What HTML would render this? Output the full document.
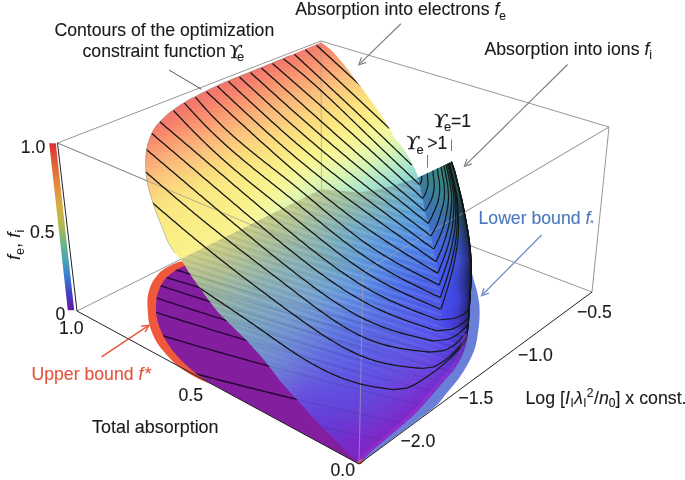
<!DOCTYPE html>
<html><head><meta charset="utf-8"><style>
html,body{margin:0;padding:0;background:#fff;width:685px;height:480px;overflow:hidden}
svg{display:block;font-family:"Liberation Sans",sans-serif;will-change:transform}
</style></head><body>
<svg width="685" height="480" viewBox="0 0 685 480">
<defs><linearGradient id="gu0" gradientUnits="userSpaceOnUse" x1="140" y1="0" x2="428" y2="0"><stop offset="0.000" stop-color="#f2746c"/><stop offset="0.056" stop-color="#f1746c"/><stop offset="0.111" stop-color="#f1746c"/><stop offset="0.167" stop-color="#f1746c"/><stop offset="0.222" stop-color="#f1746c"/><stop offset="0.278" stop-color="#f1746c"/><stop offset="0.333" stop-color="#f1746c"/><stop offset="0.389" stop-color="#f1746c"/><stop offset="0.444" stop-color="#f1736c"/><stop offset="0.500" stop-color="#f1736c"/><stop offset="0.556" stop-color="#f2756b"/><stop offset="0.611" stop-color="#f3796c"/><stop offset="0.667" stop-color="#f5816d"/><stop offset="0.722" stop-color="#f88d6e"/><stop offset="0.778" stop-color="#f99871"/><stop offset="0.833" stop-color="#faa474"/><stop offset="0.889" stop-color="#fab079"/><stop offset="0.944" stop-color="#fabc7c"/><stop offset="1.000" stop-color="#fac67e"/></linearGradient><linearGradient id="gu1" gradientUnits="userSpaceOnUse" x1="140" y1="0" x2="428" y2="0"><stop offset="0.000" stop-color="#f2746b"/><stop offset="0.056" stop-color="#f1746c"/><stop offset="0.111" stop-color="#f1746c"/><stop offset="0.167" stop-color="#f1746c"/><stop offset="0.222" stop-color="#f1746c"/><stop offset="0.278" stop-color="#f1746c"/><stop offset="0.333" stop-color="#f1746c"/><stop offset="0.389" stop-color="#f1736c"/><stop offset="0.444" stop-color="#f1736c"/><stop offset="0.500" stop-color="#f1736b"/><stop offset="0.556" stop-color="#f2766b"/><stop offset="0.611" stop-color="#f47d6c"/><stop offset="0.667" stop-color="#f6876d"/><stop offset="0.722" stop-color="#f9926f"/><stop offset="0.778" stop-color="#fa9e73"/><stop offset="0.833" stop-color="#faaa76"/><stop offset="0.889" stop-color="#fab67a"/><stop offset="0.944" stop-color="#fac17d"/><stop offset="1.000" stop-color="#facb7e"/></linearGradient><linearGradient id="gu2" gradientUnits="userSpaceOnUse" x1="140" y1="0" x2="428" y2="0"><stop offset="0.000" stop-color="#f2736b"/><stop offset="0.056" stop-color="#f1746c"/><stop offset="0.111" stop-color="#f1746c"/><stop offset="0.167" stop-color="#f1736c"/><stop offset="0.222" stop-color="#f1736c"/><stop offset="0.278" stop-color="#f1736c"/><stop offset="0.333" stop-color="#f1736b"/><stop offset="0.389" stop-color="#f1736b"/><stop offset="0.444" stop-color="#f2736b"/><stop offset="0.500" stop-color="#f2746b"/><stop offset="0.556" stop-color="#f3796c"/><stop offset="0.611" stop-color="#f5826d"/><stop offset="0.667" stop-color="#f88d6e"/><stop offset="0.722" stop-color="#f99871"/><stop offset="0.778" stop-color="#faa475"/><stop offset="0.833" stop-color="#fab179"/><stop offset="0.889" stop-color="#fabc7c"/><stop offset="0.944" stop-color="#fbc67d"/><stop offset="1.000" stop-color="#facf7e"/></linearGradient><linearGradient id="gu3" gradientUnits="userSpaceOnUse" x1="140" y1="0" x2="428" y2="0"><stop offset="0.000" stop-color="#f2736b"/><stop offset="0.056" stop-color="#f1736c"/><stop offset="0.111" stop-color="#f1736c"/><stop offset="0.167" stop-color="#f1736b"/><stop offset="0.222" stop-color="#f1736b"/><stop offset="0.278" stop-color="#f1736b"/><stop offset="0.333" stop-color="#f1736b"/><stop offset="0.389" stop-color="#f1736b"/><stop offset="0.444" stop-color="#f2746b"/><stop offset="0.500" stop-color="#f2766b"/><stop offset="0.556" stop-color="#f47d6c"/><stop offset="0.611" stop-color="#f6876d"/><stop offset="0.667" stop-color="#f8936f"/><stop offset="0.722" stop-color="#fa9e73"/><stop offset="0.778" stop-color="#faaa77"/><stop offset="0.833" stop-color="#fab77b"/><stop offset="0.889" stop-color="#fac17d"/><stop offset="0.944" stop-color="#fbcb7e"/><stop offset="1.000" stop-color="#fad37e"/></linearGradient><linearGradient id="gu4" gradientUnits="userSpaceOnUse" x1="140" y1="0" x2="428" y2="0"><stop offset="0.000" stop-color="#f2736b"/><stop offset="0.056" stop-color="#f1736c"/><stop offset="0.111" stop-color="#f1736b"/><stop offset="0.167" stop-color="#f1736b"/><stop offset="0.222" stop-color="#f1736b"/><stop offset="0.278" stop-color="#f1736b"/><stop offset="0.333" stop-color="#f1736b"/><stop offset="0.389" stop-color="#f1736b"/><stop offset="0.444" stop-color="#f2756b"/><stop offset="0.500" stop-color="#f3786b"/><stop offset="0.556" stop-color="#f5826d"/><stop offset="0.611" stop-color="#f88c6e"/><stop offset="0.667" stop-color="#f99871"/><stop offset="0.722" stop-color="#faa474"/><stop offset="0.778" stop-color="#fab079"/><stop offset="0.833" stop-color="#fabd7d"/><stop offset="0.889" stop-color="#fbc67d"/><stop offset="0.944" stop-color="#fbcf7e"/><stop offset="1.000" stop-color="#fad87e"/></linearGradient><linearGradient id="gu5" gradientUnits="userSpaceOnUse" x1="140" y1="0" x2="428" y2="0"><stop offset="0.000" stop-color="#f2736b"/><stop offset="0.056" stop-color="#f1736c"/><stop offset="0.111" stop-color="#f1736b"/><stop offset="0.167" stop-color="#f1736b"/><stop offset="0.222" stop-color="#f1736b"/><stop offset="0.278" stop-color="#f1736b"/><stop offset="0.333" stop-color="#f1736b"/><stop offset="0.389" stop-color="#f2746b"/><stop offset="0.444" stop-color="#f2766c"/><stop offset="0.500" stop-color="#f47c6c"/><stop offset="0.556" stop-color="#f6876d"/><stop offset="0.611" stop-color="#f9926f"/><stop offset="0.667" stop-color="#fa9e72"/><stop offset="0.722" stop-color="#faaa77"/><stop offset="0.778" stop-color="#fab67a"/><stop offset="0.833" stop-color="#fbc27e"/><stop offset="0.889" stop-color="#fbcb7e"/><stop offset="0.944" stop-color="#fbd47d"/><stop offset="1.000" stop-color="#fadc7e"/></linearGradient><linearGradient id="gu6" gradientUnits="userSpaceOnUse" x1="140" y1="0" x2="428" y2="0"><stop offset="0.000" stop-color="#f2736b"/><stop offset="0.056" stop-color="#f1736c"/><stop offset="0.111" stop-color="#f1736b"/><stop offset="0.167" stop-color="#f1736b"/><stop offset="0.222" stop-color="#f1736b"/><stop offset="0.278" stop-color="#f1736b"/><stop offset="0.333" stop-color="#f1736b"/><stop offset="0.389" stop-color="#f2756b"/><stop offset="0.444" stop-color="#f3796c"/><stop offset="0.500" stop-color="#f5816d"/><stop offset="0.556" stop-color="#f88c6e"/><stop offset="0.611" stop-color="#f99871"/><stop offset="0.667" stop-color="#faa474"/><stop offset="0.722" stop-color="#fab079"/><stop offset="0.778" stop-color="#fabc7c"/><stop offset="0.833" stop-color="#fbc67e"/><stop offset="0.889" stop-color="#fbcf7e"/><stop offset="0.944" stop-color="#fbd87d"/><stop offset="1.000" stop-color="#fadf7f"/></linearGradient><linearGradient id="gu7" gradientUnits="userSpaceOnUse" x1="140" y1="0" x2="428" y2="0"><stop offset="0.000" stop-color="#f2736b"/><stop offset="0.056" stop-color="#f1736b"/><stop offset="0.111" stop-color="#f1736b"/><stop offset="0.167" stop-color="#f1736b"/><stop offset="0.222" stop-color="#f1736b"/><stop offset="0.278" stop-color="#f1736b"/><stop offset="0.333" stop-color="#f1736b"/><stop offset="0.389" stop-color="#f2766b"/><stop offset="0.444" stop-color="#f47d6c"/><stop offset="0.500" stop-color="#f6876d"/><stop offset="0.556" stop-color="#f9926f"/><stop offset="0.611" stop-color="#fa9e72"/><stop offset="0.667" stop-color="#faaa76"/><stop offset="0.722" stop-color="#fab67a"/><stop offset="0.778" stop-color="#fac17d"/><stop offset="0.833" stop-color="#fbcb7e"/><stop offset="0.889" stop-color="#fbd37d"/><stop offset="0.944" stop-color="#fbdc7e"/><stop offset="1.000" stop-color="#fae380"/></linearGradient><linearGradient id="gu8" gradientUnits="userSpaceOnUse" x1="140" y1="0" x2="428" y2="0"><stop offset="0.000" stop-color="#f2736b"/><stop offset="0.056" stop-color="#f1736b"/><stop offset="0.111" stop-color="#f1736b"/><stop offset="0.167" stop-color="#f1736b"/><stop offset="0.222" stop-color="#f1736b"/><stop offset="0.278" stop-color="#f2736b"/><stop offset="0.333" stop-color="#f2746b"/><stop offset="0.389" stop-color="#f3796c"/><stop offset="0.444" stop-color="#f5816d"/><stop offset="0.500" stop-color="#f88d6e"/><stop offset="0.556" stop-color="#f99871"/><stop offset="0.611" stop-color="#faa474"/><stop offset="0.667" stop-color="#fab078"/><stop offset="0.722" stop-color="#fabc7c"/><stop offset="0.778" stop-color="#fbc67e"/><stop offset="0.833" stop-color="#fbcf7d"/><stop offset="0.889" stop-color="#fbd87e"/><stop offset="0.944" stop-color="#fae07e"/><stop offset="1.000" stop-color="#fae681"/></linearGradient><linearGradient id="gu9" gradientUnits="userSpaceOnUse" x1="140" y1="0" x2="428" y2="0"><stop offset="0.000" stop-color="#f2736b"/><stop offset="0.056" stop-color="#f1736b"/><stop offset="0.111" stop-color="#f1736b"/><stop offset="0.167" stop-color="#f1736b"/><stop offset="0.222" stop-color="#f1736b"/><stop offset="0.278" stop-color="#f2746b"/><stop offset="0.333" stop-color="#f2766b"/><stop offset="0.389" stop-color="#f47d6c"/><stop offset="0.444" stop-color="#f6866d"/><stop offset="0.500" stop-color="#f8926f"/><stop offset="0.556" stop-color="#fa9e72"/><stop offset="0.611" stop-color="#faaa76"/><stop offset="0.667" stop-color="#fab67b"/><stop offset="0.722" stop-color="#fac17d"/><stop offset="0.778" stop-color="#fbcb7e"/><stop offset="0.833" stop-color="#fbd37d"/><stop offset="0.889" stop-color="#fadc7e"/><stop offset="0.944" stop-color="#fae380"/><stop offset="1.000" stop-color="#fae883"/></linearGradient><linearGradient id="gu10" gradientUnits="userSpaceOnUse" x1="140" y1="0" x2="428" y2="0"><stop offset="0.000" stop-color="#f2736b"/><stop offset="0.056" stop-color="#f1736b"/><stop offset="0.111" stop-color="#f1736b"/><stop offset="0.167" stop-color="#f1736b"/><stop offset="0.222" stop-color="#f1736b"/><stop offset="0.278" stop-color="#f2756b"/><stop offset="0.333" stop-color="#f3786b"/><stop offset="0.389" stop-color="#f5816d"/><stop offset="0.444" stop-color="#f88c6e"/><stop offset="0.500" stop-color="#f99871"/><stop offset="0.556" stop-color="#faa474"/><stop offset="0.611" stop-color="#fab078"/><stop offset="0.667" stop-color="#fabc7c"/><stop offset="0.722" stop-color="#fbc67d"/><stop offset="0.778" stop-color="#fbcf7e"/><stop offset="0.833" stop-color="#fbd87d"/><stop offset="0.889" stop-color="#fae07e"/><stop offset="0.944" stop-color="#fae681"/><stop offset="1.000" stop-color="#faeb85"/></linearGradient><linearGradient id="gu11" gradientUnits="userSpaceOnUse" x1="140" y1="0" x2="428" y2="0"><stop offset="0.000" stop-color="#f2736b"/><stop offset="0.056" stop-color="#f1736b"/><stop offset="0.111" stop-color="#f1736b"/><stop offset="0.167" stop-color="#f1736b"/><stop offset="0.222" stop-color="#f2746b"/><stop offset="0.278" stop-color="#f2766c"/><stop offset="0.333" stop-color="#f47c6c"/><stop offset="0.389" stop-color="#f6876d"/><stop offset="0.444" stop-color="#f8926f"/><stop offset="0.500" stop-color="#fa9e72"/><stop offset="0.556" stop-color="#faaa76"/><stop offset="0.611" stop-color="#fab67a"/><stop offset="0.667" stop-color="#fbc17d"/><stop offset="0.722" stop-color="#fbca7e"/><stop offset="0.778" stop-color="#fbd37d"/><stop offset="0.833" stop-color="#fadc7e"/><stop offset="0.889" stop-color="#fae37f"/><stop offset="0.944" stop-color="#fae883"/><stop offset="1.000" stop-color="#f9ed87"/></linearGradient><linearGradient id="gu12" gradientUnits="userSpaceOnUse" x1="140" y1="0" x2="428" y2="0"><stop offset="0.000" stop-color="#f2736b"/><stop offset="0.056" stop-color="#f1736b"/><stop offset="0.111" stop-color="#f1736b"/><stop offset="0.167" stop-color="#f1736b"/><stop offset="0.222" stop-color="#f2746b"/><stop offset="0.278" stop-color="#f3796c"/><stop offset="0.333" stop-color="#f5816c"/><stop offset="0.389" stop-color="#f78c6e"/><stop offset="0.444" stop-color="#f99871"/><stop offset="0.500" stop-color="#faa474"/><stop offset="0.556" stop-color="#fab078"/><stop offset="0.611" stop-color="#fabc7c"/><stop offset="0.667" stop-color="#fbc67e"/><stop offset="0.722" stop-color="#fbcf7e"/><stop offset="0.778" stop-color="#fbd87d"/><stop offset="0.833" stop-color="#fadf7f"/><stop offset="0.889" stop-color="#fae681"/><stop offset="0.944" stop-color="#faeb85"/><stop offset="1.000" stop-color="#f9ef8a"/></linearGradient><linearGradient id="gu13" gradientUnits="userSpaceOnUse" x1="140" y1="0" x2="428" y2="0"><stop offset="0.000" stop-color="#f2736b"/><stop offset="0.056" stop-color="#f1736b"/><stop offset="0.111" stop-color="#f1736b"/><stop offset="0.167" stop-color="#f1736b"/><stop offset="0.222" stop-color="#f2766b"/><stop offset="0.278" stop-color="#f47c6c"/><stop offset="0.333" stop-color="#f6876d"/><stop offset="0.389" stop-color="#f9926f"/><stop offset="0.444" stop-color="#fa9e72"/><stop offset="0.500" stop-color="#faaa76"/><stop offset="0.556" stop-color="#fab67a"/><stop offset="0.611" stop-color="#fac17d"/><stop offset="0.667" stop-color="#fbca7e"/><stop offset="0.722" stop-color="#fbd37e"/><stop offset="0.778" stop-color="#fbdc7e"/><stop offset="0.833" stop-color="#fae380"/><stop offset="0.889" stop-color="#fae883"/><stop offset="0.944" stop-color="#faee87"/><stop offset="1.000" stop-color="#f8f18e"/></linearGradient><linearGradient id="gu14" gradientUnits="userSpaceOnUse" x1="140" y1="0" x2="428" y2="0"><stop offset="0.000" stop-color="#f1736b"/><stop offset="0.056" stop-color="#f1736b"/><stop offset="0.111" stop-color="#f2736b"/><stop offset="0.167" stop-color="#f2746b"/><stop offset="0.222" stop-color="#f3796c"/><stop offset="0.278" stop-color="#f5816c"/><stop offset="0.333" stop-color="#f78c6e"/><stop offset="0.389" stop-color="#f99871"/><stop offset="0.444" stop-color="#faa474"/><stop offset="0.500" stop-color="#fab078"/><stop offset="0.556" stop-color="#fabb7c"/><stop offset="0.611" stop-color="#fbc67d"/><stop offset="0.667" stop-color="#fbcf7d"/><stop offset="0.722" stop-color="#fbd77e"/><stop offset="0.778" stop-color="#fae07e"/><stop offset="0.833" stop-color="#fae681"/><stop offset="0.889" stop-color="#faeb85"/><stop offset="0.944" stop-color="#f9f08a"/><stop offset="1.000" stop-color="#f8f391"/></linearGradient><linearGradient id="gu15" gradientUnits="userSpaceOnUse" x1="140" y1="0" x2="428" y2="0"><stop offset="0.000" stop-color="#f1736b"/><stop offset="0.056" stop-color="#f1736b"/><stop offset="0.111" stop-color="#f2746b"/><stop offset="0.167" stop-color="#f2766b"/><stop offset="0.222" stop-color="#f47d6c"/><stop offset="0.278" stop-color="#f6866d"/><stop offset="0.333" stop-color="#f8926f"/><stop offset="0.389" stop-color="#fa9e72"/><stop offset="0.444" stop-color="#faaa76"/><stop offset="0.500" stop-color="#fab67a"/><stop offset="0.556" stop-color="#fac17d"/><stop offset="0.611" stop-color="#fbca7e"/><stop offset="0.667" stop-color="#fbd37d"/><stop offset="0.722" stop-color="#fadc7e"/><stop offset="0.778" stop-color="#fae380"/><stop offset="0.833" stop-color="#fae883"/><stop offset="0.889" stop-color="#faed87"/><stop offset="0.944" stop-color="#f9f28d"/><stop offset="1.000" stop-color="#f7f596"/></linearGradient><linearGradient id="gu16" gradientUnits="userSpaceOnUse" x1="140" y1="0" x2="428" y2="0"><stop offset="0.000" stop-color="#f1736b"/><stop offset="0.056" stop-color="#f1736b"/><stop offset="0.111" stop-color="#f2746b"/><stop offset="0.167" stop-color="#f3786b"/><stop offset="0.222" stop-color="#f5816d"/><stop offset="0.278" stop-color="#f88c6e"/><stop offset="0.333" stop-color="#f99770"/><stop offset="0.389" stop-color="#faa474"/><stop offset="0.444" stop-color="#fab078"/><stop offset="0.500" stop-color="#fabc7c"/><stop offset="0.556" stop-color="#fbc57d"/><stop offset="0.611" stop-color="#fbcf7e"/><stop offset="0.667" stop-color="#fbd77d"/><stop offset="0.722" stop-color="#fadf7e"/><stop offset="0.778" stop-color="#fae681"/><stop offset="0.833" stop-color="#faeb84"/><stop offset="0.889" stop-color="#f9f08a"/><stop offset="0.944" stop-color="#f8f391"/><stop offset="1.000" stop-color="#f6f79a"/></linearGradient><linearGradient id="gu17" gradientUnits="userSpaceOnUse" x1="140" y1="0" x2="428" y2="0"><stop offset="0.000" stop-color="#f1736b"/><stop offset="0.056" stop-color="#f2746b"/><stop offset="0.111" stop-color="#f2766c"/><stop offset="0.167" stop-color="#f47b6c"/><stop offset="0.222" stop-color="#f6866d"/><stop offset="0.278" stop-color="#f8926f"/><stop offset="0.333" stop-color="#fa9d72"/><stop offset="0.389" stop-color="#faaa76"/><stop offset="0.444" stop-color="#fab67a"/><stop offset="0.500" stop-color="#fac17d"/><stop offset="0.556" stop-color="#fbca7e"/><stop offset="0.611" stop-color="#fbd37d"/><stop offset="0.667" stop-color="#fadb7e"/><stop offset="0.722" stop-color="#fae37f"/><stop offset="0.778" stop-color="#fae883"/><stop offset="0.833" stop-color="#faed87"/><stop offset="0.889" stop-color="#f9f28d"/><stop offset="0.944" stop-color="#f7f596"/><stop offset="1.000" stop-color="#f4f79e"/></linearGradient><linearGradient id="gu18" gradientUnits="userSpaceOnUse" x1="140" y1="0" x2="428" y2="0"><stop offset="0.000" stop-color="#f1736b"/><stop offset="0.056" stop-color="#f2746b"/><stop offset="0.111" stop-color="#f3796c"/><stop offset="0.167" stop-color="#f5816c"/><stop offset="0.222" stop-color="#f78c6e"/><stop offset="0.278" stop-color="#f99771"/><stop offset="0.333" stop-color="#faa374"/><stop offset="0.389" stop-color="#fab078"/><stop offset="0.444" stop-color="#fabb7c"/><stop offset="0.500" stop-color="#fbc67e"/><stop offset="0.556" stop-color="#fbcf7e"/><stop offset="0.611" stop-color="#fbd77d"/><stop offset="0.667" stop-color="#fadf7f"/><stop offset="0.722" stop-color="#fae681"/><stop offset="0.778" stop-color="#faeb84"/><stop offset="0.833" stop-color="#f9f08a"/><stop offset="0.889" stop-color="#f8f491"/><stop offset="0.944" stop-color="#f6f69a"/><stop offset="1.000" stop-color="#f0f7a2"/></linearGradient><linearGradient id="gu19" gradientUnits="userSpaceOnUse" x1="140" y1="0" x2="428" y2="0"><stop offset="0.000" stop-color="#f1736b"/><stop offset="0.056" stop-color="#f2766b"/><stop offset="0.111" stop-color="#f47c6c"/><stop offset="0.167" stop-color="#f6866d"/><stop offset="0.222" stop-color="#f8916f"/><stop offset="0.278" stop-color="#fa9d72"/><stop offset="0.333" stop-color="#faa976"/><stop offset="0.389" stop-color="#fab67a"/><stop offset="0.444" stop-color="#fac07d"/><stop offset="0.500" stop-color="#fbca7e"/><stop offset="0.556" stop-color="#fbd37e"/><stop offset="0.611" stop-color="#fbdc7e"/><stop offset="0.667" stop-color="#fae280"/><stop offset="0.722" stop-color="#fae883"/><stop offset="0.778" stop-color="#faee86"/><stop offset="0.833" stop-color="#f9f28d"/><stop offset="0.889" stop-color="#f7f596"/><stop offset="0.944" stop-color="#f4f79e"/><stop offset="1.000" stop-color="#ebf7a6"/></linearGradient><linearGradient id="gu20" gradientUnits="userSpaceOnUse" x1="140" y1="0" x2="428" y2="0"><stop offset="0.000" stop-color="#f2746b"/><stop offset="0.056" stop-color="#f3796c"/><stop offset="0.111" stop-color="#f5816c"/><stop offset="0.167" stop-color="#f78c6e"/><stop offset="0.222" stop-color="#f99770"/><stop offset="0.278" stop-color="#faa374"/><stop offset="0.333" stop-color="#faaf78"/><stop offset="0.389" stop-color="#fabb7c"/><stop offset="0.444" stop-color="#fbc57d"/><stop offset="0.500" stop-color="#fbce7d"/><stop offset="0.556" stop-color="#fbd77e"/><stop offset="0.611" stop-color="#fadf7e"/><stop offset="0.667" stop-color="#fae581"/><stop offset="0.722" stop-color="#faeb85"/><stop offset="0.778" stop-color="#f9f089"/><stop offset="0.833" stop-color="#f8f391"/><stop offset="0.889" stop-color="#f6f69a"/><stop offset="0.944" stop-color="#f1f8a2"/><stop offset="1.000" stop-color="#e7f7aa"/></linearGradient><linearGradient id="gu21" gradientUnits="userSpaceOnUse" x1="140" y1="0" x2="428" y2="0"><stop offset="0.000" stop-color="#f2766b"/><stop offset="0.056" stop-color="#f47c6c"/><stop offset="0.111" stop-color="#f6866d"/><stop offset="0.167" stop-color="#f8916f"/><stop offset="0.222" stop-color="#fa9d72"/><stop offset="0.278" stop-color="#faa976"/><stop offset="0.333" stop-color="#fab57a"/><stop offset="0.389" stop-color="#fac07d"/><stop offset="0.444" stop-color="#fbca7e"/><stop offset="0.500" stop-color="#fbd37d"/><stop offset="0.556" stop-color="#fbdb7e"/><stop offset="0.611" stop-color="#fae27f"/><stop offset="0.667" stop-color="#fae882"/><stop offset="0.722" stop-color="#faed87"/><stop offset="0.778" stop-color="#f9f28d"/><stop offset="0.833" stop-color="#f8f595"/><stop offset="0.889" stop-color="#f4f79e"/><stop offset="0.944" stop-color="#ecf8a6"/><stop offset="1.000" stop-color="#e1f6ae"/></linearGradient><linearGradient id="gu22" gradientUnits="userSpaceOnUse" x1="140" y1="0" x2="428" y2="0"><stop offset="0.000" stop-color="#f3786b"/><stop offset="0.056" stop-color="#f5816d"/><stop offset="0.111" stop-color="#f78b6e"/><stop offset="0.167" stop-color="#f99770"/><stop offset="0.222" stop-color="#faa374"/><stop offset="0.278" stop-color="#faaf78"/><stop offset="0.333" stop-color="#fabb7c"/><stop offset="0.389" stop-color="#fac57d"/><stop offset="0.444" stop-color="#fbce7e"/><stop offset="0.500" stop-color="#fbd77d"/><stop offset="0.556" stop-color="#fadf7e"/><stop offset="0.611" stop-color="#fae581"/><stop offset="0.667" stop-color="#faeb84"/><stop offset="0.722" stop-color="#f9f089"/><stop offset="0.778" stop-color="#f8f391"/><stop offset="0.833" stop-color="#f7f79a"/><stop offset="0.889" stop-color="#f1f8a2"/><stop offset="0.944" stop-color="#e7f7aa"/><stop offset="1.000" stop-color="#dbf5b2"/></linearGradient><linearGradient id="gu23" gradientUnits="userSpaceOnUse" x1="140" y1="0" x2="428" y2="0"><stop offset="0.000" stop-color="#f47c6c"/><stop offset="0.056" stop-color="#f6866d"/><stop offset="0.111" stop-color="#f8916f"/><stop offset="0.167" stop-color="#fa9d72"/><stop offset="0.222" stop-color="#faa976"/><stop offset="0.278" stop-color="#fab57a"/><stop offset="0.333" stop-color="#fac17d"/><stop offset="0.389" stop-color="#fbca7e"/><stop offset="0.444" stop-color="#fbd37d"/><stop offset="0.500" stop-color="#fadb7e"/><stop offset="0.556" stop-color="#fae37f"/><stop offset="0.611" stop-color="#fae883"/><stop offset="0.667" stop-color="#faed87"/><stop offset="0.722" stop-color="#f9f28d"/><stop offset="0.778" stop-color="#f7f595"/><stop offset="0.833" stop-color="#f4f79e"/><stop offset="0.889" stop-color="#edf8a6"/><stop offset="0.944" stop-color="#e1f6ae"/><stop offset="1.000" stop-color="#d4f4b6"/></linearGradient><linearGradient id="gu24" gradientUnits="userSpaceOnUse" x1="140" y1="0" x2="428" y2="0"><stop offset="0.000" stop-color="#f5816d"/><stop offset="0.056" stop-color="#f78b6e"/><stop offset="0.111" stop-color="#f99771"/><stop offset="0.167" stop-color="#faa374"/><stop offset="0.222" stop-color="#faaf78"/><stop offset="0.278" stop-color="#fabb7c"/><stop offset="0.333" stop-color="#fbc57d"/><stop offset="0.389" stop-color="#fbce7e"/><stop offset="0.444" stop-color="#fbd77d"/><stop offset="0.500" stop-color="#fadf7f"/><stop offset="0.556" stop-color="#fae581"/><stop offset="0.611" stop-color="#faeb84"/><stop offset="0.667" stop-color="#f9ef8a"/><stop offset="0.722" stop-color="#f8f391"/><stop offset="0.778" stop-color="#f6f69a"/><stop offset="0.833" stop-color="#f0f8a2"/><stop offset="0.889" stop-color="#e7f7aa"/><stop offset="0.944" stop-color="#dbf5b3"/><stop offset="1.000" stop-color="#cdf1bb"/></linearGradient><linearGradient id="gu25" gradientUnits="userSpaceOnUse" x1="140" y1="0" x2="428" y2="0"><stop offset="0.000" stop-color="#f6866d"/><stop offset="0.056" stop-color="#f8916f"/><stop offset="0.111" stop-color="#fa9d72"/><stop offset="0.167" stop-color="#faa976"/><stop offset="0.222" stop-color="#fab57a"/><stop offset="0.278" stop-color="#fac07d"/><stop offset="0.333" stop-color="#fbca7e"/><stop offset="0.389" stop-color="#fbd37e"/><stop offset="0.444" stop-color="#fbdb7d"/><stop offset="0.500" stop-color="#fae280"/><stop offset="0.556" stop-color="#fae882"/><stop offset="0.611" stop-color="#faed86"/><stop offset="0.667" stop-color="#f9f18d"/><stop offset="0.722" stop-color="#f7f595"/><stop offset="0.778" stop-color="#f4f79e"/><stop offset="0.833" stop-color="#ecf7a6"/><stop offset="0.889" stop-color="#e1f6ae"/><stop offset="0.944" stop-color="#d4f3b7"/><stop offset="1.000" stop-color="#c5eebf"/></linearGradient><linearGradient id="gu26" gradientUnits="userSpaceOnUse" x1="140" y1="0" x2="428" y2="0"><stop offset="0.000" stop-color="#f78c6e"/><stop offset="0.056" stop-color="#f99770"/><stop offset="0.111" stop-color="#faa374"/><stop offset="0.167" stop-color="#faaf78"/><stop offset="0.222" stop-color="#fabb7c"/><stop offset="0.278" stop-color="#fbc57d"/><stop offset="0.333" stop-color="#fbce7d"/><stop offset="0.389" stop-color="#fbd77e"/><stop offset="0.444" stop-color="#fadf7e"/><stop offset="0.500" stop-color="#fae581"/><stop offset="0.556" stop-color="#faeb84"/><stop offset="0.611" stop-color="#f9f089"/><stop offset="0.667" stop-color="#f8f391"/><stop offset="0.722" stop-color="#f6f69a"/><stop offset="0.778" stop-color="#f1f8a2"/><stop offset="0.833" stop-color="#e7f7aa"/><stop offset="0.889" stop-color="#dbf5b2"/><stop offset="0.944" stop-color="#cdf1bb"/><stop offset="1.000" stop-color="#bdebc3"/></linearGradient><linearGradient id="gu27" gradientUnits="userSpaceOnUse" x1="140" y1="0" x2="428" y2="0"><stop offset="0.000" stop-color="#f8916f"/><stop offset="0.056" stop-color="#fa9d72"/><stop offset="0.111" stop-color="#faa976"/><stop offset="0.167" stop-color="#fab57a"/><stop offset="0.222" stop-color="#fac07d"/><stop offset="0.278" stop-color="#fbca7e"/><stop offset="0.333" stop-color="#fbd37d"/><stop offset="0.389" stop-color="#fadb7e"/><stop offset="0.444" stop-color="#fae27f"/><stop offset="0.500" stop-color="#fae882"/><stop offset="0.556" stop-color="#faed86"/><stop offset="0.611" stop-color="#f9f28d"/><stop offset="0.667" stop-color="#f8f595"/><stop offset="0.722" stop-color="#f4f79e"/><stop offset="0.778" stop-color="#ecf8a6"/><stop offset="0.833" stop-color="#e1f7ae"/><stop offset="0.889" stop-color="#d4f3b7"/><stop offset="0.944" stop-color="#c5eebf"/><stop offset="1.000" stop-color="#b6e8c6"/></linearGradient><linearGradient id="gu28" gradientUnits="userSpaceOnUse" x1="140" y1="0" x2="428" y2="0"><stop offset="0.000" stop-color="#f99770"/><stop offset="0.056" stop-color="#faa374"/><stop offset="0.111" stop-color="#faaf78"/><stop offset="0.167" stop-color="#fabb7c"/><stop offset="0.222" stop-color="#fac57d"/><stop offset="0.278" stop-color="#fbce7e"/><stop offset="0.333" stop-color="#fbd77d"/><stop offset="0.389" stop-color="#fadf7e"/><stop offset="0.444" stop-color="#fae581"/><stop offset="0.500" stop-color="#faea84"/><stop offset="0.556" stop-color="#f9ef89"/><stop offset="0.611" stop-color="#f8f391"/><stop offset="0.667" stop-color="#f7f699"/><stop offset="0.722" stop-color="#f1f8a2"/><stop offset="0.778" stop-color="#e7f7aa"/><stop offset="0.833" stop-color="#dcf6b2"/><stop offset="0.889" stop-color="#cdf1bb"/><stop offset="0.944" stop-color="#bdebc3"/><stop offset="1.000" stop-color="#aee5c9"/></linearGradient><linearGradient id="gu29" gradientUnits="userSpaceOnUse" x1="140" y1="0" x2="428" y2="0"><stop offset="0.000" stop-color="#fa9d72"/><stop offset="0.056" stop-color="#faa976"/><stop offset="0.111" stop-color="#fab57a"/><stop offset="0.167" stop-color="#fac07d"/><stop offset="0.222" stop-color="#fbca7e"/><stop offset="0.278" stop-color="#fbd37d"/><stop offset="0.333" stop-color="#fadb7e"/><stop offset="0.389" stop-color="#fae27f"/><stop offset="0.444" stop-color="#fae882"/><stop offset="0.500" stop-color="#faec86"/><stop offset="0.556" stop-color="#f9f18c"/><stop offset="0.611" stop-color="#f7f595"/><stop offset="0.667" stop-color="#f4f79e"/><stop offset="0.722" stop-color="#edf8a6"/><stop offset="0.778" stop-color="#e1f6ae"/><stop offset="0.833" stop-color="#d5f4b6"/><stop offset="0.889" stop-color="#c5eebf"/><stop offset="0.944" stop-color="#b6e8c6"/><stop offset="1.000" stop-color="#a7e2cb"/></linearGradient><linearGradient id="gu30" gradientUnits="userSpaceOnUse" x1="140" y1="0" x2="428" y2="0"><stop offset="0.000" stop-color="#faa374"/><stop offset="0.056" stop-color="#faaf78"/><stop offset="0.111" stop-color="#faba7b"/><stop offset="0.167" stop-color="#fbc57d"/><stop offset="0.222" stop-color="#fbce7e"/><stop offset="0.278" stop-color="#fbd77d"/><stop offset="0.333" stop-color="#fadf7f"/><stop offset="0.389" stop-color="#fae581"/><stop offset="0.444" stop-color="#faea83"/><stop offset="0.500" stop-color="#f9ee88"/><stop offset="0.556" stop-color="#f8f390"/><stop offset="0.611" stop-color="#f6f699"/><stop offset="0.667" stop-color="#f1f8a2"/><stop offset="0.722" stop-color="#e8f7aa"/><stop offset="0.778" stop-color="#dbf5b2"/><stop offset="0.833" stop-color="#cdf1bb"/><stop offset="0.889" stop-color="#beecc2"/><stop offset="0.944" stop-color="#aee5c9"/><stop offset="1.000" stop-color="#a0dfcd"/></linearGradient><linearGradient id="gu31" gradientUnits="userSpaceOnUse" x1="140" y1="0" x2="428" y2="0"><stop offset="0.000" stop-color="#faa976"/><stop offset="0.056" stop-color="#fab57a"/><stop offset="0.111" stop-color="#fac07d"/><stop offset="0.167" stop-color="#fbc97d"/><stop offset="0.222" stop-color="#fbd27e"/><stop offset="0.278" stop-color="#fbdb7d"/><stop offset="0.333" stop-color="#fae280"/><stop offset="0.389" stop-color="#fae882"/><stop offset="0.444" stop-color="#faec85"/><stop offset="0.500" stop-color="#f9f08a"/><stop offset="0.556" stop-color="#f8f594"/><stop offset="0.611" stop-color="#f5f79e"/><stop offset="0.667" stop-color="#ecf7a6"/><stop offset="0.722" stop-color="#e2f7ae"/><stop offset="0.778" stop-color="#d4f3b6"/><stop offset="0.833" stop-color="#c5eebf"/><stop offset="0.889" stop-color="#b6e9c6"/><stop offset="0.944" stop-color="#a6e2cb"/><stop offset="1.000" stop-color="#99dcce"/></linearGradient><linearGradient id="gu32" gradientUnits="userSpaceOnUse" x1="140" y1="0" x2="428" y2="0"><stop offset="0.000" stop-color="#faaf78"/><stop offset="0.056" stop-color="#faba7b"/><stop offset="0.111" stop-color="#fbc57d"/><stop offset="0.167" stop-color="#fbce7d"/><stop offset="0.222" stop-color="#fbd77e"/><stop offset="0.278" stop-color="#fadf7e"/><stop offset="0.333" stop-color="#fae581"/><stop offset="0.389" stop-color="#fae983"/><stop offset="0.444" stop-color="#faed86"/><stop offset="0.500" stop-color="#f9f28d"/><stop offset="0.556" stop-color="#f6f699"/><stop offset="0.611" stop-color="#f1f8a2"/><stop offset="0.667" stop-color="#e7f7aa"/><stop offset="0.722" stop-color="#dbf5b2"/><stop offset="0.778" stop-color="#cdf1bb"/><stop offset="0.833" stop-color="#beecc3"/><stop offset="0.889" stop-color="#aee5c9"/><stop offset="0.944" stop-color="#9fdfcd"/><stop offset="1.000" stop-color="#92d8d0"/></linearGradient><linearGradient id="gu33" gradientUnits="userSpaceOnUse" x1="140" y1="0" x2="428" y2="0"><stop offset="0.000" stop-color="#fab57a"/><stop offset="0.056" stop-color="#fac07c"/><stop offset="0.111" stop-color="#fbc97e"/><stop offset="0.167" stop-color="#fbd27d"/><stop offset="0.222" stop-color="#fadb7e"/><stop offset="0.278" stop-color="#fae27f"/><stop offset="0.333" stop-color="#fae782"/><stop offset="0.389" stop-color="#faeb84"/><stop offset="0.444" stop-color="#f9ef88"/><stop offset="0.500" stop-color="#f8f391"/><stop offset="0.556" stop-color="#f5f79d"/><stop offset="0.611" stop-color="#edf8a6"/><stop offset="0.667" stop-color="#e2f7ae"/><stop offset="0.722" stop-color="#d4f3b6"/><stop offset="0.778" stop-color="#c6efbf"/><stop offset="0.833" stop-color="#b6e9c6"/><stop offset="0.889" stop-color="#a7e2cb"/><stop offset="0.944" stop-color="#98dccf"/><stop offset="1.000" stop-color="#8cd5d1"/></linearGradient><linearGradient id="gu34" gradientUnits="userSpaceOnUse" x1="140" y1="0" x2="428" y2="0"><stop offset="0.000" stop-color="#fabb7c"/><stop offset="0.056" stop-color="#fac57d"/><stop offset="0.111" stop-color="#fbce7e"/><stop offset="0.167" stop-color="#fbd77d"/><stop offset="0.222" stop-color="#fadf7e"/><stop offset="0.278" stop-color="#fae581"/><stop offset="0.333" stop-color="#fae983"/><stop offset="0.389" stop-color="#faec85"/><stop offset="0.444" stop-color="#f9f08a"/><stop offset="0.500" stop-color="#f8f595"/><stop offset="0.556" stop-color="#f2f8a1"/><stop offset="0.611" stop-color="#e7f7aa"/><stop offset="0.667" stop-color="#dcf6b2"/><stop offset="0.722" stop-color="#cdf1bb"/><stop offset="0.778" stop-color="#beecc2"/><stop offset="0.833" stop-color="#aee6c9"/><stop offset="0.889" stop-color="#9fdfcd"/><stop offset="0.944" stop-color="#92d8d0"/><stop offset="1.000" stop-color="#86d2d2"/></linearGradient><linearGradient id="gu35" gradientUnits="userSpaceOnUse" x1="140" y1="0" x2="428" y2="0"><stop offset="0.000" stop-color="#fac07d"/><stop offset="0.056" stop-color="#fbc97e"/><stop offset="0.111" stop-color="#fbd27d"/><stop offset="0.167" stop-color="#fadb7e"/><stop offset="0.222" stop-color="#fae27f"/><stop offset="0.278" stop-color="#fae782"/><stop offset="0.333" stop-color="#faea84"/><stop offset="0.389" stop-color="#faee86"/><stop offset="0.444" stop-color="#f9f28d"/><stop offset="0.500" stop-color="#f7f698"/><stop offset="0.556" stop-color="#eff8a5"/><stop offset="0.611" stop-color="#e2f6ae"/><stop offset="0.667" stop-color="#d5f4b6"/><stop offset="0.722" stop-color="#c6efbf"/><stop offset="0.778" stop-color="#b6e9c6"/><stop offset="0.833" stop-color="#a7e2cb"/><stop offset="0.889" stop-color="#98dccf"/><stop offset="0.944" stop-color="#8cd5d1"/><stop offset="1.000" stop-color="#82cfd3"/></linearGradient><linearGradient id="gu36" gradientUnits="userSpaceOnUse" x1="140" y1="0" x2="428" y2="0"><stop offset="0.000" stop-color="#fac57d"/><stop offset="0.056" stop-color="#fbce7e"/><stop offset="0.111" stop-color="#fbd77d"/><stop offset="0.167" stop-color="#fade7f"/><stop offset="0.222" stop-color="#fae581"/><stop offset="0.278" stop-color="#fae883"/><stop offset="0.333" stop-color="#faeb85"/><stop offset="0.389" stop-color="#f9ef88"/><stop offset="0.444" stop-color="#f8f390"/><stop offset="0.500" stop-color="#f5f79c"/><stop offset="0.556" stop-color="#e9f8a9"/><stop offset="0.611" stop-color="#dbf5b2"/><stop offset="0.667" stop-color="#cef1ba"/><stop offset="0.722" stop-color="#beecc2"/><stop offset="0.778" stop-color="#aee6c9"/><stop offset="0.833" stop-color="#a0dfcd"/><stop offset="0.889" stop-color="#92d8d0"/><stop offset="0.944" stop-color="#86d2d2"/><stop offset="1.000" stop-color="#7fced3"/></linearGradient><linearGradient id="gu37" gradientUnits="userSpaceOnUse" x1="140" y1="0" x2="428" y2="0"><stop offset="0.000" stop-color="#fac97d"/><stop offset="0.056" stop-color="#fbd27e"/><stop offset="0.111" stop-color="#fbdb7d"/><stop offset="0.167" stop-color="#fae27f"/><stop offset="0.222" stop-color="#fae782"/><stop offset="0.278" stop-color="#fae984"/><stop offset="0.333" stop-color="#faec85"/><stop offset="0.389" stop-color="#f9f089"/><stop offset="0.444" stop-color="#f8f493"/><stop offset="0.500" stop-color="#f4f89f"/><stop offset="0.556" stop-color="#e4f7ad"/><stop offset="0.611" stop-color="#d5f4b6"/><stop offset="0.667" stop-color="#c6efbf"/><stop offset="0.722" stop-color="#b6e9c6"/><stop offset="0.778" stop-color="#a7e3cb"/><stop offset="0.833" stop-color="#99dcce"/><stop offset="0.889" stop-color="#8cd5d1"/><stop offset="0.944" stop-color="#81cfd3"/><stop offset="1.000" stop-color="#7dcdd3"/></linearGradient><linearGradient id="gu38" gradientUnits="userSpaceOnUse" x1="140" y1="0" x2="428" y2="0"><stop offset="0.000" stop-color="#fbce7d"/><stop offset="0.056" stop-color="#fbd67e"/><stop offset="0.111" stop-color="#fadf7e"/><stop offset="0.167" stop-color="#fae581"/><stop offset="0.222" stop-color="#fae983"/><stop offset="0.278" stop-color="#faea84"/><stop offset="0.333" stop-color="#faed86"/><stop offset="0.389" stop-color="#f9f18b"/><stop offset="0.444" stop-color="#f8f595"/><stop offset="0.500" stop-color="#f1f8a3"/><stop offset="0.556" stop-color="#def6b1"/><stop offset="0.611" stop-color="#cef1ba"/><stop offset="0.667" stop-color="#beecc3"/><stop offset="0.722" stop-color="#afe6c9"/><stop offset="0.778" stop-color="#a0dfcd"/><stop offset="0.833" stop-color="#92d8d0"/><stop offset="0.889" stop-color="#87d2d2"/><stop offset="0.944" stop-color="#7ecdd3"/><stop offset="1.000" stop-color="#7cccd4"/></linearGradient><linearGradient id="gu39" gradientUnits="userSpaceOnUse" x1="140" y1="0" x2="428" y2="0"><stop offset="0.000" stop-color="#fbd27d"/><stop offset="0.056" stop-color="#fadb7e"/><stop offset="0.111" stop-color="#fae27f"/><stop offset="0.167" stop-color="#fae782"/><stop offset="0.222" stop-color="#faea84"/><stop offset="0.278" stop-color="#faeb85"/><stop offset="0.333" stop-color="#faee86"/><stop offset="0.389" stop-color="#f9f28d"/><stop offset="0.444" stop-color="#f7f698"/><stop offset="0.500" stop-color="#edf8a6"/><stop offset="0.556" stop-color="#d7f4b5"/><stop offset="0.611" stop-color="#c6efbe"/><stop offset="0.667" stop-color="#b6e9c6"/><stop offset="0.722" stop-color="#a7e3cb"/><stop offset="0.778" stop-color="#99dccf"/><stop offset="0.833" stop-color="#8cd5d1"/><stop offset="0.889" stop-color="#82cfd3"/><stop offset="0.944" stop-color="#7dcdd4"/><stop offset="1.000" stop-color="#7cccd4"/></linearGradient><linearGradient id="gu40" gradientUnits="userSpaceOnUse" x1="140" y1="0" x2="428" y2="0"><stop offset="0.000" stop-color="#fbd67d"/><stop offset="0.056" stop-color="#fadf7e"/><stop offset="0.111" stop-color="#fae581"/><stop offset="0.167" stop-color="#fae883"/><stop offset="0.222" stop-color="#faea84"/><stop offset="0.278" stop-color="#faec85"/><stop offset="0.333" stop-color="#faef87"/><stop offset="0.389" stop-color="#f8f38f"/><stop offset="0.444" stop-color="#f6f79b"/><stop offset="0.500" stop-color="#e8f7a9"/><stop offset="0.556" stop-color="#d0f2b9"/><stop offset="0.611" stop-color="#beecc2"/><stop offset="0.667" stop-color="#afe6c8"/><stop offset="0.722" stop-color="#a0dfcd"/><stop offset="0.778" stop-color="#93d9d0"/><stop offset="0.833" stop-color="#86d2d2"/><stop offset="0.889" stop-color="#7ecdd3"/><stop offset="0.944" stop-color="#7cccd4"/><stop offset="1.000" stop-color="#7cccd4"/></linearGradient><linearGradient id="gu41" gradientUnits="userSpaceOnUse" x1="140" y1="0" x2="428" y2="0"><stop offset="0.000" stop-color="#fada7e"/><stop offset="0.056" stop-color="#fae27f"/><stop offset="0.111" stop-color="#fae782"/><stop offset="0.167" stop-color="#fae984"/><stop offset="0.222" stop-color="#faeb85"/><stop offset="0.278" stop-color="#faec85"/><stop offset="0.333" stop-color="#f9ef88"/><stop offset="0.389" stop-color="#f8f392"/><stop offset="0.444" stop-color="#f5f89e"/><stop offset="0.500" stop-color="#e3f6ad"/><stop offset="0.556" stop-color="#c9f0bd"/><stop offset="0.611" stop-color="#b6e9c6"/><stop offset="0.667" stop-color="#a7e3cb"/><stop offset="0.722" stop-color="#99dccf"/><stop offset="0.778" stop-color="#8cd5d1"/><stop offset="0.833" stop-color="#82cfd3"/><stop offset="0.889" stop-color="#7cccd4"/><stop offset="0.944" stop-color="#7cccd4"/><stop offset="1.000" stop-color="#7cccd4"/></linearGradient><linearGradient id="gu42" gradientUnits="userSpaceOnUse" x1="140" y1="0" x2="428" y2="0"><stop offset="0.000" stop-color="#fade7f"/><stop offset="0.056" stop-color="#fae580"/><stop offset="0.111" stop-color="#fae883"/><stop offset="0.167" stop-color="#faea84"/><stop offset="0.222" stop-color="#faec85"/><stop offset="0.278" stop-color="#faed86"/><stop offset="0.333" stop-color="#f9f089"/><stop offset="0.389" stop-color="#f8f494"/><stop offset="0.444" stop-color="#f2f8a1"/><stop offset="0.500" stop-color="#def6b0"/><stop offset="0.556" stop-color="#c2edc1"/><stop offset="0.611" stop-color="#afe6c9"/><stop offset="0.667" stop-color="#a0dfcd"/><stop offset="0.722" stop-color="#92d9d0"/><stop offset="0.778" stop-color="#86d2d2"/><stop offset="0.833" stop-color="#7fced3"/><stop offset="0.889" stop-color="#7cccd4"/><stop offset="0.944" stop-color="#7cccd4"/><stop offset="1.000" stop-color="#7cccd4"/></linearGradient><linearGradient id="gu43" gradientUnits="userSpaceOnUse" x1="140" y1="0" x2="428" y2="0"><stop offset="0.000" stop-color="#fae27f"/><stop offset="0.056" stop-color="#fae782"/><stop offset="0.111" stop-color="#fae983"/><stop offset="0.167" stop-color="#faeb85"/><stop offset="0.222" stop-color="#faec85"/><stop offset="0.278" stop-color="#faee86"/><stop offset="0.333" stop-color="#f9f18b"/><stop offset="0.389" stop-color="#f8f596"/><stop offset="0.444" stop-color="#eff8a4"/><stop offset="0.500" stop-color="#d9f5b4"/><stop offset="0.556" stop-color="#baeac4"/><stop offset="0.611" stop-color="#a7e3cb"/><stop offset="0.667" stop-color="#9adcce"/><stop offset="0.722" stop-color="#8cd5d1"/><stop offset="0.778" stop-color="#81cfd3"/><stop offset="0.833" stop-color="#7dcdd3"/><stop offset="0.889" stop-color="#7cccd4"/><stop offset="0.944" stop-color="#7cccd4"/><stop offset="1.000" stop-color="#7cccd4"/></linearGradient><linearGradient id="gu44" gradientUnits="userSpaceOnUse" x1="140" y1="0" x2="428" y2="0"><stop offset="0.000" stop-color="#fae480"/><stop offset="0.056" stop-color="#fae883"/><stop offset="0.111" stop-color="#faea84"/><stop offset="0.167" stop-color="#faec85"/><stop offset="0.222" stop-color="#faed86"/><stop offset="0.278" stop-color="#faef87"/><stop offset="0.333" stop-color="#f9f18c"/><stop offset="0.389" stop-color="#f7f698"/><stop offset="0.444" stop-color="#ecf8a6"/><stop offset="0.500" stop-color="#d3f3b7"/><stop offset="0.556" stop-color="#b2e7c7"/><stop offset="0.611" stop-color="#a0dfcd"/><stop offset="0.667" stop-color="#93d9d0"/><stop offset="0.722" stop-color="#87d2d2"/><stop offset="0.778" stop-color="#7ecdd3"/><stop offset="0.833" stop-color="#7cccd4"/><stop offset="0.889" stop-color="#7cccd4"/><stop offset="0.944" stop-color="#7cccd4"/><stop offset="1.000" stop-color="#7ccdd4"/></linearGradient><linearGradient id="gu45" gradientUnits="userSpaceOnUse" x1="140" y1="0" x2="428" y2="0"><stop offset="0.000" stop-color="#fae682"/><stop offset="0.056" stop-color="#fae984"/><stop offset="0.111" stop-color="#faeb85"/><stop offset="0.167" stop-color="#faec85"/><stop offset="0.222" stop-color="#faee86"/><stop offset="0.278" stop-color="#f9ef88"/><stop offset="0.333" stop-color="#f9f28e"/><stop offset="0.389" stop-color="#f6f69a"/><stop offset="0.444" stop-color="#e9f7a9"/><stop offset="0.500" stop-color="#cdf1bb"/><stop offset="0.556" stop-color="#abe4ca"/><stop offset="0.611" stop-color="#99dccf"/><stop offset="0.667" stop-color="#8cd5d1"/><stop offset="0.722" stop-color="#82d0d3"/><stop offset="0.778" stop-color="#7dcdd3"/><stop offset="0.833" stop-color="#7cccd4"/><stop offset="0.889" stop-color="#7cccd4"/><stop offset="0.944" stop-color="#7cccd4"/><stop offset="1.000" stop-color="#7ccdd4"/></linearGradient><linearGradient id="gu46" gradientUnits="userSpaceOnUse" x1="140" y1="0" x2="428" y2="0"><stop offset="0.000" stop-color="#fae883"/><stop offset="0.056" stop-color="#faea84"/><stop offset="0.111" stop-color="#faec85"/><stop offset="0.167" stop-color="#faed86"/><stop offset="0.222" stop-color="#faef87"/><stop offset="0.278" stop-color="#f9f088"/><stop offset="0.333" stop-color="#f8f38f"/><stop offset="0.389" stop-color="#f5f79d"/><stop offset="0.444" stop-color="#e5f7ac"/><stop offset="0.500" stop-color="#c6efbe"/><stop offset="0.556" stop-color="#a4e1cc"/><stop offset="0.611" stop-color="#93d9d0"/><stop offset="0.667" stop-color="#86d2d2"/><stop offset="0.722" stop-color="#7ecdd3"/><stop offset="0.778" stop-color="#7cccd4"/><stop offset="0.833" stop-color="#7cccd4"/><stop offset="0.889" stop-color="#7cccd4"/><stop offset="0.944" stop-color="#7cccd4"/><stop offset="1.000" stop-color="#7ccdd4"/></linearGradient><linearGradient id="gu47" gradientUnits="userSpaceOnUse" x1="140" y1="0" x2="428" y2="0"><stop offset="0.000" stop-color="#fae984"/><stop offset="0.056" stop-color="#faeb85"/><stop offset="0.111" stop-color="#faec85"/><stop offset="0.167" stop-color="#faee86"/><stop offset="0.222" stop-color="#f9ef88"/><stop offset="0.278" stop-color="#f9f089"/><stop offset="0.333" stop-color="#f8f391"/><stop offset="0.389" stop-color="#f4f79f"/><stop offset="0.444" stop-color="#e1f6af"/><stop offset="0.500" stop-color="#c0ecc1"/><stop offset="0.556" stop-color="#9ddece"/><stop offset="0.611" stop-color="#8cd5d1"/><stop offset="0.667" stop-color="#82cfd3"/><stop offset="0.722" stop-color="#7cccd4"/><stop offset="0.778" stop-color="#7cccd4"/><stop offset="0.833" stop-color="#7cccd4"/><stop offset="0.889" stop-color="#7cccd4"/><stop offset="0.944" stop-color="#7cccd4"/><stop offset="1.000" stop-color="#7ccdd4"/></linearGradient><linearGradient id="gu48" gradientUnits="userSpaceOnUse" x1="140" y1="0" x2="428" y2="0"><stop offset="0.000" stop-color="#faea84"/><stop offset="0.056" stop-color="#faec85"/><stop offset="0.111" stop-color="#faed86"/><stop offset="0.167" stop-color="#faef87"/><stop offset="0.222" stop-color="#f9f089"/><stop offset="0.278" stop-color="#f9f18b"/><stop offset="0.333" stop-color="#f8f493"/><stop offset="0.389" stop-color="#f2f8a1"/><stop offset="0.444" stop-color="#dcf5b2"/><stop offset="0.500" stop-color="#b9eac4"/><stop offset="0.556" stop-color="#96dacf"/><stop offset="0.611" stop-color="#86d2d2"/><stop offset="0.667" stop-color="#7fced3"/><stop offset="0.722" stop-color="#7cccd4"/><stop offset="0.778" stop-color="#7cccd4"/><stop offset="0.833" stop-color="#7cccd4"/><stop offset="0.889" stop-color="#7cccd4"/><stop offset="0.944" stop-color="#7cccd4"/><stop offset="1.000" stop-color="#7ccdd4"/></linearGradient><linearGradient id="gu49" gradientUnits="userSpaceOnUse" x1="140" y1="0" x2="428" y2="0"><stop offset="0.000" stop-color="#faeb85"/><stop offset="0.056" stop-color="#faec85"/><stop offset="0.111" stop-color="#faee86"/><stop offset="0.167" stop-color="#f9ef88"/><stop offset="0.222" stop-color="#f9f08a"/><stop offset="0.278" stop-color="#f9f18c"/><stop offset="0.333" stop-color="#f8f494"/><stop offset="0.389" stop-color="#f1f8a3"/><stop offset="0.444" stop-color="#d8f4b4"/><stop offset="0.500" stop-color="#b3e7c7"/><stop offset="0.556" stop-color="#90d7d0"/><stop offset="0.611" stop-color="#81cfd3"/><stop offset="0.667" stop-color="#7dcdd3"/><stop offset="0.722" stop-color="#7cccd4"/><stop offset="0.778" stop-color="#7cccd4"/><stop offset="0.833" stop-color="#7cccd4"/><stop offset="0.889" stop-color="#7cccd4"/><stop offset="0.944" stop-color="#7cccd4"/><stop offset="1.000" stop-color="#7ccdd4"/></linearGradient><linearGradient id="gu50" gradientUnits="userSpaceOnUse" x1="140" y1="0" x2="428" y2="0"><stop offset="0.000" stop-color="#faeb85"/><stop offset="0.056" stop-color="#faed86"/><stop offset="0.111" stop-color="#faef87"/><stop offset="0.167" stop-color="#f9f088"/><stop offset="0.222" stop-color="#f9f18b"/><stop offset="0.278" stop-color="#f9f28d"/><stop offset="0.333" stop-color="#f7f596"/><stop offset="0.389" stop-color="#eef8a5"/><stop offset="0.444" stop-color="#d3f3b7"/><stop offset="0.500" stop-color="#ade5c9"/><stop offset="0.556" stop-color="#8ad4d1"/><stop offset="0.611" stop-color="#7ecdd3"/><stop offset="0.667" stop-color="#7cccd4"/><stop offset="0.722" stop-color="#7cccd4"/><stop offset="0.778" stop-color="#7cccd4"/><stop offset="0.833" stop-color="#7cccd4"/><stop offset="0.889" stop-color="#7cccd4"/><stop offset="0.944" stop-color="#7cccd4"/><stop offset="1.000" stop-color="#7ccdd4"/></linearGradient><linearGradient id="gu51" gradientUnits="userSpaceOnUse" x1="140" y1="0" x2="428" y2="0"><stop offset="0.000" stop-color="#faec85"/><stop offset="0.056" stop-color="#faee86"/><stop offset="0.111" stop-color="#f9ef88"/><stop offset="0.167" stop-color="#f9f08a"/><stop offset="0.222" stop-color="#f9f18c"/><stop offset="0.278" stop-color="#f8f28e"/><stop offset="0.333" stop-color="#f7f597"/><stop offset="0.389" stop-color="#ecf8a7"/><stop offset="0.444" stop-color="#cef1ba"/><stop offset="0.500" stop-color="#a6e2cb"/><stop offset="0.556" stop-color="#85d1d2"/><stop offset="0.611" stop-color="#7dcdd4"/><stop offset="0.667" stop-color="#7cccd4"/><stop offset="0.722" stop-color="#7cccd4"/><stop offset="0.778" stop-color="#7cccd4"/><stop offset="0.833" stop-color="#7cccd4"/><stop offset="0.889" stop-color="#7cccd4"/><stop offset="0.944" stop-color="#7cccd4"/><stop offset="1.000" stop-color="#7ccdd4"/></linearGradient><linearGradient id="gu52" gradientUnits="userSpaceOnUse" x1="140" y1="0" x2="428" y2="0"><stop offset="0.000" stop-color="#faed86"/><stop offset="0.056" stop-color="#faef87"/><stop offset="0.111" stop-color="#f9f089"/><stop offset="0.167" stop-color="#f9f18b"/><stop offset="0.222" stop-color="#f9f28d"/><stop offset="0.278" stop-color="#f8f38f"/><stop offset="0.333" stop-color="#f7f699"/><stop offset="0.389" stop-color="#e9f8a9"/><stop offset="0.444" stop-color="#c9f0bd"/><stop offset="0.500" stop-color="#a0dfcd"/><stop offset="0.556" stop-color="#81cfd3"/><stop offset="0.611" stop-color="#7cccd4"/><stop offset="0.667" stop-color="#7cccd4"/><stop offset="0.722" stop-color="#7cccd4"/><stop offset="0.778" stop-color="#7cccd4"/><stop offset="0.833" stop-color="#7cccd4"/><stop offset="0.889" stop-color="#7cccd4"/><stop offset="0.944" stop-color="#7cccd4"/><stop offset="1.000" stop-color="#7ccdd4"/></linearGradient><linearGradient id="gu53" gradientUnits="userSpaceOnUse" x1="140" y1="0" x2="428" y2="0"><stop offset="0.000" stop-color="#faee86"/><stop offset="0.056" stop-color="#faef88"/><stop offset="0.111" stop-color="#f9f08a"/><stop offset="0.167" stop-color="#f9f18c"/><stop offset="0.222" stop-color="#f9f28e"/><stop offset="0.278" stop-color="#f8f390"/><stop offset="0.333" stop-color="#f6f69a"/><stop offset="0.389" stop-color="#e5f7ab"/><stop offset="0.444" stop-color="#c4eec0"/><stop offset="0.500" stop-color="#9addce"/><stop offset="0.556" stop-color="#7ecdd3"/><stop offset="0.611" stop-color="#7cccd4"/><stop offset="0.667" stop-color="#7cccd4"/><stop offset="0.722" stop-color="#7cccd4"/><stop offset="0.778" stop-color="#7cccd4"/><stop offset="0.833" stop-color="#7cccd3"/><stop offset="0.889" stop-color="#7cccd3"/><stop offset="0.944" stop-color="#7dccd3"/><stop offset="1.000" stop-color="#7cccd4"/></linearGradient><linearGradient id="gu54" gradientUnits="userSpaceOnUse" x1="140" y1="0" x2="428" y2="0"><stop offset="0.000" stop-color="#faee87"/><stop offset="0.056" stop-color="#f9f089"/><stop offset="0.111" stop-color="#f9f18b"/><stop offset="0.167" stop-color="#f9f28d"/><stop offset="0.222" stop-color="#f8f390"/><stop offset="0.278" stop-color="#f8f492"/><stop offset="0.333" stop-color="#f6f79c"/><stop offset="0.389" stop-color="#e2f6ae"/><stop offset="0.444" stop-color="#beecc2"/><stop offset="0.500" stop-color="#95dad0"/><stop offset="0.556" stop-color="#7cccd4"/><stop offset="0.611" stop-color="#7cccd4"/><stop offset="0.667" stop-color="#7cccd4"/><stop offset="0.722" stop-color="#7cccd4"/><stop offset="0.778" stop-color="#7cccd3"/><stop offset="0.833" stop-color="#7cccd3"/><stop offset="0.889" stop-color="#7dccd3"/><stop offset="0.944" stop-color="#7dccd3"/><stop offset="1.000" stop-color="#7cccd4"/></linearGradient><linearGradient id="gu55" gradientUnits="userSpaceOnUse" x1="140" y1="0" x2="428" y2="0"><stop offset="0.000" stop-color="#faef88"/><stop offset="0.056" stop-color="#f9f08a"/><stop offset="0.111" stop-color="#f9f18c"/><stop offset="0.167" stop-color="#f8f28e"/><stop offset="0.222" stop-color="#f8f391"/><stop offset="0.278" stop-color="#f8f493"/><stop offset="0.333" stop-color="#f6f89d"/><stop offset="0.389" stop-color="#dff6b0"/><stop offset="0.444" stop-color="#b9eac4"/><stop offset="0.500" stop-color="#90d7d0"/><stop offset="0.556" stop-color="#7cccd4"/><stop offset="0.611" stop-color="#7cccd4"/><stop offset="0.667" stop-color="#7cccd4"/><stop offset="0.722" stop-color="#7cccd4"/><stop offset="0.778" stop-color="#7cccd4"/><stop offset="0.833" stop-color="#7dccd3"/><stop offset="0.889" stop-color="#7cccd4"/><stop offset="0.944" stop-color="#7cccd3"/><stop offset="1.000" stop-color="#7cccd4"/></linearGradient><clipPath id="cu"><path d="M181.0,259.0 C180.0,258.0 177.2,255.8 175.0,253.0 C172.8,250.2 170.2,246.3 168.0,242.0 C165.8,237.7 164.0,232.0 162.0,227.0 C160.0,222.0 157.8,217.0 156.0,212.0 C154.2,207.0 152.5,202.2 151.0,197.0 C149.5,191.8 147.9,186.3 147.0,181.0 C146.1,175.7 145.6,170.2 145.5,165.0 C145.4,159.8 145.8,154.6 146.5,150.0 C147.2,145.4 148.6,141.2 150.0,137.5 C151.4,133.8 153.0,130.5 155.0,127.5 C157.0,124.5 159.3,122.2 162.0,119.5 C164.7,116.8 167.2,114.4 171.0,111.5 C174.8,108.6 180.2,104.9 185.0,102.0 C189.8,99.1 193.9,97.1 200.0,94.0 C206.1,90.9 215.0,86.5 221.7,83.5 C228.4,80.5 232.3,79.1 240.0,76.0 C247.7,72.9 259.3,68.2 267.6,64.8 C275.9,61.4 281.1,59.2 290.0,55.5 C298.9,51.8 315.8,44.7 321.0,42.5 L321.0,42.5 C322.5,43.6 326.8,46.1 330.0,49.0 C333.2,51.9 336.9,56.5 340.0,60.0 C343.1,63.5 345.5,66.4 348.3,70.0 C351.1,73.6 354.2,78.4 356.7,81.7 C359.2,85.0 360.8,86.7 363.3,90.0 C365.8,93.3 368.9,97.8 371.7,101.7 C374.5,105.6 377.2,109.1 380.0,113.3 C382.8,117.5 385.8,122.5 388.3,126.7 C390.8,130.9 392.6,134.8 395.0,138.3 C397.4,141.8 400.6,144.6 402.9,147.9 C405.2,151.2 407.1,154.6 409.0,158.0 C410.9,161.4 412.9,165.1 414.5,168.3 C416.1,171.6 417.7,176.0 418.3,177.5 L422,182 L418.3,179.5 C418.0,179.7 419.4,179.7 416.7,180.6 C414.0,181.5 408.2,183.0 402.4,184.7 C396.6,186.4 388.8,189.3 382.0,190.8 C375.2,192.3 368.3,193.6 361.5,193.9 C354.7,194.2 347.7,193.4 341.0,192.9 C334.3,192.4 324.8,191.3 321.5,191.0 L181,262 Z"/></clipPath><linearGradient id="gl0" gradientUnits="userSpaceOnUse" x1="175" y1="0" x2="495" y2="0"><stop offset="0.000" stop-color="#fffd64"/><stop offset="0.050" stop-color="#fff865"/><stop offset="0.100" stop-color="#fff466"/><stop offset="0.150" stop-color="#ffef68"/><stop offset="0.200" stop-color="#faeb6b"/><stop offset="0.250" stop-color="#f2e66f"/><stop offset="0.300" stop-color="#eae274"/><stop offset="0.350" stop-color="#e0dd7b"/><stop offset="0.400" stop-color="#d5d882"/><stop offset="0.450" stop-color="#c9d389"/><stop offset="0.500" stop-color="#bcce8f"/><stop offset="0.550" stop-color="#afca94"/><stop offset="0.600" stop-color="#a1c69e"/><stop offset="0.650" stop-color="#92c0ab"/><stop offset="0.700" stop-color="#83b8b8"/><stop offset="0.750" stop-color="#73afc3"/><stop offset="0.800" stop-color="#67a6c8"/><stop offset="0.850" stop-color="#5f9ec9"/><stop offset="0.900" stop-color="#5795c6"/><stop offset="0.950" stop-color="#508cc1"/><stop offset="1.000" stop-color="#4882ba"/></linearGradient><linearGradient id="gl1" gradientUnits="userSpaceOnUse" x1="175" y1="0" x2="495" y2="0"><stop offset="0.000" stop-color="#fffa65"/><stop offset="0.050" stop-color="#fff666"/><stop offset="0.100" stop-color="#fff168"/><stop offset="0.150" stop-color="#ffed6a"/><stop offset="0.200" stop-color="#f7e86d"/><stop offset="0.250" stop-color="#efe471"/><stop offset="0.300" stop-color="#e6e076"/><stop offset="0.350" stop-color="#dddb7c"/><stop offset="0.400" stop-color="#d2d684"/><stop offset="0.450" stop-color="#c5d08b"/><stop offset="0.500" stop-color="#b8cc91"/><stop offset="0.550" stop-color="#acc896"/><stop offset="0.600" stop-color="#9ec49f"/><stop offset="0.650" stop-color="#8fbead"/><stop offset="0.700" stop-color="#80b7bb"/><stop offset="0.750" stop-color="#70adc6"/><stop offset="0.800" stop-color="#65a5cb"/><stop offset="0.850" stop-color="#5d9dcb"/><stop offset="0.900" stop-color="#5594c8"/><stop offset="0.950" stop-color="#4e8ac2"/><stop offset="1.000" stop-color="#4780bb"/></linearGradient><linearGradient id="gl2" gradientUnits="userSpaceOnUse" x1="175" y1="0" x2="495" y2="0"><stop offset="0.000" stop-color="#fff867"/><stop offset="0.050" stop-color="#fff468"/><stop offset="0.100" stop-color="#ffef69"/><stop offset="0.150" stop-color="#fceb6b"/><stop offset="0.200" stop-color="#f4e66e"/><stop offset="0.250" stop-color="#ece272"/><stop offset="0.300" stop-color="#e3de78"/><stop offset="0.350" stop-color="#dad97e"/><stop offset="0.400" stop-color="#ced486"/><stop offset="0.450" stop-color="#c2ce8e"/><stop offset="0.500" stop-color="#b5ca93"/><stop offset="0.550" stop-color="#a8c698"/><stop offset="0.600" stop-color="#9bc2a2"/><stop offset="0.650" stop-color="#8cbdaf"/><stop offset="0.700" stop-color="#7cb5bd"/><stop offset="0.750" stop-color="#6dacc8"/><stop offset="0.800" stop-color="#63a3cd"/><stop offset="0.850" stop-color="#5b9bcd"/><stop offset="0.900" stop-color="#5392c9"/><stop offset="0.950" stop-color="#4c88c4"/><stop offset="1.000" stop-color="#457ebc"/></linearGradient><linearGradient id="gl3" gradientUnits="userSpaceOnUse" x1="175" y1="0" x2="495" y2="0"><stop offset="0.000" stop-color="#fff668"/><stop offset="0.050" stop-color="#fff169"/><stop offset="0.100" stop-color="#ffed6a"/><stop offset="0.150" stop-color="#f9e86d"/><stop offset="0.200" stop-color="#f1e470"/><stop offset="0.250" stop-color="#e8e074"/><stop offset="0.300" stop-color="#e0dc79"/><stop offset="0.350" stop-color="#d6d780"/><stop offset="0.400" stop-color="#cbd288"/><stop offset="0.450" stop-color="#becc90"/><stop offset="0.500" stop-color="#b1c896"/><stop offset="0.550" stop-color="#a5c49b"/><stop offset="0.600" stop-color="#97c0a4"/><stop offset="0.650" stop-color="#89bbb2"/><stop offset="0.700" stop-color="#79b4c0"/><stop offset="0.750" stop-color="#6aaacb"/><stop offset="0.800" stop-color="#60a2cf"/><stop offset="0.850" stop-color="#5999cf"/><stop offset="0.900" stop-color="#5290cb"/><stop offset="0.950" stop-color="#4b87c5"/><stop offset="1.000" stop-color="#447cbd"/></linearGradient><linearGradient id="gl4" gradientUnits="userSpaceOnUse" x1="175" y1="0" x2="495" y2="0"><stop offset="0.000" stop-color="#fff46a"/><stop offset="0.050" stop-color="#ffef6a"/><stop offset="0.100" stop-color="#fdeb6c"/><stop offset="0.150" stop-color="#f5e66e"/><stop offset="0.200" stop-color="#ede271"/><stop offset="0.250" stop-color="#e5de76"/><stop offset="0.300" stop-color="#dcd97b"/><stop offset="0.350" stop-color="#d3d582"/><stop offset="0.400" stop-color="#c7d08a"/><stop offset="0.450" stop-color="#baca93"/><stop offset="0.500" stop-color="#adc599"/><stop offset="0.550" stop-color="#a1c29d"/><stop offset="0.600" stop-color="#93bea7"/><stop offset="0.650" stop-color="#85b9b5"/><stop offset="0.700" stop-color="#76b2c3"/><stop offset="0.750" stop-color="#67a9ce"/><stop offset="0.800" stop-color="#5ea0d1"/><stop offset="0.850" stop-color="#5798d0"/><stop offset="0.900" stop-color="#508fcc"/><stop offset="0.950" stop-color="#4985c6"/><stop offset="1.000" stop-color="#437abe"/></linearGradient><linearGradient id="gl5" gradientUnits="userSpaceOnUse" x1="175" y1="0" x2="495" y2="0"><stop offset="0.000" stop-color="#fff16b"/><stop offset="0.050" stop-color="#ffed6c"/><stop offset="0.100" stop-color="#fae96d"/><stop offset="0.150" stop-color="#f2e470"/><stop offset="0.200" stop-color="#eae073"/><stop offset="0.250" stop-color="#e1db78"/><stop offset="0.300" stop-color="#d9d77d"/><stop offset="0.350" stop-color="#cfd384"/><stop offset="0.400" stop-color="#c4ce8c"/><stop offset="0.450" stop-color="#b6c895"/><stop offset="0.500" stop-color="#a9c39c"/><stop offset="0.550" stop-color="#9cc0a1"/><stop offset="0.600" stop-color="#8fbcaa"/><stop offset="0.650" stop-color="#81b7b8"/><stop offset="0.700" stop-color="#72b0c6"/><stop offset="0.750" stop-color="#65a8d0"/><stop offset="0.800" stop-color="#5c9fd3"/><stop offset="0.850" stop-color="#5596d2"/><stop offset="0.900" stop-color="#4f8dce"/><stop offset="0.950" stop-color="#4883c7"/><stop offset="1.000" stop-color="#4178be"/></linearGradient><linearGradient id="gl6" gradientUnits="userSpaceOnUse" x1="175" y1="0" x2="495" y2="0"><stop offset="0.000" stop-color="#ffef6d"/><stop offset="0.050" stop-color="#fdeb6e"/><stop offset="0.100" stop-color="#f6e66f"/><stop offset="0.150" stop-color="#efe271"/><stop offset="0.200" stop-color="#e6dd75"/><stop offset="0.250" stop-color="#ded979"/><stop offset="0.300" stop-color="#d5d57f"/><stop offset="0.350" stop-color="#ccd186"/><stop offset="0.400" stop-color="#c0cc8e"/><stop offset="0.450" stop-color="#b2c698"/><stop offset="0.500" stop-color="#a4c19f"/><stop offset="0.550" stop-color="#98bda4"/><stop offset="0.600" stop-color="#8bb9ae"/><stop offset="0.650" stop-color="#7db4bc"/><stop offset="0.700" stop-color="#6eaec9"/><stop offset="0.750" stop-color="#62a6d3"/><stop offset="0.800" stop-color="#5a9ed5"/><stop offset="0.850" stop-color="#5495d4"/><stop offset="0.900" stop-color="#4d8bcf"/><stop offset="0.950" stop-color="#4781c8"/><stop offset="1.000" stop-color="#4076bf"/></linearGradient><linearGradient id="gl7" gradientUnits="userSpaceOnUse" x1="175" y1="0" x2="495" y2="0"><stop offset="0.000" stop-color="#ffed6e"/><stop offset="0.050" stop-color="#fae96f"/><stop offset="0.100" stop-color="#f3e471"/><stop offset="0.150" stop-color="#ebe073"/><stop offset="0.200" stop-color="#e3db77"/><stop offset="0.250" stop-color="#dad77b"/><stop offset="0.300" stop-color="#d1d381"/><stop offset="0.350" stop-color="#c8cf88"/><stop offset="0.400" stop-color="#bcca91"/><stop offset="0.450" stop-color="#aec49a"/><stop offset="0.500" stop-color="#a0bfa2"/><stop offset="0.550" stop-color="#93bba9"/><stop offset="0.600" stop-color="#87b7b2"/><stop offset="0.650" stop-color="#79b2bf"/><stop offset="0.700" stop-color="#6baccc"/><stop offset="0.750" stop-color="#5fa5d5"/><stop offset="0.800" stop-color="#599cd7"/><stop offset="0.850" stop-color="#5393d6"/><stop offset="0.900" stop-color="#4c89d1"/><stop offset="0.950" stop-color="#467fc9"/><stop offset="1.000" stop-color="#3f74c0"/></linearGradient><linearGradient id="gl8" gradientUnits="userSpaceOnUse" x1="175" y1="0" x2="495" y2="0"><stop offset="0.000" stop-color="#fdeb70"/><stop offset="0.050" stop-color="#f7e671"/><stop offset="0.100" stop-color="#f0e272"/><stop offset="0.150" stop-color="#e8dd75"/><stop offset="0.200" stop-color="#dfd978"/><stop offset="0.250" stop-color="#d6d57d"/><stop offset="0.300" stop-color="#cdd183"/><stop offset="0.350" stop-color="#c4cd8a"/><stop offset="0.400" stop-color="#b7c893"/><stop offset="0.450" stop-color="#a9c29d"/><stop offset="0.500" stop-color="#9bbda6"/><stop offset="0.550" stop-color="#8eb8ad"/><stop offset="0.600" stop-color="#82b4b6"/><stop offset="0.650" stop-color="#75afc3"/><stop offset="0.700" stop-color="#67aad0"/><stop offset="0.750" stop-color="#5da3d7"/><stop offset="0.800" stop-color="#579ad9"/><stop offset="0.850" stop-color="#5191d7"/><stop offset="0.900" stop-color="#4b87d2"/><stop offset="0.950" stop-color="#457dca"/><stop offset="1.000" stop-color="#3e72c0"/></linearGradient><linearGradient id="gl9" gradientUnits="userSpaceOnUse" x1="175" y1="0" x2="495" y2="0"><stop offset="0.000" stop-color="#fae872"/><stop offset="0.050" stop-color="#f4e472"/><stop offset="0.100" stop-color="#ece074"/><stop offset="0.150" stop-color="#e4db76"/><stop offset="0.200" stop-color="#dbd77a"/><stop offset="0.250" stop-color="#d2d27f"/><stop offset="0.300" stop-color="#c9ce86"/><stop offset="0.350" stop-color="#bfca8d"/><stop offset="0.400" stop-color="#b3c596"/><stop offset="0.450" stop-color="#a5c0a0"/><stop offset="0.500" stop-color="#97bba9"/><stop offset="0.550" stop-color="#89b6b2"/><stop offset="0.600" stop-color="#7db2bb"/><stop offset="0.650" stop-color="#71adc7"/><stop offset="0.700" stop-color="#65a7d2"/><stop offset="0.750" stop-color="#5ba0da"/><stop offset="0.800" stop-color="#5698db"/><stop offset="0.850" stop-color="#508fd9"/><stop offset="0.900" stop-color="#4a85d3"/><stop offset="0.950" stop-color="#447bcb"/><stop offset="1.000" stop-color="#3d70c1"/></linearGradient><linearGradient id="gl10" gradientUnits="userSpaceOnUse" x1="175" y1="0" x2="495" y2="0"><stop offset="0.000" stop-color="#f6e673"/><stop offset="0.050" stop-color="#f0e274"/><stop offset="0.100" stop-color="#e9de75"/><stop offset="0.150" stop-color="#e1d978"/><stop offset="0.200" stop-color="#d8d57c"/><stop offset="0.250" stop-color="#ced082"/><stop offset="0.300" stop-color="#c5cc88"/><stop offset="0.350" stop-color="#bbc890"/><stop offset="0.400" stop-color="#afc399"/><stop offset="0.450" stop-color="#a0bea2"/><stop offset="0.500" stop-color="#92b8ad"/><stop offset="0.550" stop-color="#85b3b6"/><stop offset="0.600" stop-color="#79afc0"/><stop offset="0.650" stop-color="#6eaacb"/><stop offset="0.700" stop-color="#62a4d5"/><stop offset="0.750" stop-color="#599edc"/><stop offset="0.800" stop-color="#5596dc"/><stop offset="0.850" stop-color="#4f8dda"/><stop offset="0.900" stop-color="#4983d4"/><stop offset="0.950" stop-color="#4378cb"/><stop offset="1.000" stop-color="#3c6dc1"/></linearGradient><linearGradient id="gl11" gradientUnits="userSpaceOnUse" x1="175" y1="0" x2="495" y2="0"><stop offset="0.000" stop-color="#f3e475"/><stop offset="0.050" stop-color="#ede076"/><stop offset="0.100" stop-color="#e6db77"/><stop offset="0.150" stop-color="#ddd77a"/><stop offset="0.200" stop-color="#d4d27e"/><stop offset="0.250" stop-color="#cace84"/><stop offset="0.300" stop-color="#c0ca8b"/><stop offset="0.350" stop-color="#b6c692"/><stop offset="0.400" stop-color="#aac19b"/><stop offset="0.450" stop-color="#9cbca5"/><stop offset="0.500" stop-color="#8db6b0"/><stop offset="0.550" stop-color="#80b1bb"/><stop offset="0.600" stop-color="#75acc4"/><stop offset="0.650" stop-color="#6aa7ce"/><stop offset="0.700" stop-color="#60a1d8"/><stop offset="0.750" stop-color="#589bde"/><stop offset="0.800" stop-color="#5494de"/><stop offset="0.850" stop-color="#4e8bdb"/><stop offset="0.900" stop-color="#4881d5"/><stop offset="0.950" stop-color="#4276cc"/><stop offset="1.000" stop-color="#3b6bc1"/></linearGradient><linearGradient id="gl12" gradientUnits="userSpaceOnUse" x1="175" y1="0" x2="495" y2="0"><stop offset="0.000" stop-color="#f0e277"/><stop offset="0.050" stop-color="#e9dd77"/><stop offset="0.100" stop-color="#e2d979"/><stop offset="0.150" stop-color="#dad57c"/><stop offset="0.200" stop-color="#d0d080"/><stop offset="0.250" stop-color="#c6cc86"/><stop offset="0.300" stop-color="#bcc78d"/><stop offset="0.350" stop-color="#b2c495"/><stop offset="0.400" stop-color="#a6bf9e"/><stop offset="0.450" stop-color="#98baa8"/><stop offset="0.500" stop-color="#89b4b3"/><stop offset="0.550" stop-color="#7bafbf"/><stop offset="0.600" stop-color="#71aac8"/><stop offset="0.650" stop-color="#67a4d2"/><stop offset="0.700" stop-color="#5e9eda"/><stop offset="0.750" stop-color="#5798e0"/><stop offset="0.800" stop-color="#5392e0"/><stop offset="0.850" stop-color="#4d89dd"/><stop offset="0.900" stop-color="#477fd6"/><stop offset="0.950" stop-color="#4174cc"/><stop offset="1.000" stop-color="#3a68c1"/></linearGradient><linearGradient id="gl13" gradientUnits="userSpaceOnUse" x1="175" y1="0" x2="495" y2="0"><stop offset="0.000" stop-color="#ecdf78"/><stop offset="0.050" stop-color="#e6db79"/><stop offset="0.100" stop-color="#ded77b"/><stop offset="0.150" stop-color="#d6d37d"/><stop offset="0.200" stop-color="#ccce82"/><stop offset="0.250" stop-color="#c2c989"/><stop offset="0.300" stop-color="#b8c590"/><stop offset="0.350" stop-color="#adc198"/><stop offset="0.400" stop-color="#a1bda1"/><stop offset="0.450" stop-color="#94b8aa"/><stop offset="0.500" stop-color="#85b2b6"/><stop offset="0.550" stop-color="#77acc3"/><stop offset="0.600" stop-color="#6da7cc"/><stop offset="0.650" stop-color="#64a1d5"/><stop offset="0.700" stop-color="#5c9bdd"/><stop offset="0.750" stop-color="#5696e1"/><stop offset="0.800" stop-color="#528fe2"/><stop offset="0.850" stop-color="#4d87de"/><stop offset="0.900" stop-color="#477dd7"/><stop offset="0.950" stop-color="#4071cd"/><stop offset="1.000" stop-color="#3966c1"/></linearGradient><linearGradient id="gl14" gradientUnits="userSpaceOnUse" x1="175" y1="0" x2="495" y2="0"><stop offset="0.000" stop-color="#e8dd7a"/><stop offset="0.050" stop-color="#e2d97b"/><stop offset="0.100" stop-color="#dbd57c"/><stop offset="0.150" stop-color="#d2d17f"/><stop offset="0.200" stop-color="#c8cc85"/><stop offset="0.250" stop-color="#bec78b"/><stop offset="0.300" stop-color="#b3c393"/><stop offset="0.350" stop-color="#a9bf9b"/><stop offset="0.400" stop-color="#9dbba4"/><stop offset="0.450" stop-color="#90b6ad"/><stop offset="0.500" stop-color="#82b0b9"/><stop offset="0.550" stop-color="#73aac7"/><stop offset="0.600" stop-color="#6aa5cf"/><stop offset="0.650" stop-color="#629ed8"/><stop offset="0.700" stop-color="#5a98df"/><stop offset="0.750" stop-color="#5592e3"/><stop offset="0.800" stop-color="#518ce3"/><stop offset="0.850" stop-color="#4c84df"/><stop offset="0.900" stop-color="#467ad7"/><stop offset="0.950" stop-color="#3f6fcd"/><stop offset="1.000" stop-color="#3963c1"/></linearGradient><linearGradient id="gl15" gradientUnits="userSpaceOnUse" x1="175" y1="0" x2="495" y2="0"><stop offset="0.000" stop-color="#e5db7c"/><stop offset="0.050" stop-color="#ded77d"/><stop offset="0.100" stop-color="#d7d37e"/><stop offset="0.150" stop-color="#cfcf81"/><stop offset="0.200" stop-color="#c5ca87"/><stop offset="0.250" stop-color="#bac58e"/><stop offset="0.300" stop-color="#afc196"/><stop offset="0.350" stop-color="#a5bd9e"/><stop offset="0.400" stop-color="#99b9a6"/><stop offset="0.450" stop-color="#8db4af"/><stop offset="0.500" stop-color="#7eafbb"/><stop offset="0.550" stop-color="#70a8c9"/><stop offset="0.600" stop-color="#67a2d2"/><stop offset="0.650" stop-color="#609bda"/><stop offset="0.700" stop-color="#5995e1"/><stop offset="0.750" stop-color="#548fe5"/><stop offset="0.800" stop-color="#508ae4"/><stop offset="0.850" stop-color="#4b82e0"/><stop offset="0.900" stop-color="#4578d8"/><stop offset="0.950" stop-color="#3f6dcd"/><stop offset="1.000" stop-color="#3861c0"/></linearGradient><linearGradient id="gl16" gradientUnits="userSpaceOnUse" x1="175" y1="0" x2="495" y2="0"><stop offset="0.000" stop-color="#e1d87e"/><stop offset="0.050" stop-color="#dbd57f"/><stop offset="0.100" stop-color="#d4d180"/><stop offset="0.150" stop-color="#cbcd83"/><stop offset="0.200" stop-color="#c1c889"/><stop offset="0.250" stop-color="#b6c490"/><stop offset="0.300" stop-color="#abbf99"/><stop offset="0.350" stop-color="#a0bba1"/><stop offset="0.400" stop-color="#95b7a9"/><stop offset="0.450" stop-color="#89b3b1"/><stop offset="0.500" stop-color="#7cadbc"/><stop offset="0.550" stop-color="#6ea7cb"/><stop offset="0.600" stop-color="#65a0d5"/><stop offset="0.650" stop-color="#5e99dc"/><stop offset="0.700" stop-color="#5891e3"/><stop offset="0.750" stop-color="#538ce6"/><stop offset="0.800" stop-color="#4f87e6"/><stop offset="0.850" stop-color="#4b7fe1"/><stop offset="0.900" stop-color="#4575d8"/><stop offset="0.950" stop-color="#3e6acd"/><stop offset="1.000" stop-color="#375ec0"/></linearGradient><linearGradient id="gl17" gradientUnits="userSpaceOnUse" x1="175" y1="0" x2="495" y2="0"><stop offset="0.000" stop-color="#ddd680"/><stop offset="0.050" stop-color="#d7d280"/><stop offset="0.100" stop-color="#d0cf82"/><stop offset="0.150" stop-color="#c7cb85"/><stop offset="0.200" stop-color="#bdc68b"/><stop offset="0.250" stop-color="#b2c293"/><stop offset="0.300" stop-color="#a7bd9c"/><stop offset="0.350" stop-color="#9db9a4"/><stop offset="0.400" stop-color="#92b5ac"/><stop offset="0.450" stop-color="#86b1b2"/><stop offset="0.500" stop-color="#7aacbe"/><stop offset="0.550" stop-color="#6ca5cd"/><stop offset="0.600" stop-color="#639ed7"/><stop offset="0.650" stop-color="#5c96de"/><stop offset="0.700" stop-color="#568ee4"/><stop offset="0.750" stop-color="#5288e7"/><stop offset="0.800" stop-color="#4e84e7"/><stop offset="0.850" stop-color="#4a7ce2"/><stop offset="0.900" stop-color="#4472d9"/><stop offset="0.950" stop-color="#3e67cd"/><stop offset="1.000" stop-color="#375cbf"/></linearGradient><linearGradient id="gl18" gradientUnits="userSpaceOnUse" x1="175" y1="0" x2="495" y2="0"><stop offset="0.000" stop-color="#d9d482"/><stop offset="0.050" stop-color="#d3d082"/><stop offset="0.100" stop-color="#cccd83"/><stop offset="0.150" stop-color="#c4c987"/><stop offset="0.200" stop-color="#b9c58e"/><stop offset="0.250" stop-color="#aec096"/><stop offset="0.300" stop-color="#a3bc9f"/><stop offset="0.350" stop-color="#99b7a7"/><stop offset="0.400" stop-color="#8eb3af"/><stop offset="0.450" stop-color="#84b0b4"/><stop offset="0.500" stop-color="#78abbf"/><stop offset="0.550" stop-color="#6ba4ce"/><stop offset="0.600" stop-color="#629cd9"/><stop offset="0.650" stop-color="#5b93e0"/><stop offset="0.700" stop-color="#558be5"/><stop offset="0.750" stop-color="#5185e8"/><stop offset="0.800" stop-color="#4e81e8"/><stop offset="0.850" stop-color="#4a79e2"/><stop offset="0.900" stop-color="#446fd9"/><stop offset="0.950" stop-color="#3d64cd"/><stop offset="1.000" stop-color="#3659bf"/></linearGradient><linearGradient id="gl19" gradientUnits="userSpaceOnUse" x1="175" y1="0" x2="495" y2="0"><stop offset="0.000" stop-color="#d5d184"/><stop offset="0.050" stop-color="#cece84"/><stop offset="0.100" stop-color="#c8ca85"/><stop offset="0.150" stop-color="#c0c789"/><stop offset="0.200" stop-color="#b5c390"/><stop offset="0.250" stop-color="#aabe99"/><stop offset="0.300" stop-color="#a0baa1"/><stop offset="0.350" stop-color="#95b6aa"/><stop offset="0.400" stop-color="#8bb2b1"/><stop offset="0.450" stop-color="#82aeb6"/><stop offset="0.500" stop-color="#76aabf"/><stop offset="0.550" stop-color="#6aa2cf"/><stop offset="0.600" stop-color="#609ada"/><stop offset="0.650" stop-color="#5990e1"/><stop offset="0.700" stop-color="#5488e6"/><stop offset="0.750" stop-color="#5081e8"/><stop offset="0.800" stop-color="#4d7de8"/><stop offset="0.850" stop-color="#4976e3"/><stop offset="0.900" stop-color="#436dd9"/><stop offset="0.950" stop-color="#3d62cc"/><stop offset="1.000" stop-color="#3656be"/></linearGradient><linearGradient id="gl20" gradientUnits="userSpaceOnUse" x1="175" y1="0" x2="495" y2="0"><stop offset="0.000" stop-color="#d1cf86"/><stop offset="0.050" stop-color="#cacb86"/><stop offset="0.100" stop-color="#c4c887"/><stop offset="0.150" stop-color="#bcc58b"/><stop offset="0.200" stop-color="#b2c193"/><stop offset="0.250" stop-color="#a7bc9b"/><stop offset="0.300" stop-color="#9cb8a4"/><stop offset="0.350" stop-color="#92b4ad"/><stop offset="0.400" stop-color="#89b0b4"/><stop offset="0.450" stop-color="#80adb7"/><stop offset="0.500" stop-color="#75a9c1"/><stop offset="0.550" stop-color="#69a1d0"/><stop offset="0.600" stop-color="#5f98dc"/><stop offset="0.650" stop-color="#588ee2"/><stop offset="0.700" stop-color="#5384e7"/><stop offset="0.750" stop-color="#4f7ee9"/><stop offset="0.800" stop-color="#4d79e8"/><stop offset="0.850" stop-color="#4973e3"/><stop offset="0.900" stop-color="#436ad9"/><stop offset="0.950" stop-color="#3c5fcc"/><stop offset="1.000" stop-color="#3553bd"/></linearGradient><linearGradient id="gl21" gradientUnits="userSpaceOnUse" x1="175" y1="0" x2="495" y2="0"><stop offset="0.000" stop-color="#cccd87"/><stop offset="0.050" stop-color="#c5c988"/><stop offset="0.100" stop-color="#bfc689"/><stop offset="0.150" stop-color="#b9c38d"/><stop offset="0.200" stop-color="#aebf95"/><stop offset="0.250" stop-color="#a3bb9e"/><stop offset="0.300" stop-color="#99b7a7"/><stop offset="0.350" stop-color="#8fb3af"/><stop offset="0.400" stop-color="#86afb6"/><stop offset="0.450" stop-color="#7eacba"/><stop offset="0.500" stop-color="#74a7c2"/><stop offset="0.550" stop-color="#68a0d2"/><stop offset="0.600" stop-color="#5e96dd"/><stop offset="0.650" stop-color="#578be3"/><stop offset="0.700" stop-color="#5281e7"/><stop offset="0.750" stop-color="#4e7ae9"/><stop offset="0.800" stop-color="#4c76e8"/><stop offset="0.850" stop-color="#4970e3"/><stop offset="0.900" stop-color="#4367d9"/><stop offset="0.950" stop-color="#3c5ccb"/><stop offset="1.000" stop-color="#3550bc"/></linearGradient><linearGradient id="gl22" gradientUnits="userSpaceOnUse" x1="175" y1="0" x2="495" y2="0"><stop offset="0.000" stop-color="#c8ca89"/><stop offset="0.050" stop-color="#c1c68a"/><stop offset="0.100" stop-color="#bbc48b"/><stop offset="0.150" stop-color="#b5c18f"/><stop offset="0.200" stop-color="#aabd98"/><stop offset="0.250" stop-color="#9fb9a1"/><stop offset="0.300" stop-color="#96b5aa"/><stop offset="0.350" stop-color="#8db1b2"/><stop offset="0.400" stop-color="#84aeb8"/><stop offset="0.450" stop-color="#7cabbc"/><stop offset="0.500" stop-color="#72a6c5"/><stop offset="0.550" stop-color="#679fd4"/><stop offset="0.600" stop-color="#5e94de"/><stop offset="0.650" stop-color="#5689e4"/><stop offset="0.700" stop-color="#517ee7"/><stop offset="0.750" stop-color="#4e76e9"/><stop offset="0.800" stop-color="#4b72e8"/><stop offset="0.850" stop-color="#486ce3"/><stop offset="0.900" stop-color="#4364d8"/><stop offset="0.950" stop-color="#3c59ca"/><stop offset="1.000" stop-color="#344dba"/></linearGradient><linearGradient id="gl23" gradientUnits="userSpaceOnUse" x1="175" y1="0" x2="495" y2="0"><stop offset="0.000" stop-color="#c3c88b"/><stop offset="0.050" stop-color="#bcc48c"/><stop offset="0.100" stop-color="#b6c18d"/><stop offset="0.150" stop-color="#b1bf91"/><stop offset="0.200" stop-color="#a6bc9b"/><stop offset="0.250" stop-color="#9cb7a4"/><stop offset="0.300" stop-color="#93b4ac"/><stop offset="0.350" stop-color="#8ab0b4"/><stop offset="0.400" stop-color="#83adba"/><stop offset="0.450" stop-color="#7baabf"/><stop offset="0.500" stop-color="#71a5c8"/><stop offset="0.550" stop-color="#669ed6"/><stop offset="0.600" stop-color="#5d93e0"/><stop offset="0.650" stop-color="#5686e5"/><stop offset="0.700" stop-color="#507be8"/><stop offset="0.750" stop-color="#4d72e8"/><stop offset="0.800" stop-color="#4b6ee8"/><stop offset="0.850" stop-color="#4869e3"/><stop offset="0.900" stop-color="#4361d8"/><stop offset="0.950" stop-color="#3b56c9"/><stop offset="1.000" stop-color="#344ab9"/></linearGradient><linearGradient id="gl24" gradientUnits="userSpaceOnUse" x1="175" y1="0" x2="495" y2="0"><stop offset="0.000" stop-color="#bfc58d"/><stop offset="0.050" stop-color="#b7c18e"/><stop offset="0.100" stop-color="#b1bf8f"/><stop offset="0.150" stop-color="#adbd94"/><stop offset="0.200" stop-color="#a2ba9d"/><stop offset="0.250" stop-color="#98b6a6"/><stop offset="0.300" stop-color="#90b2af"/><stop offset="0.350" stop-color="#88afb6"/><stop offset="0.400" stop-color="#81acbc"/><stop offset="0.450" stop-color="#79a9c1"/><stop offset="0.500" stop-color="#70a4cb"/><stop offset="0.550" stop-color="#669cd8"/><stop offset="0.600" stop-color="#5d91e1"/><stop offset="0.650" stop-color="#5584e6"/><stop offset="0.700" stop-color="#5078e8"/><stop offset="0.750" stop-color="#4c6fe8"/><stop offset="0.800" stop-color="#4b6ae8"/><stop offset="0.850" stop-color="#4866e3"/><stop offset="0.900" stop-color="#435ed8"/><stop offset="0.950" stop-color="#3b53c8"/><stop offset="1.000" stop-color="#3347b7"/></linearGradient><linearGradient id="gl25" gradientUnits="userSpaceOnUse" x1="175" y1="0" x2="495" y2="0"><stop offset="0.000" stop-color="#bac38f"/><stop offset="0.050" stop-color="#b2bf90"/><stop offset="0.100" stop-color="#acbd92"/><stop offset="0.150" stop-color="#a8bb97"/><stop offset="0.200" stop-color="#9eb8a0"/><stop offset="0.250" stop-color="#95b4a9"/><stop offset="0.300" stop-color="#8db1b1"/><stop offset="0.350" stop-color="#86aeb8"/><stop offset="0.400" stop-color="#7fabbf"/><stop offset="0.450" stop-color="#78a7c4"/><stop offset="0.500" stop-color="#6fa3ce"/><stop offset="0.550" stop-color="#659bda"/><stop offset="0.600" stop-color="#5c8fe2"/><stop offset="0.650" stop-color="#5581e6"/><stop offset="0.700" stop-color="#4f75e8"/><stop offset="0.750" stop-color="#4c6be8"/><stop offset="0.800" stop-color="#4b67e8"/><stop offset="0.850" stop-color="#4963e3"/><stop offset="0.900" stop-color="#435bd7"/><stop offset="0.950" stop-color="#3b50c7"/><stop offset="1.000" stop-color="#3344b6"/></linearGradient><linearGradient id="gl26" gradientUnits="userSpaceOnUse" x1="175" y1="0" x2="495" y2="0"><stop offset="0.000" stop-color="#b6c191"/><stop offset="0.050" stop-color="#adbc92"/><stop offset="0.100" stop-color="#a8ba94"/><stop offset="0.150" stop-color="#a4b99a"/><stop offset="0.200" stop-color="#9bb6a3"/><stop offset="0.250" stop-color="#92b2ac"/><stop offset="0.300" stop-color="#8aafb4"/><stop offset="0.350" stop-color="#84acbb"/><stop offset="0.400" stop-color="#7eaac1"/><stop offset="0.450" stop-color="#77a6c7"/><stop offset="0.500" stop-color="#6ea1d1"/><stop offset="0.550" stop-color="#6499dd"/><stop offset="0.600" stop-color="#5c8de3"/><stop offset="0.650" stop-color="#557fe6"/><stop offset="0.700" stop-color="#4f72e8"/><stop offset="0.750" stop-color="#4c68e7"/><stop offset="0.800" stop-color="#4b64e8"/><stop offset="0.850" stop-color="#4961e3"/><stop offset="0.900" stop-color="#4358d6"/><stop offset="0.950" stop-color="#3b4dc5"/><stop offset="1.000" stop-color="#3241b4"/></linearGradient><linearGradient id="gl27" gradientUnits="userSpaceOnUse" x1="175" y1="0" x2="495" y2="0"><stop offset="0.000" stop-color="#b2bf93"/><stop offset="0.050" stop-color="#a9ba94"/><stop offset="0.100" stop-color="#a3b897"/><stop offset="0.150" stop-color="#a0b79d"/><stop offset="0.200" stop-color="#98b4a6"/><stop offset="0.250" stop-color="#8fb1ae"/><stop offset="0.300" stop-color="#88aeb6"/><stop offset="0.350" stop-color="#83abbd"/><stop offset="0.400" stop-color="#7da8c3"/><stop offset="0.450" stop-color="#75a4ca"/><stop offset="0.500" stop-color="#6d9fd4"/><stop offset="0.550" stop-color="#6498df"/><stop offset="0.600" stop-color="#5b8be4"/><stop offset="0.650" stop-color="#547de7"/><stop offset="0.700" stop-color="#4f6fe8"/><stop offset="0.750" stop-color="#4c65e7"/><stop offset="0.800" stop-color="#4c61e8"/><stop offset="0.850" stop-color="#4a5ee3"/><stop offset="0.900" stop-color="#4356d6"/><stop offset="0.950" stop-color="#3a4ac4"/><stop offset="1.000" stop-color="#323eb2"/></linearGradient><linearGradient id="gl28" gradientUnits="userSpaceOnUse" x1="175" y1="0" x2="495" y2="0"><stop offset="0.000" stop-color="#aebc95"/><stop offset="0.050" stop-color="#a5b897"/><stop offset="0.100" stop-color="#9fb69a"/><stop offset="0.150" stop-color="#9cb5a0"/><stop offset="0.200" stop-color="#95b3a8"/><stop offset="0.250" stop-color="#8cafb1"/><stop offset="0.300" stop-color="#85acb8"/><stop offset="0.350" stop-color="#81aabf"/><stop offset="0.400" stop-color="#7ca7c5"/><stop offset="0.450" stop-color="#74a2cc"/><stop offset="0.500" stop-color="#6c9dd6"/><stop offset="0.550" stop-color="#6395e1"/><stop offset="0.600" stop-color="#5b88e5"/><stop offset="0.650" stop-color="#547ae7"/><stop offset="0.700" stop-color="#4f6de8"/><stop offset="0.750" stop-color="#4c62e7"/><stop offset="0.800" stop-color="#4c5fe9"/><stop offset="0.850" stop-color="#4a5ce4"/><stop offset="0.900" stop-color="#4353d5"/><stop offset="0.950" stop-color="#3a47c2"/><stop offset="1.000" stop-color="#323baf"/></linearGradient><linearGradient id="gl29" gradientUnits="userSpaceOnUse" x1="175" y1="0" x2="495" y2="0"><stop offset="0.000" stop-color="#abba97"/><stop offset="0.050" stop-color="#a2b699"/><stop offset="0.100" stop-color="#9cb49d"/><stop offset="0.150" stop-color="#99b3a3"/><stop offset="0.200" stop-color="#92b1ab"/><stop offset="0.250" stop-color="#8aaeb3"/><stop offset="0.300" stop-color="#83aaba"/><stop offset="0.350" stop-color="#7fa8c1"/><stop offset="0.400" stop-color="#7ba5c7"/><stop offset="0.450" stop-color="#73a0cf"/><stop offset="0.500" stop-color="#6a9ad8"/><stop offset="0.550" stop-color="#6293e2"/><stop offset="0.600" stop-color="#5b86e6"/><stop offset="0.650" stop-color="#5478e7"/><stop offset="0.700" stop-color="#506be8"/><stop offset="0.750" stop-color="#4d61e8"/><stop offset="0.800" stop-color="#4d5eea"/><stop offset="0.850" stop-color="#4b5ae4"/><stop offset="0.900" stop-color="#4351d4"/><stop offset="0.950" stop-color="#3a44c0"/><stop offset="1.000" stop-color="#3137ad"/></linearGradient><linearGradient id="gl30" gradientUnits="userSpaceOnUse" x1="175" y1="0" x2="495" y2="0"><stop offset="0.000" stop-color="#a8b899"/><stop offset="0.050" stop-color="#9fb59b"/><stop offset="0.100" stop-color="#99b29f"/><stop offset="0.150" stop-color="#96b1a6"/><stop offset="0.200" stop-color="#8fafae"/><stop offset="0.250" stop-color="#87acb5"/><stop offset="0.300" stop-color="#81a9bc"/><stop offset="0.350" stop-color="#7ea6c3"/><stop offset="0.400" stop-color="#79a3c9"/><stop offset="0.450" stop-color="#729dd1"/><stop offset="0.500" stop-color="#6997da"/><stop offset="0.550" stop-color="#628fe2"/><stop offset="0.600" stop-color="#5a83e6"/><stop offset="0.650" stop-color="#5576e7"/><stop offset="0.700" stop-color="#5069e8"/><stop offset="0.750" stop-color="#4e60e9"/><stop offset="0.800" stop-color="#4f5deb"/><stop offset="0.850" stop-color="#4c59e4"/><stop offset="0.900" stop-color="#434ed3"/><stop offset="0.950" stop-color="#3a41be"/><stop offset="1.000" stop-color="#3134aa"/></linearGradient><linearGradient id="gl31" gradientUnits="userSpaceOnUse" x1="175" y1="0" x2="495" y2="0"><stop offset="0.000" stop-color="#a5b79b"/><stop offset="0.050" stop-color="#9cb39e"/><stop offset="0.100" stop-color="#97b1a2"/><stop offset="0.150" stop-color="#93b0a9"/><stop offset="0.200" stop-color="#8daeb0"/><stop offset="0.250" stop-color="#85aab7"/><stop offset="0.300" stop-color="#7fa7be"/><stop offset="0.350" stop-color="#7ca4c5"/><stop offset="0.400" stop-color="#78a1cb"/><stop offset="0.450" stop-color="#709bd2"/><stop offset="0.500" stop-color="#6894db"/><stop offset="0.550" stop-color="#618ce3"/><stop offset="0.600" stop-color="#5a80e6"/><stop offset="0.650" stop-color="#5574e7"/><stop offset="0.700" stop-color="#5168e8"/><stop offset="0.750" stop-color="#4f5fea"/><stop offset="0.800" stop-color="#505cec"/><stop offset="0.850" stop-color="#4c57e4"/><stop offset="0.900" stop-color="#434bd1"/><stop offset="0.950" stop-color="#393ebc"/><stop offset="1.000" stop-color="#3131a8"/></linearGradient><linearGradient id="gl32" gradientUnits="userSpaceOnUse" x1="175" y1="0" x2="495" y2="0"><stop offset="0.000" stop-color="#a2b59d"/><stop offset="0.050" stop-color="#9ab1a0"/><stop offset="0.100" stop-color="#94afa5"/><stop offset="0.150" stop-color="#91aeab"/><stop offset="0.200" stop-color="#8aacb2"/><stop offset="0.250" stop-color="#82a9ba"/><stop offset="0.300" stop-color="#7da5c0"/><stop offset="0.350" stop-color="#7aa2c7"/><stop offset="0.400" stop-color="#769ecd"/><stop offset="0.450" stop-color="#6f98d4"/><stop offset="0.500" stop-color="#6790dc"/><stop offset="0.550" stop-color="#6088e3"/><stop offset="0.600" stop-color="#5a7de5"/><stop offset="0.650" stop-color="#5571e7"/><stop offset="0.700" stop-color="#5267e8"/><stop offset="0.750" stop-color="#505feb"/><stop offset="0.800" stop-color="#515bec"/><stop offset="0.850" stop-color="#4d55e4"/><stop offset="0.900" stop-color="#4349d0"/><stop offset="0.950" stop-color="#393bb9"/><stop offset="1.000" stop-color="#302da5"/></linearGradient><linearGradient id="gl33" gradientUnits="userSpaceOnUse" x1="175" y1="0" x2="495" y2="0"><stop offset="0.000" stop-color="#a0b39f"/><stop offset="0.050" stop-color="#98b0a2"/><stop offset="0.100" stop-color="#92aea7"/><stop offset="0.150" stop-color="#8eadae"/><stop offset="0.200" stop-color="#88abb5"/><stop offset="0.250" stop-color="#80a7bb"/><stop offset="0.300" stop-color="#7ba4c2"/><stop offset="0.350" stop-color="#79a0c8"/><stop offset="0.400" stop-color="#759ccf"/><stop offset="0.450" stop-color="#6e94d5"/><stop offset="0.500" stop-color="#668ddd"/><stop offset="0.550" stop-color="#5f84e3"/><stop offset="0.600" stop-color="#5a7ae5"/><stop offset="0.650" stop-color="#566fe6"/><stop offset="0.700" stop-color="#5366e8"/><stop offset="0.750" stop-color="#515eeb"/><stop offset="0.800" stop-color="#515aed"/><stop offset="0.850" stop-color="#4d53e4"/><stop offset="0.900" stop-color="#4346ce"/><stop offset="0.950" stop-color="#3837b6"/><stop offset="1.000" stop-color="#302aa2"/></linearGradient><linearGradient id="gl34" gradientUnits="userSpaceOnUse" x1="175" y1="0" x2="495" y2="0"><stop offset="0.000" stop-color="#9db1a1"/><stop offset="0.050" stop-color="#95aea4"/><stop offset="0.100" stop-color="#90acaa"/><stop offset="0.150" stop-color="#8cabb0"/><stop offset="0.200" stop-color="#85a9b7"/><stop offset="0.250" stop-color="#7ea6bd"/><stop offset="0.300" stop-color="#7aa2c4"/><stop offset="0.350" stop-color="#779eca"/><stop offset="0.400" stop-color="#7399d0"/><stop offset="0.450" stop-color="#6c91d7"/><stop offset="0.500" stop-color="#6489dd"/><stop offset="0.550" stop-color="#5e80e3"/><stop offset="0.600" stop-color="#5a77e5"/><stop offset="0.650" stop-color="#566de6"/><stop offset="0.700" stop-color="#5464e8"/><stop offset="0.750" stop-color="#535eec"/><stop offset="0.800" stop-color="#525aed"/><stop offset="0.850" stop-color="#4d51e3"/><stop offset="0.900" stop-color="#4343cc"/><stop offset="0.950" stop-color="#3834b3"/><stop offset="1.000" stop-color="#30279f"/></linearGradient><linearGradient id="gl35" gradientUnits="userSpaceOnUse" x1="175" y1="0" x2="495" y2="0"><stop offset="0.000" stop-color="#9bb0a3"/><stop offset="0.050" stop-color="#94ada7"/><stop offset="0.100" stop-color="#8eabac"/><stop offset="0.150" stop-color="#89a9b2"/><stop offset="0.200" stop-color="#83a7b9"/><stop offset="0.250" stop-color="#7ca4bf"/><stop offset="0.300" stop-color="#78a0c5"/><stop offset="0.350" stop-color="#769ccb"/><stop offset="0.400" stop-color="#7296d1"/><stop offset="0.450" stop-color="#6b8ed8"/><stop offset="0.500" stop-color="#6385de"/><stop offset="0.550" stop-color="#5e7ce2"/><stop offset="0.600" stop-color="#5a74e4"/><stop offset="0.650" stop-color="#576be5"/><stop offset="0.700" stop-color="#5563e8"/><stop offset="0.750" stop-color="#545eec"/><stop offset="0.800" stop-color="#5359ee"/><stop offset="0.850" stop-color="#4d4fe3"/><stop offset="0.900" stop-color="#4240ca"/><stop offset="0.950" stop-color="#3831b0"/><stop offset="1.000" stop-color="#30239c"/></linearGradient><linearGradient id="gl36" gradientUnits="userSpaceOnUse" x1="175" y1="0" x2="495" y2="0"><stop offset="0.000" stop-color="#99aea5"/><stop offset="0.050" stop-color="#92aba9"/><stop offset="0.100" stop-color="#8ca9ae"/><stop offset="0.150" stop-color="#87a8b4"/><stop offset="0.200" stop-color="#80a6bb"/><stop offset="0.250" stop-color="#7aa2c1"/><stop offset="0.300" stop-color="#779ec7"/><stop offset="0.350" stop-color="#7499cd"/><stop offset="0.400" stop-color="#7093d3"/><stop offset="0.450" stop-color="#6a8ad9"/><stop offset="0.500" stop-color="#6281de"/><stop offset="0.550" stop-color="#5d79e2"/><stop offset="0.600" stop-color="#5a71e4"/><stop offset="0.650" stop-color="#5869e5"/><stop offset="0.700" stop-color="#5662e8"/><stop offset="0.750" stop-color="#555ded"/><stop offset="0.800" stop-color="#5458ee"/><stop offset="0.850" stop-color="#4e4ee3"/><stop offset="0.900" stop-color="#423ec8"/><stop offset="0.950" stop-color="#382dad"/><stop offset="1.000" stop-color="#302098"/></linearGradient><linearGradient id="gl37" gradientUnits="userSpaceOnUse" x1="175" y1="0" x2="495" y2="0"><stop offset="0.000" stop-color="#97aca7"/><stop offset="0.050" stop-color="#90a9ab"/><stop offset="0.100" stop-color="#8aa7b0"/><stop offset="0.150" stop-color="#85a6b6"/><stop offset="0.200" stop-color="#7ea4bc"/><stop offset="0.250" stop-color="#78a1c2"/><stop offset="0.300" stop-color="#759cc8"/><stop offset="0.350" stop-color="#7397ce"/><stop offset="0.400" stop-color="#6f90d4"/><stop offset="0.450" stop-color="#6987da"/><stop offset="0.500" stop-color="#617ddf"/><stop offset="0.550" stop-color="#5c75e2"/><stop offset="0.600" stop-color="#5a6ee3"/><stop offset="0.650" stop-color="#5867e4"/><stop offset="0.700" stop-color="#5761e8"/><stop offset="0.750" stop-color="#565ded"/><stop offset="0.800" stop-color="#5557ee"/><stop offset="0.850" stop-color="#4e4ce3"/><stop offset="0.900" stop-color="#423bc5"/><stop offset="0.950" stop-color="#372aa9"/><stop offset="1.000" stop-color="#301d95"/></linearGradient><linearGradient id="gl38" gradientUnits="userSpaceOnUse" x1="175" y1="0" x2="495" y2="0"><stop offset="0.000" stop-color="#96aaa8"/><stop offset="0.050" stop-color="#8ea8ad"/><stop offset="0.100" stop-color="#88a6b2"/><stop offset="0.150" stop-color="#83a4b8"/><stop offset="0.200" stop-color="#7ca2be"/><stop offset="0.250" stop-color="#779fc4"/><stop offset="0.300" stop-color="#749aca"/><stop offset="0.350" stop-color="#7294cf"/><stop offset="0.400" stop-color="#6e8cd5"/><stop offset="0.450" stop-color="#6883db"/><stop offset="0.500" stop-color="#6079df"/><stop offset="0.550" stop-color="#5c72e2"/><stop offset="0.600" stop-color="#5a6be3"/><stop offset="0.650" stop-color="#5965e4"/><stop offset="0.700" stop-color="#5860e8"/><stop offset="0.750" stop-color="#585cec"/><stop offset="0.800" stop-color="#5656ee"/><stop offset="0.850" stop-color="#4f4ae3"/><stop offset="0.900" stop-color="#4238c3"/><stop offset="0.950" stop-color="#3727a6"/><stop offset="1.000" stop-color="#301992"/></linearGradient><linearGradient id="gl39" gradientUnits="userSpaceOnUse" x1="175" y1="0" x2="495" y2="0"><stop offset="0.000" stop-color="#94a9aa"/><stop offset="0.050" stop-color="#8da6af"/><stop offset="0.100" stop-color="#87a4b4"/><stop offset="0.150" stop-color="#81a2ba"/><stop offset="0.200" stop-color="#7ba0c0"/><stop offset="0.250" stop-color="#759dc5"/><stop offset="0.300" stop-color="#7398cb"/><stop offset="0.350" stop-color="#7192d1"/><stop offset="0.400" stop-color="#6d89d6"/><stop offset="0.450" stop-color="#6780db"/><stop offset="0.500" stop-color="#6076e0"/><stop offset="0.550" stop-color="#5c6fe3"/><stop offset="0.600" stop-color="#5b69e3"/><stop offset="0.650" stop-color="#5a63e4"/><stop offset="0.700" stop-color="#5a5fe8"/><stop offset="0.750" stop-color="#595bec"/><stop offset="0.800" stop-color="#5755ee"/><stop offset="0.850" stop-color="#5149e4"/><stop offset="0.900" stop-color="#4234c0"/><stop offset="0.950" stop-color="#3823a2"/><stop offset="1.000" stop-color="#311690"/></linearGradient><linearGradient id="gl40" gradientUnits="userSpaceOnUse" x1="175" y1="0" x2="495" y2="0"><stop offset="0.000" stop-color="#92a7ac"/><stop offset="0.050" stop-color="#8ba4b0"/><stop offset="0.100" stop-color="#85a2b6"/><stop offset="0.150" stop-color="#80a0bb"/><stop offset="0.200" stop-color="#799ec1"/><stop offset="0.250" stop-color="#759bc7"/><stop offset="0.300" stop-color="#7396cd"/><stop offset="0.350" stop-color="#718fd2"/><stop offset="0.400" stop-color="#6c86d7"/><stop offset="0.450" stop-color="#667ddc"/><stop offset="0.500" stop-color="#6073e0"/><stop offset="0.550" stop-color="#5c6ce3"/><stop offset="0.600" stop-color="#5b66e4"/><stop offset="0.650" stop-color="#5b61e4"/><stop offset="0.700" stop-color="#5b5de8"/><stop offset="0.750" stop-color="#5a5aeb"/><stop offset="0.800" stop-color="#5954ed"/><stop offset="0.850" stop-color="#5248e5"/><stop offset="0.900" stop-color="#4331bc"/><stop offset="0.950" stop-color="#38209f"/><stop offset="1.000" stop-color="#31138d"/></linearGradient><linearGradient id="gl41" gradientUnits="userSpaceOnUse" x1="175" y1="0" x2="495" y2="0"><stop offset="0.000" stop-color="#91a5ae"/><stop offset="0.050" stop-color="#8aa2b2"/><stop offset="0.100" stop-color="#84a0b7"/><stop offset="0.150" stop-color="#7e9ebd"/><stop offset="0.200" stop-color="#789cc3"/><stop offset="0.250" stop-color="#7499c8"/><stop offset="0.300" stop-color="#7294ce"/><stop offset="0.350" stop-color="#708cd3"/><stop offset="0.400" stop-color="#6c83d8"/><stop offset="0.450" stop-color="#6579dd"/><stop offset="0.500" stop-color="#6070e1"/><stop offset="0.550" stop-color="#5c69e3"/><stop offset="0.600" stop-color="#5c64e4"/><stop offset="0.650" stop-color="#5c60e5"/><stop offset="0.700" stop-color="#5c5ce7"/><stop offset="0.750" stop-color="#5c59ea"/><stop offset="0.800" stop-color="#5a53ec"/><stop offset="0.850" stop-color="#5546e6"/><stop offset="0.900" stop-color="#432eb9"/><stop offset="0.950" stop-color="#391d9c"/><stop offset="1.000" stop-color="#33108b"/></linearGradient><linearGradient id="gl42" gradientUnits="userSpaceOnUse" x1="175" y1="0" x2="495" y2="0"><stop offset="0.000" stop-color="#90a3af"/><stop offset="0.050" stop-color="#89a0b4"/><stop offset="0.100" stop-color="#839eb9"/><stop offset="0.150" stop-color="#7d9cbe"/><stop offset="0.200" stop-color="#779ac4"/><stop offset="0.250" stop-color="#7397ca"/><stop offset="0.300" stop-color="#7192cf"/><stop offset="0.350" stop-color="#6f8ad4"/><stop offset="0.400" stop-color="#6b80d9"/><stop offset="0.450" stop-color="#6576de"/><stop offset="0.500" stop-color="#606de1"/><stop offset="0.550" stop-color="#5d67e4"/><stop offset="0.600" stop-color="#5c62e4"/><stop offset="0.650" stop-color="#5d5ee5"/><stop offset="0.700" stop-color="#5d5be7"/><stop offset="0.750" stop-color="#5e57e9"/><stop offset="0.800" stop-color="#5c51ea"/><stop offset="0.850" stop-color="#5744e5"/><stop offset="0.900" stop-color="#452bb6"/><stop offset="0.950" stop-color="#3b1a9a"/><stop offset="1.000" stop-color="#340e89"/></linearGradient><linearGradient id="gl43" gradientUnits="userSpaceOnUse" x1="175" y1="0" x2="495" y2="0"><stop offset="0.000" stop-color="#8ea1b1"/><stop offset="0.050" stop-color="#879fb5"/><stop offset="0.100" stop-color="#819cba"/><stop offset="0.150" stop-color="#7c9ac0"/><stop offset="0.200" stop-color="#7798c5"/><stop offset="0.250" stop-color="#7395cb"/><stop offset="0.300" stop-color="#7190d0"/><stop offset="0.350" stop-color="#6f87d5"/><stop offset="0.400" stop-color="#6a7dda"/><stop offset="0.450" stop-color="#6573de"/><stop offset="0.500" stop-color="#606be2"/><stop offset="0.550" stop-color="#5d64e4"/><stop offset="0.600" stop-color="#5d60e5"/><stop offset="0.650" stop-color="#5e5ce5"/><stop offset="0.700" stop-color="#5f59e7"/><stop offset="0.750" stop-color="#5f55e8"/><stop offset="0.800" stop-color="#5e4fe8"/><stop offset="0.850" stop-color="#5942e3"/><stop offset="0.900" stop-color="#4729b6"/><stop offset="0.950" stop-color="#3d1899"/><stop offset="1.000" stop-color="#360b88"/></linearGradient><linearGradient id="gl44" gradientUnits="userSpaceOnUse" x1="175" y1="0" x2="495" y2="0"><stop offset="0.000" stop-color="#8d9fb2"/><stop offset="0.050" stop-color="#869db7"/><stop offset="0.100" stop-color="#809abc"/><stop offset="0.150" stop-color="#7b98c1"/><stop offset="0.200" stop-color="#7696c7"/><stop offset="0.250" stop-color="#7393cc"/><stop offset="0.300" stop-color="#718dd1"/><stop offset="0.350" stop-color="#6e85d6"/><stop offset="0.400" stop-color="#6a7adb"/><stop offset="0.450" stop-color="#6470df"/><stop offset="0.500" stop-color="#6068e2"/><stop offset="0.550" stop-color="#5e62e4"/><stop offset="0.600" stop-color="#5e5ee5"/><stop offset="0.650" stop-color="#5f5ae5"/><stop offset="0.700" stop-color="#6057e6"/><stop offset="0.750" stop-color="#6153e7"/><stop offset="0.800" stop-color="#604de6"/><stop offset="0.850" stop-color="#5b3fdf"/><stop offset="0.900" stop-color="#4b27b6"/><stop offset="0.950" stop-color="#3f1699"/><stop offset="1.000" stop-color="#380987"/></linearGradient><linearGradient id="gl45" gradientUnits="userSpaceOnUse" x1="175" y1="0" x2="495" y2="0"><stop offset="0.000" stop-color="#8c9db4"/><stop offset="0.050" stop-color="#859bb8"/><stop offset="0.100" stop-color="#7f98bd"/><stop offset="0.150" stop-color="#7a96c3"/><stop offset="0.200" stop-color="#7694c8"/><stop offset="0.250" stop-color="#7390cd"/><stop offset="0.300" stop-color="#718bd3"/><stop offset="0.350" stop-color="#6e82d7"/><stop offset="0.400" stop-color="#6977db"/><stop offset="0.450" stop-color="#646ddf"/><stop offset="0.500" stop-color="#6066e2"/><stop offset="0.550" stop-color="#5e60e5"/><stop offset="0.600" stop-color="#5f5ce6"/><stop offset="0.650" stop-color="#6058e6"/><stop offset="0.700" stop-color="#6255e6"/><stop offset="0.750" stop-color="#6351e5"/><stop offset="0.800" stop-color="#634ae4"/><stop offset="0.850" stop-color="#5e3cdb"/><stop offset="0.900" stop-color="#4e26b6"/><stop offset="0.950" stop-color="#421499"/><stop offset="1.000" stop-color="#3a0686"/></linearGradient><linearGradient id="gl46" gradientUnits="userSpaceOnUse" x1="175" y1="0" x2="495" y2="0"><stop offset="0.000" stop-color="#8b9bb5"/><stop offset="0.050" stop-color="#8498b9"/><stop offset="0.100" stop-color="#7f96be"/><stop offset="0.150" stop-color="#7a94c4"/><stop offset="0.200" stop-color="#7591c9"/><stop offset="0.250" stop-color="#728ece"/><stop offset="0.300" stop-color="#7088d4"/><stop offset="0.350" stop-color="#6e7fd8"/><stop offset="0.400" stop-color="#6974dc"/><stop offset="0.450" stop-color="#646ae0"/><stop offset="0.500" stop-color="#6063e3"/><stop offset="0.550" stop-color="#5f5ee5"/><stop offset="0.600" stop-color="#5f5ae6"/><stop offset="0.650" stop-color="#6156e5"/><stop offset="0.700" stop-color="#6353e5"/><stop offset="0.750" stop-color="#654fe4"/><stop offset="0.800" stop-color="#6647e2"/><stop offset="0.850" stop-color="#6139d8"/><stop offset="0.900" stop-color="#5224b6"/><stop offset="0.950" stop-color="#451299"/><stop offset="1.000" stop-color="#3c0485"/></linearGradient><linearGradient id="gl47" gradientUnits="userSpaceOnUse" x1="175" y1="0" x2="495" y2="0"><stop offset="0.000" stop-color="#8a99b6"/><stop offset="0.050" stop-color="#8496bb"/><stop offset="0.100" stop-color="#7e94c0"/><stop offset="0.150" stop-color="#7991c5"/><stop offset="0.200" stop-color="#758eca"/><stop offset="0.250" stop-color="#728bcf"/><stop offset="0.300" stop-color="#7086d4"/><stop offset="0.350" stop-color="#6d7bd9"/><stop offset="0.400" stop-color="#6970dd"/><stop offset="0.450" stop-color="#6467e0"/><stop offset="0.500" stop-color="#6060e3"/><stop offset="0.550" stop-color="#5f5be5"/><stop offset="0.600" stop-color="#6058e6"/><stop offset="0.650" stop-color="#6254e5"/><stop offset="0.700" stop-color="#6551e4"/><stop offset="0.750" stop-color="#674ce3"/><stop offset="0.800" stop-color="#6844e0"/><stop offset="0.850" stop-color="#6435d5"/><stop offset="0.900" stop-color="#5522b6"/><stop offset="0.950" stop-color="#481099"/><stop offset="1.000" stop-color="#3f0285"/></linearGradient><linearGradient id="gl48" gradientUnits="userSpaceOnUse" x1="175" y1="0" x2="495" y2="0"><stop offset="0.000" stop-color="#8997b8"/><stop offset="0.050" stop-color="#8394bc"/><stop offset="0.100" stop-color="#7d91c1"/><stop offset="0.150" stop-color="#798fc6"/><stop offset="0.200" stop-color="#758ccb"/><stop offset="0.250" stop-color="#7288d0"/><stop offset="0.300" stop-color="#7082d5"/><stop offset="0.350" stop-color="#6d78d9"/><stop offset="0.400" stop-color="#696cdd"/><stop offset="0.450" stop-color="#6464e0"/><stop offset="0.500" stop-color="#605ee3"/><stop offset="0.550" stop-color="#5f59e5"/><stop offset="0.600" stop-color="#6156e6"/><stop offset="0.650" stop-color="#6352e4"/><stop offset="0.700" stop-color="#674ee3"/><stop offset="0.750" stop-color="#6a49e1"/><stop offset="0.800" stop-color="#6b40de"/><stop offset="0.850" stop-color="#6732d2"/><stop offset="0.900" stop-color="#591fb5"/><stop offset="0.950" stop-color="#4b0e99"/><stop offset="1.000" stop-color="#410085"/></linearGradient><linearGradient id="gl49" gradientUnits="userSpaceOnUse" x1="175" y1="0" x2="495" y2="0"><stop offset="0.000" stop-color="#8895b9"/><stop offset="0.050" stop-color="#8292bd"/><stop offset="0.100" stop-color="#7d8fc2"/><stop offset="0.150" stop-color="#788cc7"/><stop offset="0.200" stop-color="#7489cc"/><stop offset="0.250" stop-color="#7285d1"/><stop offset="0.300" stop-color="#707fd6"/><stop offset="0.350" stop-color="#6d74da"/><stop offset="0.400" stop-color="#6868dd"/><stop offset="0.450" stop-color="#6461e0"/><stop offset="0.500" stop-color="#615be3"/><stop offset="0.550" stop-color="#6057e4"/><stop offset="0.600" stop-color="#6154e5"/><stop offset="0.650" stop-color="#6450e4"/><stop offset="0.700" stop-color="#684ce1"/><stop offset="0.750" stop-color="#6c46df"/><stop offset="0.800" stop-color="#6d3ddb"/><stop offset="0.850" stop-color="#692fcf"/><stop offset="0.900" stop-color="#5c1db4"/><stop offset="0.950" stop-color="#4e0c99"/><stop offset="1.000" stop-color="#440085"/></linearGradient><linearGradient id="gl50" gradientUnits="userSpaceOnUse" x1="175" y1="0" x2="495" y2="0"><stop offset="0.000" stop-color="#8893ba"/><stop offset="0.050" stop-color="#8290be"/><stop offset="0.100" stop-color="#7c8cc3"/><stop offset="0.150" stop-color="#7889c8"/><stop offset="0.200" stop-color="#7486cd"/><stop offset="0.250" stop-color="#7281d2"/><stop offset="0.300" stop-color="#707ad6"/><stop offset="0.350" stop-color="#6c6fda"/><stop offset="0.400" stop-color="#6864de"/><stop offset="0.450" stop-color="#645de0"/><stop offset="0.500" stop-color="#6158e2"/><stop offset="0.550" stop-color="#6055e4"/><stop offset="0.600" stop-color="#6252e4"/><stop offset="0.650" stop-color="#654ee2"/><stop offset="0.700" stop-color="#6a49e0"/><stop offset="0.750" stop-color="#6d43dd"/><stop offset="0.800" stop-color="#6f39d8"/><stop offset="0.850" stop-color="#6b2ccb"/><stop offset="0.900" stop-color="#5f1bb3"/><stop offset="0.950" stop-color="#510a99"/><stop offset="1.000" stop-color="#460085"/></linearGradient><linearGradient id="gl51" gradientUnits="userSpaceOnUse" x1="175" y1="0" x2="495" y2="0"><stop offset="0.000" stop-color="#8791bb"/><stop offset="0.050" stop-color="#818dbf"/><stop offset="0.100" stop-color="#7c8ac4"/><stop offset="0.150" stop-color="#7786c8"/><stop offset="0.200" stop-color="#7482cd"/><stop offset="0.250" stop-color="#727dd2"/><stop offset="0.300" stop-color="#6f76d7"/><stop offset="0.350" stop-color="#6c6bda"/><stop offset="0.400" stop-color="#6860de"/><stop offset="0.450" stop-color="#645ae0"/><stop offset="0.500" stop-color="#6156e2"/><stop offset="0.550" stop-color="#6152e3"/><stop offset="0.600" stop-color="#634fe3"/><stop offset="0.650" stop-color="#664ce1"/><stop offset="0.700" stop-color="#6b46de"/><stop offset="0.750" stop-color="#6f3fda"/><stop offset="0.800" stop-color="#7136d5"/><stop offset="0.850" stop-color="#6d28c8"/><stop offset="0.900" stop-color="#6118b1"/><stop offset="0.950" stop-color="#540899"/><stop offset="1.000" stop-color="#490085"/></linearGradient><linearGradient id="gl52" gradientUnits="userSpaceOnUse" x1="175" y1="0" x2="495" y2="0"><stop offset="0.000" stop-color="#868ebc"/><stop offset="0.050" stop-color="#808bc0"/><stop offset="0.100" stop-color="#7b87c4"/><stop offset="0.150" stop-color="#7783c9"/><stop offset="0.200" stop-color="#747fce"/><stop offset="0.250" stop-color="#717ad2"/><stop offset="0.300" stop-color="#6f72d7"/><stop offset="0.350" stop-color="#6c66da"/><stop offset="0.400" stop-color="#685cdd"/><stop offset="0.450" stop-color="#6456e0"/><stop offset="0.500" stop-color="#6153e1"/><stop offset="0.550" stop-color="#6150e2"/><stop offset="0.600" stop-color="#634de1"/><stop offset="0.650" stop-color="#674adf"/><stop offset="0.700" stop-color="#6d44dc"/><stop offset="0.750" stop-color="#713cd8"/><stop offset="0.800" stop-color="#7332d1"/><stop offset="0.850" stop-color="#6e25c5"/><stop offset="0.900" stop-color="#6415b0"/><stop offset="0.950" stop-color="#570699"/><stop offset="1.000" stop-color="#4b0085"/></linearGradient><linearGradient id="gl53" gradientUnits="userSpaceOnUse" x1="175" y1="0" x2="495" y2="0"><stop offset="0.000" stop-color="#868cbd"/><stop offset="0.050" stop-color="#8088c1"/><stop offset="0.100" stop-color="#7b84c5"/><stop offset="0.150" stop-color="#7780ca"/><stop offset="0.200" stop-color="#747cce"/><stop offset="0.250" stop-color="#7176d3"/><stop offset="0.300" stop-color="#6f6dd7"/><stop offset="0.350" stop-color="#6c62da"/><stop offset="0.400" stop-color="#6857dd"/><stop offset="0.450" stop-color="#6453df"/><stop offset="0.500" stop-color="#6150e0"/><stop offset="0.550" stop-color="#614ee1"/><stop offset="0.600" stop-color="#644be0"/><stop offset="0.650" stop-color="#6847de"/><stop offset="0.700" stop-color="#6e41da"/><stop offset="0.750" stop-color="#7339d5"/><stop offset="0.800" stop-color="#742ece"/><stop offset="0.850" stop-color="#7022c2"/><stop offset="0.900" stop-color="#6613ae"/><stop offset="0.950" stop-color="#590498"/><stop offset="1.000" stop-color="#4e0085"/></linearGradient><linearGradient id="gl54" gradientUnits="userSpaceOnUse" x1="175" y1="0" x2="495" y2="0"><stop offset="0.000" stop-color="#858abe"/><stop offset="0.050" stop-color="#8086c2"/><stop offset="0.100" stop-color="#7b82c6"/><stop offset="0.150" stop-color="#777dca"/><stop offset="0.200" stop-color="#7478cf"/><stop offset="0.250" stop-color="#7172d3"/><stop offset="0.300" stop-color="#6f69d7"/><stop offset="0.350" stop-color="#6c5dda"/><stop offset="0.400" stop-color="#6853dd"/><stop offset="0.450" stop-color="#644fdf"/><stop offset="0.500" stop-color="#614ddf"/><stop offset="0.550" stop-color="#624bdf"/><stop offset="0.600" stop-color="#6449de"/><stop offset="0.650" stop-color="#6945dc"/><stop offset="0.700" stop-color="#703ed8"/><stop offset="0.750" stop-color="#7535d3"/><stop offset="0.800" stop-color="#762bcb"/><stop offset="0.850" stop-color="#721fbf"/><stop offset="0.900" stop-color="#6810ac"/><stop offset="0.950" stop-color="#5c0298"/><stop offset="1.000" stop-color="#500085"/></linearGradient><linearGradient id="gl55" gradientUnits="userSpaceOnUse" x1="175" y1="0" x2="495" y2="0"><stop offset="0.000" stop-color="#8587be"/><stop offset="0.050" stop-color="#7f83c2"/><stop offset="0.100" stop-color="#7b7fc6"/><stop offset="0.150" stop-color="#777acb"/><stop offset="0.200" stop-color="#7375cf"/><stop offset="0.250" stop-color="#716ed3"/><stop offset="0.300" stop-color="#6e65d7"/><stop offset="0.350" stop-color="#6b59da"/><stop offset="0.400" stop-color="#684fdc"/><stop offset="0.450" stop-color="#644cde"/><stop offset="0.500" stop-color="#624bde"/><stop offset="0.550" stop-color="#6349de"/><stop offset="0.600" stop-color="#6547dc"/><stop offset="0.650" stop-color="#6a43da"/><stop offset="0.700" stop-color="#713bd6"/><stop offset="0.750" stop-color="#7732d0"/><stop offset="0.800" stop-color="#7728c8"/><stop offset="0.850" stop-color="#731cbc"/><stop offset="0.900" stop-color="#6a0eab"/><stop offset="0.950" stop-color="#5e0097"/><stop offset="1.000" stop-color="#530084"/></linearGradient><linearGradient id="gl56" gradientUnits="userSpaceOnUse" x1="175" y1="0" x2="495" y2="0"><stop offset="0.000" stop-color="#8485bf"/><stop offset="0.050" stop-color="#7f81c3"/><stop offset="0.100" stop-color="#7a7cc7"/><stop offset="0.150" stop-color="#7677cb"/><stop offset="0.200" stop-color="#7372cf"/><stop offset="0.250" stop-color="#716ad3"/><stop offset="0.300" stop-color="#6e61d7"/><stop offset="0.350" stop-color="#6b55da"/><stop offset="0.400" stop-color="#684cdc"/><stop offset="0.450" stop-color="#6449dd"/><stop offset="0.500" stop-color="#6248dd"/><stop offset="0.550" stop-color="#6446dc"/><stop offset="0.600" stop-color="#6644da"/><stop offset="0.650" stop-color="#6b40d8"/><stop offset="0.700" stop-color="#7338d4"/><stop offset="0.750" stop-color="#782fce"/><stop offset="0.800" stop-color="#7925c6"/><stop offset="0.850" stop-color="#7419ba"/><stop offset="0.900" stop-color="#6b0ba9"/><stop offset="0.950" stop-color="#600096"/><stop offset="1.000" stop-color="#550084"/></linearGradient><linearGradient id="gl57" gradientUnits="userSpaceOnUse" x1="175" y1="0" x2="495" y2="0"><stop offset="0.000" stop-color="#8483c0"/><stop offset="0.050" stop-color="#7f7ec4"/><stop offset="0.100" stop-color="#7a7ac7"/><stop offset="0.150" stop-color="#7674cb"/><stop offset="0.200" stop-color="#736ecf"/><stop offset="0.250" stop-color="#7167d3"/><stop offset="0.300" stop-color="#6e5dd6"/><stop offset="0.350" stop-color="#6b52d9"/><stop offset="0.400" stop-color="#6849db"/><stop offset="0.450" stop-color="#6447dc"/><stop offset="0.500" stop-color="#6346dc"/><stop offset="0.550" stop-color="#6544db"/><stop offset="0.600" stop-color="#6842d9"/><stop offset="0.650" stop-color="#6d3ed5"/><stop offset="0.700" stop-color="#7535d1"/><stop offset="0.750" stop-color="#7a2ccb"/><stop offset="0.800" stop-color="#7a21c3"/><stop offset="0.850" stop-color="#7616b7"/><stop offset="0.900" stop-color="#6d09a7"/><stop offset="0.950" stop-color="#620095"/><stop offset="1.000" stop-color="#570084"/></linearGradient><linearGradient id="gl58" gradientUnits="userSpaceOnUse" x1="175" y1="0" x2="495" y2="0"><stop offset="0.000" stop-color="#8480c0"/><stop offset="0.050" stop-color="#7e7cc4"/><stop offset="0.100" stop-color="#7a77c8"/><stop offset="0.150" stop-color="#7671cc"/><stop offset="0.200" stop-color="#736bcf"/><stop offset="0.250" stop-color="#7163d3"/><stop offset="0.300" stop-color="#6e59d6"/><stop offset="0.350" stop-color="#6b4fd8"/><stop offset="0.400" stop-color="#6846da"/><stop offset="0.450" stop-color="#6444db"/><stop offset="0.500" stop-color="#6343da"/><stop offset="0.550" stop-color="#6641d9"/><stop offset="0.600" stop-color="#6a3fd7"/><stop offset="0.650" stop-color="#6e3bd3"/><stop offset="0.700" stop-color="#7732cf"/><stop offset="0.750" stop-color="#7c29c9"/><stop offset="0.800" stop-color="#7c1ec1"/><stop offset="0.850" stop-color="#7713b5"/><stop offset="0.900" stop-color="#6f06a5"/><stop offset="0.950" stop-color="#640094"/><stop offset="1.000" stop-color="#590083"/></linearGradient><linearGradient id="gl59" gradientUnits="userSpaceOnUse" x1="175" y1="0" x2="495" y2="0"><stop offset="0.000" stop-color="#837ec1"/><stop offset="0.050" stop-color="#7e79c5"/><stop offset="0.100" stop-color="#7a74c8"/><stop offset="0.150" stop-color="#766ecc"/><stop offset="0.200" stop-color="#7368cf"/><stop offset="0.250" stop-color="#7160d3"/><stop offset="0.300" stop-color="#6e56d5"/><stop offset="0.350" stop-color="#6b4cd8"/><stop offset="0.400" stop-color="#6844d9"/><stop offset="0.450" stop-color="#6542da"/><stop offset="0.500" stop-color="#6441d9"/><stop offset="0.550" stop-color="#683fd7"/><stop offset="0.600" stop-color="#6c3cd5"/><stop offset="0.650" stop-color="#7138d1"/><stop offset="0.700" stop-color="#792fcd"/><stop offset="0.750" stop-color="#7e26c7"/><stop offset="0.800" stop-color="#7d1cbe"/><stop offset="0.850" stop-color="#7810b3"/><stop offset="0.900" stop-color="#7004a4"/><stop offset="0.950" stop-color="#650093"/><stop offset="1.000" stop-color="#5a0083"/></linearGradient><linearGradient id="gl60" gradientUnits="userSpaceOnUse" x1="175" y1="0" x2="495" y2="0"><stop offset="0.000" stop-color="#837cc2"/><stop offset="0.050" stop-color="#7e77c5"/><stop offset="0.100" stop-color="#7a71c8"/><stop offset="0.150" stop-color="#766ccc"/><stop offset="0.200" stop-color="#7365cf"/><stop offset="0.250" stop-color="#715dd2"/><stop offset="0.300" stop-color="#6e53d5"/><stop offset="0.350" stop-color="#6b49d7"/><stop offset="0.400" stop-color="#6842d8"/><stop offset="0.450" stop-color="#6540d8"/><stop offset="0.500" stop-color="#653fd7"/><stop offset="0.550" stop-color="#6a3cd5"/><stop offset="0.600" stop-color="#6e3ad3"/><stop offset="0.650" stop-color="#7435cf"/><stop offset="0.700" stop-color="#7b2ccb"/><stop offset="0.750" stop-color="#7f23c5"/><stop offset="0.800" stop-color="#7e19bc"/><stop offset="0.850" stop-color="#7a0eb1"/><stop offset="0.900" stop-color="#7101a2"/><stop offset="0.950" stop-color="#670092"/><stop offset="1.000" stop-color="#5c0082"/></linearGradient><linearGradient id="gl61" gradientUnits="userSpaceOnUse" x1="175" y1="0" x2="495" y2="0"><stop offset="0.000" stop-color="#8379c2"/><stop offset="0.050" stop-color="#7e74c5"/><stop offset="0.100" stop-color="#7a6fc9"/><stop offset="0.150" stop-color="#7669cc"/><stop offset="0.200" stop-color="#7362cf"/><stop offset="0.250" stop-color="#715ad2"/><stop offset="0.300" stop-color="#6e50d4"/><stop offset="0.350" stop-color="#6c47d6"/><stop offset="0.400" stop-color="#6940d7"/><stop offset="0.450" stop-color="#663ed7"/><stop offset="0.500" stop-color="#673cd5"/><stop offset="0.550" stop-color="#6c39d3"/><stop offset="0.600" stop-color="#7137d1"/><stop offset="0.650" stop-color="#7732cd"/><stop offset="0.700" stop-color="#7d29c9"/><stop offset="0.750" stop-color="#8120c3"/><stop offset="0.800" stop-color="#8016ba"/><stop offset="0.850" stop-color="#7b0baf"/><stop offset="0.900" stop-color="#7300a1"/><stop offset="0.950" stop-color="#680091"/><stop offset="1.000" stop-color="#5e0082"/></linearGradient><linearGradient id="gl62" gradientUnits="userSpaceOnUse" x1="175" y1="0" x2="495" y2="0"><stop offset="0.000" stop-color="#8277c2"/><stop offset="0.050" stop-color="#7e72c6"/><stop offset="0.100" stop-color="#7a6cc9"/><stop offset="0.150" stop-color="#7666cc"/><stop offset="0.200" stop-color="#735fcf"/><stop offset="0.250" stop-color="#7157d2"/><stop offset="0.300" stop-color="#6e4ed4"/><stop offset="0.350" stop-color="#6c45d5"/><stop offset="0.400" stop-color="#693ed6"/><stop offset="0.450" stop-color="#673bd5"/><stop offset="0.500" stop-color="#6939d4"/><stop offset="0.550" stop-color="#6e36d1"/><stop offset="0.600" stop-color="#7334cf"/><stop offset="0.650" stop-color="#792fcc"/><stop offset="0.700" stop-color="#8026c7"/><stop offset="0.750" stop-color="#821dc0"/><stop offset="0.800" stop-color="#8113b8"/><stop offset="0.850" stop-color="#7c08ad"/><stop offset="0.900" stop-color="#74009f"/><stop offset="0.950" stop-color="#6a0090"/><stop offset="1.000" stop-color="#5f0081"/></linearGradient><linearGradient id="gl63" gradientUnits="userSpaceOnUse" x1="175" y1="0" x2="495" y2="0"><stop offset="0.000" stop-color="#8274c3"/><stop offset="0.050" stop-color="#7e6fc6"/><stop offset="0.100" stop-color="#7a69c9"/><stop offset="0.150" stop-color="#7663cc"/><stop offset="0.200" stop-color="#735ccf"/><stop offset="0.250" stop-color="#7154d1"/><stop offset="0.300" stop-color="#6e4bd3"/><stop offset="0.350" stop-color="#6c43d4"/><stop offset="0.400" stop-color="#6a3cd4"/><stop offset="0.450" stop-color="#6939d4"/><stop offset="0.500" stop-color="#6b37d2"/><stop offset="0.550" stop-color="#7133cf"/><stop offset="0.600" stop-color="#7631cd"/><stop offset="0.650" stop-color="#7c2cca"/><stop offset="0.700" stop-color="#8124c5"/><stop offset="0.750" stop-color="#831bbf"/><stop offset="0.800" stop-color="#8211b6"/><stop offset="0.850" stop-color="#7d06ab"/><stop offset="0.900" stop-color="#75009e"/><stop offset="0.950" stop-color="#6b008f"/><stop offset="1.000" stop-color="#610081"/></linearGradient><linearGradient id="gl64" gradientUnits="userSpaceOnUse" x1="175" y1="0" x2="495" y2="0"><stop offset="0.000" stop-color="#8272c3"/><stop offset="0.050" stop-color="#7d6cc6"/><stop offset="0.100" stop-color="#7a67c9"/><stop offset="0.150" stop-color="#7660cc"/><stop offset="0.200" stop-color="#7359ce"/><stop offset="0.250" stop-color="#7151d1"/><stop offset="0.300" stop-color="#6f49d2"/><stop offset="0.350" stop-color="#6d41d3"/><stop offset="0.400" stop-color="#6b3bd3"/><stop offset="0.450" stop-color="#6a37d2"/><stop offset="0.500" stop-color="#6d34d0"/><stop offset="0.550" stop-color="#7431cd"/><stop offset="0.600" stop-color="#792ecc"/><stop offset="0.650" stop-color="#7e29c9"/><stop offset="0.700" stop-color="#8321c3"/><stop offset="0.750" stop-color="#8418bd"/><stop offset="0.800" stop-color="#820eb4"/><stop offset="0.850" stop-color="#7d04a9"/><stop offset="0.900" stop-color="#76009c"/><stop offset="0.950" stop-color="#6c008e"/><stop offset="1.000" stop-color="#620080"/></linearGradient><linearGradient id="gl65" gradientUnits="userSpaceOnUse" x1="175" y1="0" x2="495" y2="0"><stop offset="0.000" stop-color="#826fc4"/><stop offset="0.050" stop-color="#7d6ac6"/><stop offset="0.100" stop-color="#7a64c9"/><stop offset="0.150" stop-color="#765ecc"/><stop offset="0.200" stop-color="#7456ce"/><stop offset="0.250" stop-color="#714fd0"/><stop offset="0.300" stop-color="#6f46d1"/><stop offset="0.350" stop-color="#6d3fd2"/><stop offset="0.400" stop-color="#6c39d2"/><stop offset="0.450" stop-color="#6c35d0"/><stop offset="0.500" stop-color="#6f31ce"/><stop offset="0.550" stop-color="#762ecb"/><stop offset="0.600" stop-color="#7b2cca"/><stop offset="0.650" stop-color="#8027c7"/><stop offset="0.700" stop-color="#841fc2"/><stop offset="0.750" stop-color="#8516bb"/><stop offset="0.800" stop-color="#830cb2"/><stop offset="0.850" stop-color="#7e01a8"/><stop offset="0.900" stop-color="#76009b"/><stop offset="0.950" stop-color="#6d008d"/><stop offset="1.000" stop-color="#63007f"/></linearGradient><linearGradient id="gl66" gradientUnits="userSpaceOnUse" x1="175" y1="0" x2="495" y2="0"><stop offset="0.000" stop-color="#826dc4"/><stop offset="0.050" stop-color="#7d68c6"/><stop offset="0.100" stop-color="#7a62c9"/><stop offset="0.150" stop-color="#765bcc"/><stop offset="0.200" stop-color="#7454ce"/><stop offset="0.250" stop-color="#714ccf"/><stop offset="0.300" stop-color="#6f44d1"/><stop offset="0.350" stop-color="#6e3dd1"/><stop offset="0.400" stop-color="#6d37d0"/><stop offset="0.450" stop-color="#6d33cf"/><stop offset="0.500" stop-color="#712fcc"/><stop offset="0.550" stop-color="#782bc9"/><stop offset="0.600" stop-color="#7d2ac9"/><stop offset="0.650" stop-color="#8225c6"/><stop offset="0.700" stop-color="#861dc0"/><stop offset="0.750" stop-color="#8614b9"/><stop offset="0.800" stop-color="#840ab1"/><stop offset="0.850" stop-color="#7f00a6"/><stop offset="0.900" stop-color="#77009a"/><stop offset="0.950" stop-color="#6e008c"/><stop offset="1.000" stop-color="#64007f"/></linearGradient><linearGradient id="gl67" gradientUnits="userSpaceOnUse" x1="175" y1="0" x2="495" y2="0"><stop offset="0.000" stop-color="#826bc4"/><stop offset="0.050" stop-color="#7d65c7"/><stop offset="0.100" stop-color="#7a5fc9"/><stop offset="0.150" stop-color="#7658cb"/><stop offset="0.200" stop-color="#7451cd"/><stop offset="0.250" stop-color="#724acf"/><stop offset="0.300" stop-color="#7042d0"/><stop offset="0.350" stop-color="#6e3bd0"/><stop offset="0.400" stop-color="#6e35cf"/><stop offset="0.450" stop-color="#6f31cd"/><stop offset="0.500" stop-color="#732dca"/><stop offset="0.550" stop-color="#7a29c7"/><stop offset="0.600" stop-color="#7f29c7"/><stop offset="0.650" stop-color="#8323c4"/><stop offset="0.700" stop-color="#861bbf"/><stop offset="0.750" stop-color="#8711b8"/><stop offset="0.800" stop-color="#8407af"/><stop offset="0.850" stop-color="#7f00a4"/><stop offset="0.900" stop-color="#780098"/><stop offset="0.950" stop-color="#6f008b"/><stop offset="1.000" stop-color="#65007e"/></linearGradient><linearGradient id="gl68" gradientUnits="userSpaceOnUse" x1="175" y1="0" x2="495" y2="0"><stop offset="0.000" stop-color="#8268c4"/><stop offset="0.050" stop-color="#7d63c7"/><stop offset="0.100" stop-color="#7a5dc9"/><stop offset="0.150" stop-color="#7756cb"/><stop offset="0.200" stop-color="#744fcd"/><stop offset="0.250" stop-color="#7247ce"/><stop offset="0.300" stop-color="#7040cf"/><stop offset="0.350" stop-color="#6f39cf"/><stop offset="0.400" stop-color="#6f34ce"/><stop offset="0.450" stop-color="#702fcc"/><stop offset="0.500" stop-color="#742bc9"/><stop offset="0.550" stop-color="#7b28c6"/><stop offset="0.600" stop-color="#8027c6"/><stop offset="0.650" stop-color="#8421c3"/><stop offset="0.700" stop-color="#8719bd"/><stop offset="0.750" stop-color="#870fb6"/><stop offset="0.800" stop-color="#8505ad"/><stop offset="0.850" stop-color="#8000a3"/><stop offset="0.900" stop-color="#790097"/><stop offset="0.950" stop-color="#70008a"/><stop offset="1.000" stop-color="#66007e"/></linearGradient><linearGradient id="gl69" gradientUnits="userSpaceOnUse" x1="175" y1="0" x2="495" y2="0"><stop offset="0.000" stop-color="#8266c4"/><stop offset="0.050" stop-color="#7d60c7"/><stop offset="0.100" stop-color="#7a5ac9"/><stop offset="0.150" stop-color="#7754cb"/><stop offset="0.200" stop-color="#744dcc"/><stop offset="0.250" stop-color="#7245ce"/><stop offset="0.300" stop-color="#713ece"/><stop offset="0.350" stop-color="#7037ce"/><stop offset="0.400" stop-color="#7032cc"/><stop offset="0.450" stop-color="#712eca"/><stop offset="0.500" stop-color="#762ac7"/><stop offset="0.550" stop-color="#7b27c5"/><stop offset="0.600" stop-color="#8026c5"/><stop offset="0.650" stop-color="#8520c2"/><stop offset="0.700" stop-color="#8817bc"/><stop offset="0.750" stop-color="#880db4"/><stop offset="0.800" stop-color="#8503ac"/><stop offset="0.850" stop-color="#8000a2"/><stop offset="0.900" stop-color="#790096"/><stop offset="0.950" stop-color="#70008a"/><stop offset="1.000" stop-color="#67007d"/></linearGradient><linearGradient id="gl70" gradientUnits="userSpaceOnUse" x1="175" y1="0" x2="495" y2="0"><stop offset="0.000" stop-color="#8264c4"/><stop offset="0.050" stop-color="#7d5ec7"/><stop offset="0.100" stop-color="#7a58c9"/><stop offset="0.150" stop-color="#7751ca"/><stop offset="0.200" stop-color="#754acc"/><stop offset="0.250" stop-color="#7343cd"/><stop offset="0.300" stop-color="#713ccd"/><stop offset="0.350" stop-color="#7035cd"/><stop offset="0.400" stop-color="#7130cb"/><stop offset="0.450" stop-color="#722cc9"/><stop offset="0.500" stop-color="#7629c6"/><stop offset="0.550" stop-color="#7b27c4"/><stop offset="0.600" stop-color="#8024c3"/><stop offset="0.650" stop-color="#851ec0"/><stop offset="0.700" stop-color="#8815ba"/><stop offset="0.750" stop-color="#880bb3"/><stop offset="0.800" stop-color="#8501aa"/><stop offset="0.850" stop-color="#8000a0"/><stop offset="0.900" stop-color="#790095"/><stop offset="0.950" stop-color="#710089"/><stop offset="1.000" stop-color="#68007c"/></linearGradient><linearGradient id="gl71" gradientUnits="userSpaceOnUse" x1="175" y1="0" x2="495" y2="0"><stop offset="0.000" stop-color="#8261c5"/><stop offset="0.050" stop-color="#7e5cc7"/><stop offset="0.100" stop-color="#7a55c8"/><stop offset="0.150" stop-color="#774fca"/><stop offset="0.200" stop-color="#7548cb"/><stop offset="0.250" stop-color="#7341cc"/><stop offset="0.300" stop-color="#723acc"/><stop offset="0.350" stop-color="#7134cc"/><stop offset="0.400" stop-color="#712fca"/><stop offset="0.450" stop-color="#732bc8"/><stop offset="0.500" stop-color="#7727c5"/><stop offset="0.550" stop-color="#7b26c3"/><stop offset="0.600" stop-color="#8123c2"/><stop offset="0.650" stop-color="#861cbf"/><stop offset="0.700" stop-color="#8813b9"/><stop offset="0.750" stop-color="#8809b1"/><stop offset="0.800" stop-color="#8500a9"/><stop offset="0.850" stop-color="#81009f"/><stop offset="0.900" stop-color="#7a0094"/><stop offset="0.950" stop-color="#710088"/><stop offset="1.000" stop-color="#68007c"/></linearGradient><linearGradient id="gl72" gradientUnits="userSpaceOnUse" x1="175" y1="0" x2="495" y2="0"><stop offset="0.000" stop-color="#825fc5"/><stop offset="0.050" stop-color="#7e59c6"/><stop offset="0.100" stop-color="#7a53c8"/><stop offset="0.150" stop-color="#774dca"/><stop offset="0.200" stop-color="#7546cb"/><stop offset="0.250" stop-color="#733fcb"/><stop offset="0.300" stop-color="#7238cb"/><stop offset="0.350" stop-color="#7232cb"/><stop offset="0.400" stop-color="#722dc9"/><stop offset="0.450" stop-color="#7429c6"/><stop offset="0.500" stop-color="#7826c4"/><stop offset="0.550" stop-color="#7c24c1"/><stop offset="0.600" stop-color="#8121c0"/><stop offset="0.650" stop-color="#861abd"/><stop offset="0.700" stop-color="#8811b7"/><stop offset="0.750" stop-color="#8807b0"/><stop offset="0.800" stop-color="#8500a7"/><stop offset="0.850" stop-color="#81009d"/><stop offset="0.900" stop-color="#7a0093"/><stop offset="0.950" stop-color="#720087"/><stop offset="1.000" stop-color="#69007b"/></linearGradient><clipPath id="cl"><path d="M181,259 L321.5,189 L321.5,189.0 C324.8,189.3 334.3,190.4 341.0,190.9 C347.7,191.4 354.7,192.2 361.5,191.9 C368.3,191.6 375.2,190.3 382.0,188.8 C388.8,187.3 396.6,184.4 402.4,182.7 C408.2,181.0 414.0,179.5 416.7,178.6 C419.4,177.7 418.0,177.7 418.3,177.5 L418.3,177.5 C418.5,178.7 418.9,181.1 419.6,184.6 C420.3,188.1 421.8,194.1 422.7,198.5 C423.6,202.9 423.9,206.8 424.8,211.0 C425.7,215.2 427.3,219.3 428.3,223.5 C429.3,227.7 430.1,231.7 431.0,236.0 C431.9,240.3 432.9,244.9 433.8,249.2 C434.6,253.5 435.3,257.7 436.0,262.0 C436.7,266.3 437.4,270.7 438.0,275.0 C438.6,279.3 439.1,283.7 439.5,288.0 C439.9,292.3 440.2,296.7 440.5,301.0 C440.8,305.3 440.9,309.7 441.0,314.0 C441.1,318.3 441.0,324.8 441.0,327.0 L468.3,330.0 C467.9,332.5 467.1,340.3 465.8,345.0 C464.6,349.7 462.9,354.1 460.8,358.3 C458.7,362.6 456.2,366.6 453.3,370.5 C450.4,374.4 446.6,377.9 443.5,381.5 C440.4,385.1 437.8,388.4 434.7,392.0 C431.6,395.6 428.2,399.3 425.0,402.9 C421.8,406.4 418.7,410.2 415.6,413.3 C412.5,416.4 409.7,418.7 406.2,421.7 C402.8,424.7 398.9,428.2 395.0,431.5 C391.1,434.8 387.0,438.1 383.0,441.5 C379.0,444.9 375.0,448.2 371.0,452.0 C367.0,455.8 361.0,462.0 359.0,464.0 L359.0,464.0 C355.8,460.8 346.5,451.5 340.0,445.0 C333.5,438.5 326.9,432.3 320.0,425.0 C313.1,417.7 305.0,408.5 298.5,401.3 C292.0,394.1 286.3,388.4 281.0,382.0 C275.7,375.6 272.1,369.7 266.6,363.0 C261.1,356.3 253.3,347.7 248.0,342.0 C242.7,336.3 240.2,334.3 235.0,329.0 C229.8,323.7 222.4,317.0 216.7,310.4 C211.0,303.8 205.4,295.5 201.0,289.4 C196.6,283.3 193.3,279.1 190.0,274.0 C186.7,268.9 182.5,261.5 181.0,259.0 Z"/></clipPath><clipPath id="clx"><path d="M181,259 L321.5,189 L321.5,189.0 C324.8,189.3 334.3,190.4 341.0,190.9 C347.7,191.4 354.7,192.2 361.5,191.9 C368.3,191.6 375.2,190.3 382.0,188.8 C388.8,187.3 396.6,184.4 402.4,182.7 C408.2,181.0 414.0,179.5 416.7,178.6 C419.4,177.7 418.0,177.7 418.3,177.5 L452,161.5 L452.0,161.5 C452.5,162.9 453.9,166.4 455.0,170.0 C456.1,173.6 457.1,178.3 458.3,183.3 C459.6,188.3 461.2,194.4 462.5,200.0 C463.8,205.6 464.8,211.7 465.8,216.7 C466.8,221.7 467.5,225.0 468.3,230.0 C469.1,235.0 470.0,241.4 470.6,246.7 C471.2,252.0 471.5,256.4 471.7,262.0 C471.9,267.6 471.8,274.5 471.7,280.0 C471.6,285.5 471.1,290.0 470.8,295.0 C470.5,300.0 470.1,305.8 469.8,310.0 C469.5,314.2 469.4,316.7 469.2,320.0 C468.9,323.3 468.9,325.8 468.3,330.0 C467.7,334.2 467.1,340.3 465.8,345.0 C464.6,349.7 462.9,354.1 460.8,358.3 C458.7,362.6 456.2,366.6 453.3,370.5 C450.4,374.4 446.6,377.9 443.5,381.5 C440.4,385.1 437.8,388.4 434.7,392.0 C431.6,395.6 428.2,399.3 425.0,402.9 C421.8,406.4 418.7,410.2 415.6,413.3 C412.5,416.4 409.7,418.7 406.2,421.7 C402.8,424.7 398.9,428.2 395.0,431.5 C391.1,434.8 387.0,438.1 383.0,441.5 C379.0,444.9 375.0,448.2 371.0,452.0 C367.0,455.8 361.0,462.0 359.0,464.0 L359.0,464.0 C355.8,460.8 346.5,451.5 340.0,445.0 C333.5,438.5 326.9,432.3 320.0,425.0 C313.1,417.7 305.0,408.5 298.5,401.3 C292.0,394.1 286.3,388.4 281.0,382.0 C275.7,375.6 272.1,369.7 266.6,363.0 C261.1,356.3 253.3,347.7 248.0,342.0 C242.7,336.3 240.2,334.3 235.0,329.0 C229.8,323.7 222.4,317.0 216.7,310.4 C211.0,303.8 205.4,295.5 201.0,289.4 C196.6,283.3 193.3,279.1 190.0,274.0 C186.7,268.9 182.5,261.5 181.0,259.0 Z"/></clipPath><clipPath id="cm"><path d="M181.0,259.0 C180.0,258.0 177.2,255.8 175.0,253.0 C172.8,250.2 170.2,246.3 168.0,242.0 C165.8,237.7 164.0,232.0 162.0,227.0 C160.0,222.0 157.8,217.0 156.0,212.0 C154.2,207.0 152.5,202.2 151.0,197.0 C149.5,191.8 147.9,186.3 147.0,181.0 C146.1,175.7 145.6,170.2 145.5,165.0 C145.4,159.8 145.8,154.6 146.5,150.0 C147.2,145.4 148.6,141.2 150.0,137.5 C151.4,133.8 153.0,130.5 155.0,127.5 C157.0,124.5 159.3,122.2 162.0,119.5 C164.7,116.8 167.2,114.4 171.0,111.5 C174.8,108.6 180.2,104.9 185.0,102.0 C189.8,99.1 193.9,97.1 200.0,94.0 C206.1,90.9 215.0,86.5 221.7,83.5 C228.4,80.5 232.3,79.1 240.0,76.0 C247.7,72.9 259.3,68.2 267.6,64.8 C275.9,61.4 281.1,59.2 290.0,55.5 C298.9,51.8 315.8,44.7 321.0,42.5 L321.0,42.5 C322.5,43.6 326.8,46.1 330.0,49.0 C333.2,51.9 336.9,56.5 340.0,60.0 C343.1,63.5 345.5,66.4 348.3,70.0 C351.1,73.6 354.2,78.4 356.7,81.7 C359.2,85.0 360.8,86.7 363.3,90.0 C365.8,93.3 368.9,97.8 371.7,101.7 C374.5,105.6 377.2,109.1 380.0,113.3 C382.8,117.5 385.8,122.5 388.3,126.7 C390.8,130.9 392.6,134.8 395.0,138.3 C397.4,141.8 400.6,144.6 402.9,147.9 C405.2,151.2 407.1,154.6 409.0,158.0 C410.9,161.4 412.9,165.1 414.5,168.3 C416.1,171.6 417.7,176.0 418.3,177.5 L452,161.5 L452.0,161.5 C452.5,162.9 453.9,166.4 455.0,170.0 C456.1,173.6 457.1,178.3 458.3,183.3 C459.6,188.3 461.2,194.4 462.5,200.0 C463.8,205.6 464.8,211.7 465.8,216.7 C466.8,221.7 467.5,225.0 468.3,230.0 C469.1,235.0 470.0,241.4 470.6,246.7 C471.2,252.0 471.5,256.4 471.7,262.0 C471.9,267.6 471.8,274.5 471.7,280.0 C471.6,285.5 471.1,290.0 470.8,295.0 C470.5,300.0 470.1,305.8 469.8,310.0 C469.5,314.2 469.4,316.7 469.2,320.0 C468.9,323.3 468.9,325.8 468.3,330.0 C467.7,334.2 467.1,340.3 465.8,345.0 C464.6,349.7 462.9,354.1 460.8,358.3 C458.7,362.6 456.2,366.6 453.3,370.5 C450.4,374.4 446.6,377.9 443.5,381.5 C440.4,385.1 437.8,388.4 434.7,392.0 C431.6,395.6 428.2,399.3 425.0,402.9 C421.8,406.4 418.7,410.2 415.6,413.3 C412.5,416.4 409.7,418.7 406.2,421.7 C402.8,424.7 398.9,428.2 395.0,431.5 C391.1,434.8 387.0,438.1 383.0,441.5 C379.0,444.9 375.0,448.2 371.0,452.0 C367.0,455.8 361.0,462.0 359.0,464.0 L359.0,464.0 C355.8,460.8 346.5,451.5 340.0,445.0 C333.5,438.5 326.9,432.3 320.0,425.0 C313.1,417.7 305.0,408.5 298.5,401.3 C292.0,394.1 286.3,388.4 281.0,382.0 C275.7,375.6 272.1,369.7 266.6,363.0 C261.1,356.3 253.3,347.7 248.0,342.0 C242.7,336.3 240.2,334.3 235.0,329.0 C229.8,323.7 222.4,317.0 216.7,310.4 C211.0,303.8 205.4,295.5 201.0,289.4 C196.6,283.3 193.3,279.1 190.0,274.0 C186.7,268.9 182.5,261.5 181.0,259.0 Z"/></clipPath><linearGradient id="gi0" gradientUnits="userSpaceOnUse" x1="410" y1="0" x2="482" y2="0"><stop offset="0.000" stop-color="#3f819c"/><stop offset="0.111" stop-color="#3c7d90"/><stop offset="0.222" stop-color="#397a85"/><stop offset="0.333" stop-color="#36777b"/><stop offset="0.444" stop-color="#316d6a"/><stop offset="0.556" stop-color="#234944"/><stop offset="0.667" stop-color="#0f180f"/><stop offset="0.778" stop-color="#000000"/><stop offset="0.889" stop-color="#000000"/><stop offset="1.000" stop-color="#000000"/></linearGradient><linearGradient id="gi1" gradientUnits="userSpaceOnUse" x1="410" y1="0" x2="482" y2="0"><stop offset="0.000" stop-color="#40829e"/><stop offset="0.111" stop-color="#3d7f92"/><stop offset="0.222" stop-color="#3a7d89"/><stop offset="0.333" stop-color="#387c81"/><stop offset="0.444" stop-color="#357a75"/><stop offset="0.556" stop-color="#295a52"/><stop offset="0.667" stop-color="#13231a"/><stop offset="0.778" stop-color="#010000"/><stop offset="0.889" stop-color="#000000"/><stop offset="1.000" stop-color="#000000"/></linearGradient><linearGradient id="gi2" gradientUnits="userSpaceOnUse" x1="410" y1="0" x2="482" y2="0"><stop offset="0.000" stop-color="#40829f"/><stop offset="0.111" stop-color="#3d7f93"/><stop offset="0.222" stop-color="#3b7e8b"/><stop offset="0.333" stop-color="#397f85"/><stop offset="0.444" stop-color="#38817d"/><stop offset="0.556" stop-color="#2d685e"/><stop offset="0.667" stop-color="#182f25"/><stop offset="0.778" stop-color="#040100"/><stop offset="0.889" stop-color="#000000"/><stop offset="1.000" stop-color="#000000"/></linearGradient><linearGradient id="gi3" gradientUnits="userSpaceOnUse" x1="410" y1="0" x2="482" y2="0"><stop offset="0.000" stop-color="#4181a0"/><stop offset="0.111" stop-color="#3e7f95"/><stop offset="0.222" stop-color="#3b7e8d"/><stop offset="0.333" stop-color="#3a8087"/><stop offset="0.444" stop-color="#398380"/><stop offset="0.556" stop-color="#2f6d64"/><stop offset="0.667" stop-color="#1c3a2f"/><stop offset="0.778" stop-color="#070900"/><stop offset="0.889" stop-color="#000000"/><stop offset="1.000" stop-color="#000000"/></linearGradient><linearGradient id="gi4" gradientUnits="userSpaceOnUse" x1="410" y1="0" x2="482" y2="0"><stop offset="0.000" stop-color="#4180a2"/><stop offset="0.111" stop-color="#3e7e96"/><stop offset="0.222" stop-color="#3c7e8f"/><stop offset="0.333" stop-color="#3b818b"/><stop offset="0.444" stop-color="#398383"/><stop offset="0.556" stop-color="#306f67"/><stop offset="0.667" stop-color="#1e4136"/><stop offset="0.778" stop-color="#0a0f00"/><stop offset="0.889" stop-color="#000000"/><stop offset="1.000" stop-color="#000000"/></linearGradient><linearGradient id="gi5" gradientUnits="userSpaceOnUse" x1="410" y1="0" x2="482" y2="0"><stop offset="0.000" stop-color="#417fa4"/><stop offset="0.111" stop-color="#3e7d98"/><stop offset="0.222" stop-color="#3c7e92"/><stop offset="0.333" stop-color="#3b828e"/><stop offset="0.444" stop-color="#3a8385"/><stop offset="0.556" stop-color="#31716b"/><stop offset="0.667" stop-color="#20463b"/><stop offset="0.778" stop-color="#0c1402"/><stop offset="0.889" stop-color="#000000"/><stop offset="1.000" stop-color="#000000"/></linearGradient><linearGradient id="gi6" gradientUnits="userSpaceOnUse" x1="410" y1="0" x2="482" y2="0"><stop offset="0.000" stop-color="#417ea7"/><stop offset="0.111" stop-color="#3e7b9c"/><stop offset="0.222" stop-color="#3d7d95"/><stop offset="0.333" stop-color="#3c8191"/><stop offset="0.444" stop-color="#3a8388"/><stop offset="0.556" stop-color="#32736f"/><stop offset="0.667" stop-color="#224940"/><stop offset="0.778" stop-color="#0d1706"/><stop offset="0.889" stop-color="#000000"/><stop offset="1.000" stop-color="#000000"/></linearGradient><linearGradient id="gi7" gradientUnits="userSpaceOnUse" x1="410" y1="0" x2="482" y2="0"><stop offset="0.000" stop-color="#417cab"/><stop offset="0.111" stop-color="#3f7aa0"/><stop offset="0.222" stop-color="#3d7c9a"/><stop offset="0.333" stop-color="#3c8095"/><stop offset="0.444" stop-color="#3b838c"/><stop offset="0.556" stop-color="#347675"/><stop offset="0.667" stop-color="#234b44"/><stop offset="0.778" stop-color="#0e180a"/><stop offset="0.889" stop-color="#000000"/><stop offset="1.000" stop-color="#000000"/></linearGradient><linearGradient id="gi8" gradientUnits="userSpaceOnUse" x1="410" y1="0" x2="482" y2="0"><stop offset="0.000" stop-color="#427baf"/><stop offset="0.111" stop-color="#3f79a5"/><stop offset="0.222" stop-color="#3d7a9e"/><stop offset="0.333" stop-color="#3c7e99"/><stop offset="0.444" stop-color="#3b8290"/><stop offset="0.556" stop-color="#357a7b"/><stop offset="0.667" stop-color="#234b49"/><stop offset="0.778" stop-color="#0e180d"/><stop offset="0.889" stop-color="#000000"/><stop offset="1.000" stop-color="#000000"/></linearGradient><linearGradient id="gi9" gradientUnits="userSpaceOnUse" x1="410" y1="0" x2="482" y2="0"><stop offset="0.000" stop-color="#427ab4"/><stop offset="0.111" stop-color="#3f77aa"/><stop offset="0.222" stop-color="#3d78a3"/><stop offset="0.333" stop-color="#3d7c9d"/><stop offset="0.444" stop-color="#3b8094"/><stop offset="0.556" stop-color="#367a81"/><stop offset="0.667" stop-color="#244c4d"/><stop offset="0.778" stop-color="#0f1a12"/><stop offset="0.889" stop-color="#000000"/><stop offset="1.000" stop-color="#000000"/></linearGradient><linearGradient id="gi10" gradientUnits="userSpaceOnUse" x1="410" y1="0" x2="482" y2="0"><stop offset="0.000" stop-color="#4279b9"/><stop offset="0.111" stop-color="#3f76b0"/><stop offset="0.222" stop-color="#3d76a9"/><stop offset="0.333" stop-color="#3d7ba3"/><stop offset="0.444" stop-color="#3b7e99"/><stop offset="0.556" stop-color="#357584"/><stop offset="0.667" stop-color="#254d54"/><stop offset="0.778" stop-color="#111d19"/><stop offset="0.889" stop-color="#000000"/><stop offset="1.000" stop-color="#000000"/></linearGradient><linearGradient id="gi11" gradientUnits="userSpaceOnUse" x1="410" y1="0" x2="482" y2="0"><stop offset="0.000" stop-color="#4378be"/><stop offset="0.111" stop-color="#4075b5"/><stop offset="0.222" stop-color="#3e75ae"/><stop offset="0.333" stop-color="#3d79a8"/><stop offset="0.444" stop-color="#3b7b9e"/><stop offset="0.556" stop-color="#347087"/><stop offset="0.667" stop-color="#254d5a"/><stop offset="0.778" stop-color="#122120"/><stop offset="0.889" stop-color="#000000"/><stop offset="1.000" stop-color="#000000"/></linearGradient><linearGradient id="gi12" gradientUnits="userSpaceOnUse" x1="410" y1="0" x2="482" y2="0"><stop offset="0.000" stop-color="#4478c3"/><stop offset="0.111" stop-color="#4175bb"/><stop offset="0.222" stop-color="#3f75b4"/><stop offset="0.333" stop-color="#3d78ae"/><stop offset="0.444" stop-color="#3b78a3"/><stop offset="0.556" stop-color="#346c8c"/><stop offset="0.667" stop-color="#264d61"/><stop offset="0.778" stop-color="#142428"/><stop offset="0.889" stop-color="#000000"/><stop offset="1.000" stop-color="#000000"/></linearGradient><linearGradient id="gi13" gradientUnits="userSpaceOnUse" x1="410" y1="0" x2="482" y2="0"><stop offset="0.000" stop-color="#4477c9"/><stop offset="0.111" stop-color="#4275c0"/><stop offset="0.222" stop-color="#4075ba"/><stop offset="0.333" stop-color="#3e76b3"/><stop offset="0.444" stop-color="#3b75a8"/><stop offset="0.556" stop-color="#346992"/><stop offset="0.667" stop-color="#274e6a"/><stop offset="0.778" stop-color="#15272f"/><stop offset="0.889" stop-color="#010000"/><stop offset="1.000" stop-color="#000000"/></linearGradient><linearGradient id="gi14" gradientUnits="userSpaceOnUse" x1="410" y1="0" x2="482" y2="0"><stop offset="0.000" stop-color="#4577ce"/><stop offset="0.111" stop-color="#4275c6"/><stop offset="0.222" stop-color="#4074bf"/><stop offset="0.333" stop-color="#3e75b8"/><stop offset="0.444" stop-color="#3b72ae"/><stop offset="0.556" stop-color="#35689a"/><stop offset="0.667" stop-color="#294f73"/><stop offset="0.778" stop-color="#172937"/><stop offset="0.889" stop-color="#020000"/><stop offset="1.000" stop-color="#000000"/></linearGradient><linearGradient id="gi15" gradientUnits="userSpaceOnUse" x1="410" y1="0" x2="482" y2="0"><stop offset="0.000" stop-color="#4677d2"/><stop offset="0.111" stop-color="#4374cb"/><stop offset="0.222" stop-color="#4173c4"/><stop offset="0.333" stop-color="#3f73bd"/><stop offset="0.444" stop-color="#3c70b4"/><stop offset="0.556" stop-color="#3667a3"/><stop offset="0.667" stop-color="#2b517e"/><stop offset="0.778" stop-color="#182b3f"/><stop offset="0.889" stop-color="#030200"/><stop offset="1.000" stop-color="#000000"/></linearGradient><linearGradient id="gi16" gradientUnits="userSpaceOnUse" x1="410" y1="0" x2="482" y2="0"><stop offset="0.000" stop-color="#4777d7"/><stop offset="0.111" stop-color="#4474cf"/><stop offset="0.222" stop-color="#4272c9"/><stop offset="0.333" stop-color="#3f71c2"/><stop offset="0.444" stop-color="#3c6eb9"/><stop offset="0.556" stop-color="#3767ac"/><stop offset="0.667" stop-color="#2d538b"/><stop offset="0.778" stop-color="#1a2c47"/><stop offset="0.889" stop-color="#040300"/><stop offset="1.000" stop-color="#000000"/></linearGradient><linearGradient id="gi17" gradientUnits="userSpaceOnUse" x1="410" y1="0" x2="482" y2="0"><stop offset="0.000" stop-color="#4876db"/><stop offset="0.111" stop-color="#4573d4"/><stop offset="0.222" stop-color="#4271cd"/><stop offset="0.333" stop-color="#406fc7"/><stop offset="0.444" stop-color="#3d6cbe"/><stop offset="0.556" stop-color="#3966b5"/><stop offset="0.667" stop-color="#305698"/><stop offset="0.778" stop-color="#1b2d4e"/><stop offset="0.889" stop-color="#060501"/><stop offset="1.000" stop-color="#000000"/></linearGradient><linearGradient id="gi18" gradientUnits="userSpaceOnUse" x1="410" y1="0" x2="482" y2="0"><stop offset="0.000" stop-color="#4976df"/><stop offset="0.111" stop-color="#4672d8"/><stop offset="0.222" stop-color="#4370d2"/><stop offset="0.333" stop-color="#416dcc"/><stop offset="0.444" stop-color="#3e6ac5"/><stop offset="0.556" stop-color="#3a65bd"/><stop offset="0.667" stop-color="#3256a1"/><stop offset="0.778" stop-color="#1d2f56"/><stop offset="0.889" stop-color="#070707"/><stop offset="1.000" stop-color="#000000"/></linearGradient><linearGradient id="gi19" gradientUnits="userSpaceOnUse" x1="410" y1="0" x2="482" y2="0"><stop offset="0.000" stop-color="#4975e3"/><stop offset="0.111" stop-color="#4771dc"/><stop offset="0.222" stop-color="#446fd7"/><stop offset="0.333" stop-color="#426cd1"/><stop offset="0.444" stop-color="#3f69cc"/><stop offset="0.556" stop-color="#3b63c3"/><stop offset="0.667" stop-color="#3253a5"/><stop offset="0.778" stop-color="#1f305f"/><stop offset="0.889" stop-color="#09090e"/><stop offset="1.000" stop-color="#000000"/></linearGradient><linearGradient id="gi20" gradientUnits="userSpaceOnUse" x1="410" y1="0" x2="482" y2="0"><stop offset="0.000" stop-color="#4a74e7"/><stop offset="0.111" stop-color="#4770e0"/><stop offset="0.222" stop-color="#456ddb"/><stop offset="0.333" stop-color="#436ad6"/><stop offset="0.444" stop-color="#4067d2"/><stop offset="0.556" stop-color="#3d61c9"/><stop offset="0.667" stop-color="#3351ab"/><stop offset="0.778" stop-color="#213268"/><stop offset="0.889" stop-color="#0b0c15"/><stop offset="1.000" stop-color="#000000"/></linearGradient><linearGradient id="gi21" gradientUnits="userSpaceOnUse" x1="410" y1="0" x2="482" y2="0"><stop offset="0.000" stop-color="#4b73ea"/><stop offset="0.111" stop-color="#486fe4"/><stop offset="0.222" stop-color="#466cdf"/><stop offset="0.333" stop-color="#4469db"/><stop offset="0.444" stop-color="#4265d8"/><stop offset="0.556" stop-color="#3e5fcf"/><stop offset="0.667" stop-color="#3550b2"/><stop offset="0.778" stop-color="#233371"/><stop offset="0.889" stop-color="#0d0e1b"/><stop offset="1.000" stop-color="#000000"/></linearGradient><linearGradient id="gi22" gradientUnits="userSpaceOnUse" x1="410" y1="0" x2="482" y2="0"><stop offset="0.000" stop-color="#4c72ed"/><stop offset="0.111" stop-color="#496ee7"/><stop offset="0.222" stop-color="#476ae2"/><stop offset="0.333" stop-color="#4567de"/><stop offset="0.444" stop-color="#4363dc"/><stop offset="0.556" stop-color="#3f5dd5"/><stop offset="0.667" stop-color="#374fbb"/><stop offset="0.778" stop-color="#26347b"/><stop offset="0.889" stop-color="#0e101f"/><stop offset="1.000" stop-color="#000000"/></linearGradient><linearGradient id="gi23" gradientUnits="userSpaceOnUse" x1="410" y1="0" x2="482" y2="0"><stop offset="0.000" stop-color="#4c71f0"/><stop offset="0.111" stop-color="#4a6dea"/><stop offset="0.222" stop-color="#4768e5"/><stop offset="0.333" stop-color="#4564e1"/><stop offset="0.444" stop-color="#4360de"/><stop offset="0.556" stop-color="#405bd9"/><stop offset="0.667" stop-color="#3a50c5"/><stop offset="0.778" stop-color="#283684"/><stop offset="0.889" stop-color="#0f1022"/><stop offset="1.000" stop-color="#000000"/></linearGradient><linearGradient id="gi24" gradientUnits="userSpaceOnUse" x1="410" y1="0" x2="482" y2="0"><stop offset="0.000" stop-color="#4d70f3"/><stop offset="0.111" stop-color="#4b6bec"/><stop offset="0.222" stop-color="#4867e7"/><stop offset="0.333" stop-color="#4662e3"/><stop offset="0.444" stop-color="#445ee1"/><stop offset="0.556" stop-color="#4159dc"/><stop offset="0.667" stop-color="#3c50cf"/><stop offset="0.778" stop-color="#2b378e"/><stop offset="0.889" stop-color="#0f1021"/><stop offset="1.000" stop-color="#000000"/></linearGradient><linearGradient id="gi25" gradientUnits="userSpaceOnUse" x1="410" y1="0" x2="482" y2="0"><stop offset="0.000" stop-color="#4e6ff5"/><stop offset="0.111" stop-color="#4b6aef"/><stop offset="0.222" stop-color="#4965e9"/><stop offset="0.333" stop-color="#4660e5"/><stop offset="0.444" stop-color="#445ce3"/><stop offset="0.556" stop-color="#4256de"/><stop offset="0.667" stop-color="#3d4fd5"/><stop offset="0.778" stop-color="#2c3894"/><stop offset="0.889" stop-color="#0f1021"/><stop offset="1.000" stop-color="#000000"/></linearGradient><linearGradient id="gi26" gradientUnits="userSpaceOnUse" x1="410" y1="0" x2="482" y2="0"><stop offset="0.000" stop-color="#4f6ef7"/><stop offset="0.111" stop-color="#4c69f1"/><stop offset="0.222" stop-color="#4964ec"/><stop offset="0.333" stop-color="#475fe8"/><stop offset="0.444" stop-color="#455ae6"/><stop offset="0.556" stop-color="#4255e1"/><stop offset="0.667" stop-color="#3d4dd4"/><stop offset="0.778" stop-color="#2c3692"/><stop offset="0.889" stop-color="#101124"/><stop offset="1.000" stop-color="#000000"/></linearGradient><linearGradient id="gi27" gradientUnits="userSpaceOnUse" x1="410" y1="0" x2="482" y2="0"><stop offset="0.000" stop-color="#4f6df9"/><stop offset="0.111" stop-color="#4d68f3"/><stop offset="0.222" stop-color="#4a63ee"/><stop offset="0.333" stop-color="#485eeb"/><stop offset="0.444" stop-color="#4659e9"/><stop offset="0.556" stop-color="#4354e3"/><stop offset="0.667" stop-color="#3c4ace"/><stop offset="0.778" stop-color="#2a338d"/><stop offset="0.889" stop-color="#111128"/><stop offset="1.000" stop-color="#000000"/></linearGradient><linearGradient id="gi28" gradientUnits="userSpaceOnUse" x1="410" y1="0" x2="482" y2="0"><stop offset="0.000" stop-color="#506cfb"/><stop offset="0.111" stop-color="#4d67f5"/><stop offset="0.222" stop-color="#4b62f1"/><stop offset="0.333" stop-color="#495dee"/><stop offset="0.444" stop-color="#4658ec"/><stop offset="0.556" stop-color="#4352e4"/><stop offset="0.667" stop-color="#3a47c9"/><stop offset="0.778" stop-color="#293188"/><stop offset="0.889" stop-color="#111129"/><stop offset="1.000" stop-color="#000000"/></linearGradient><linearGradient id="gi29" gradientUnits="userSpaceOnUse" x1="410" y1="0" x2="482" y2="0"><stop offset="0.000" stop-color="#506bfc"/><stop offset="0.111" stop-color="#4e66f6"/><stop offset="0.222" stop-color="#4b61f2"/><stop offset="0.333" stop-color="#495cf0"/><stop offset="0.444" stop-color="#4757ed"/><stop offset="0.556" stop-color="#4351e4"/><stop offset="0.667" stop-color="#3a45c6"/><stop offset="0.778" stop-color="#282f85"/><stop offset="0.889" stop-color="#101129"/><stop offset="1.000" stop-color="#000000"/></linearGradient><linearGradient id="gi30" gradientUnits="userSpaceOnUse" x1="410" y1="0" x2="482" y2="0"><stop offset="0.000" stop-color="#516afd"/><stop offset="0.111" stop-color="#4e65f7"/><stop offset="0.222" stop-color="#4c5ff3"/><stop offset="0.333" stop-color="#4a5bf1"/><stop offset="0.444" stop-color="#4756ee"/><stop offset="0.556" stop-color="#434fe4"/><stop offset="0.667" stop-color="#3943c5"/><stop offset="0.778" stop-color="#282d83"/><stop offset="0.889" stop-color="#101027"/><stop offset="1.000" stop-color="#000000"/></linearGradient><linearGradient id="gi31" gradientUnits="userSpaceOnUse" x1="410" y1="0" x2="482" y2="0"><stop offset="0.000" stop-color="#5169fe"/><stop offset="0.111" stop-color="#4f64f8"/><stop offset="0.222" stop-color="#4c5ef4"/><stop offset="0.333" stop-color="#4a5af1"/><stop offset="0.444" stop-color="#4755ee"/><stop offset="0.556" stop-color="#434ee5"/><stop offset="0.667" stop-color="#3a42c7"/><stop offset="0.778" stop-color="#282c83"/><stop offset="0.889" stop-color="#0f0f25"/><stop offset="1.000" stop-color="#000000"/></linearGradient><linearGradient id="gi32" gradientUnits="userSpaceOnUse" x1="410" y1="0" x2="482" y2="0"><stop offset="0.000" stop-color="#5268ff"/><stop offset="0.111" stop-color="#4f62f8"/><stop offset="0.222" stop-color="#4c5df3"/><stop offset="0.333" stop-color="#4a58f0"/><stop offset="0.444" stop-color="#4753ed"/><stop offset="0.556" stop-color="#434de6"/><stop offset="0.667" stop-color="#3b42cb"/><stop offset="0.778" stop-color="#282c85"/><stop offset="0.889" stop-color="#0e0e21"/><stop offset="1.000" stop-color="#000000"/></linearGradient><linearGradient id="gi33" gradientUnits="userSpaceOnUse" x1="410" y1="0" x2="482" y2="0"><stop offset="0.000" stop-color="#5267ff"/><stop offset="0.111" stop-color="#4f61f9"/><stop offset="0.222" stop-color="#4c5cf3"/><stop offset="0.333" stop-color="#4a56ee"/><stop offset="0.444" stop-color="#4752ec"/><stop offset="0.556" stop-color="#444ce7"/><stop offset="0.667" stop-color="#3c42d2"/><stop offset="0.778" stop-color="#292c8a"/><stop offset="0.889" stop-color="#0d0c1c"/><stop offset="1.000" stop-color="#000000"/></linearGradient><linearGradient id="gi34" gradientUnits="userSpaceOnUse" x1="410" y1="0" x2="482" y2="0"><stop offset="0.000" stop-color="#5366ff"/><stop offset="0.111" stop-color="#5060f9"/><stop offset="0.222" stop-color="#4d5bf2"/><stop offset="0.333" stop-color="#4a55ec"/><stop offset="0.444" stop-color="#4750ea"/><stop offset="0.556" stop-color="#444be8"/><stop offset="0.667" stop-color="#3e43d9"/><stop offset="0.778" stop-color="#2b2c91"/><stop offset="0.889" stop-color="#0c0b16"/><stop offset="1.000" stop-color="#000000"/></linearGradient><linearGradient id="gi35" gradientUnits="userSpaceOnUse" x1="410" y1="0" x2="482" y2="0"><stop offset="0.000" stop-color="#5465ff"/><stop offset="0.111" stop-color="#515ff9"/><stop offset="0.222" stop-color="#4d59f2"/><stop offset="0.333" stop-color="#4a54ec"/><stop offset="0.444" stop-color="#474fe8"/><stop offset="0.556" stop-color="#454ae7"/><stop offset="0.667" stop-color="#4042dc"/><stop offset="0.778" stop-color="#2d2d96"/><stop offset="0.889" stop-color="#0c0a14"/><stop offset="1.000" stop-color="#000000"/></linearGradient><linearGradient id="gi36" gradientUnits="userSpaceOnUse" x1="410" y1="0" x2="482" y2="0"><stop offset="0.000" stop-color="#5564ff"/><stop offset="0.111" stop-color="#515ff9"/><stop offset="0.222" stop-color="#4e59f2"/><stop offset="0.333" stop-color="#4b53ec"/><stop offset="0.444" stop-color="#484ee9"/><stop offset="0.556" stop-color="#4549e7"/><stop offset="0.667" stop-color="#3f40d9"/><stop offset="0.778" stop-color="#2c2b92"/><stop offset="0.889" stop-color="#0e0b1a"/><stop offset="1.000" stop-color="#000000"/></linearGradient><linearGradient id="gi37" gradientUnits="userSpaceOnUse" x1="410" y1="0" x2="482" y2="0"><stop offset="0.000" stop-color="#5564ff"/><stop offset="0.111" stop-color="#525efa"/><stop offset="0.222" stop-color="#4f58f3"/><stop offset="0.333" stop-color="#4c52ee"/><stop offset="0.444" stop-color="#494deb"/><stop offset="0.556" stop-color="#4548e6"/><stop offset="0.667" stop-color="#3e3ed1"/><stop offset="0.778" stop-color="#2c298d"/><stop offset="0.889" stop-color="#120c25"/><stop offset="1.000" stop-color="#000000"/></linearGradient><linearGradient id="gi38" gradientUnits="userSpaceOnUse" x1="410" y1="0" x2="482" y2="0"><stop offset="0.000" stop-color="#5663ff"/><stop offset="0.111" stop-color="#535dfb"/><stop offset="0.222" stop-color="#5057f4"/><stop offset="0.333" stop-color="#4d52ef"/><stop offset="0.444" stop-color="#4a4cec"/><stop offset="0.556" stop-color="#4646e4"/><stop offset="0.667" stop-color="#3d3bca"/><stop offset="0.778" stop-color="#2c2889"/><stop offset="0.889" stop-color="#150d2e"/><stop offset="1.000" stop-color="#000000"/></linearGradient><linearGradient id="gi39" gradientUnits="userSpaceOnUse" x1="410" y1="0" x2="482" y2="0"><stop offset="0.000" stop-color="#5762ff"/><stop offset="0.111" stop-color="#545cfb"/><stop offset="0.222" stop-color="#5156f5"/><stop offset="0.333" stop-color="#4e51f0"/><stop offset="0.444" stop-color="#4b4cec"/><stop offset="0.556" stop-color="#4645e2"/><stop offset="0.667" stop-color="#3d39c5"/><stop offset="0.778" stop-color="#2d2788"/><stop offset="0.889" stop-color="#180e35"/><stop offset="1.000" stop-color="#040000"/></linearGradient><linearGradient id="gi40" gradientUnits="userSpaceOnUse" x1="410" y1="0" x2="482" y2="0"><stop offset="0.000" stop-color="#5861ff"/><stop offset="0.111" stop-color="#555bfb"/><stop offset="0.222" stop-color="#5256f5"/><stop offset="0.333" stop-color="#4f50f1"/><stop offset="0.444" stop-color="#4c4bec"/><stop offset="0.556" stop-color="#4743e0"/><stop offset="0.667" stop-color="#3e38c1"/><stop offset="0.778" stop-color="#2f2688"/><stop offset="0.889" stop-color="#1b0f3c"/><stop offset="1.000" stop-color="#080000"/></linearGradient><linearGradient id="gi41" gradientUnits="userSpaceOnUse" x1="410" y1="0" x2="482" y2="0"><stop offset="0.000" stop-color="#5a60ff"/><stop offset="0.111" stop-color="#575afb"/><stop offset="0.222" stop-color="#5455f5"/><stop offset="0.333" stop-color="#514ff0"/><stop offset="0.444" stop-color="#4d49ec"/><stop offset="0.556" stop-color="#4842df"/><stop offset="0.667" stop-color="#3f36c0"/><stop offset="0.778" stop-color="#302589"/><stop offset="0.889" stop-color="#1e0f42"/><stop offset="1.000" stop-color="#0c0000"/></linearGradient><linearGradient id="gi42" gradientUnits="userSpaceOnUse" x1="410" y1="0" x2="482" y2="0"><stop offset="0.000" stop-color="#5b5fff"/><stop offset="0.111" stop-color="#5859fb"/><stop offset="0.222" stop-color="#5554f4"/><stop offset="0.333" stop-color="#524eef"/><stop offset="0.444" stop-color="#4f48ea"/><stop offset="0.556" stop-color="#4a41df"/><stop offset="0.667" stop-color="#4135c0"/><stop offset="0.778" stop-color="#33258b"/><stop offset="0.889" stop-color="#221047"/><stop offset="1.000" stop-color="#100000"/></linearGradient><linearGradient id="gi43" gradientUnits="userSpaceOnUse" x1="410" y1="0" x2="482" y2="0"><stop offset="0.000" stop-color="#5c5eff"/><stop offset="0.111" stop-color="#5958fa"/><stop offset="0.222" stop-color="#5753f3"/><stop offset="0.333" stop-color="#534ded"/><stop offset="0.444" stop-color="#5047e9"/><stop offset="0.556" stop-color="#4c40df"/><stop offset="0.667" stop-color="#4335c0"/><stop offset="0.778" stop-color="#35258c"/><stop offset="0.889" stop-color="#25104b"/><stop offset="1.000" stop-color="#140006"/></linearGradient><linearGradient id="gi44" gradientUnits="userSpaceOnUse" x1="410" y1="0" x2="482" y2="0"><stop offset="0.000" stop-color="#5e5dff"/><stop offset="0.111" stop-color="#5b57fa"/><stop offset="0.222" stop-color="#5851f2"/><stop offset="0.333" stop-color="#554ceb"/><stop offset="0.444" stop-color="#5246e6"/><stop offset="0.556" stop-color="#4e3fe0"/><stop offset="0.667" stop-color="#4534c1"/><stop offset="0.778" stop-color="#38248d"/><stop offset="0.889" stop-color="#28104f"/><stop offset="1.000" stop-color="#18000c"/></linearGradient><linearGradient id="gi45" gradientUnits="userSpaceOnUse" x1="410" y1="0" x2="482" y2="0"><stop offset="0.000" stop-color="#5f5cff"/><stop offset="0.111" stop-color="#5d56f9"/><stop offset="0.222" stop-color="#5a50f1"/><stop offset="0.333" stop-color="#574ae9"/><stop offset="0.444" stop-color="#5444e4"/><stop offset="0.556" stop-color="#513edf"/><stop offset="0.667" stop-color="#4733c0"/><stop offset="0.778" stop-color="#3a248d"/><stop offset="0.889" stop-color="#2b1051"/><stop offset="1.000" stop-color="#1b0011"/></linearGradient><linearGradient id="gi46" gradientUnits="userSpaceOnUse" x1="410" y1="0" x2="482" y2="0"><stop offset="0.000" stop-color="#615aff"/><stop offset="0.111" stop-color="#5f55f9"/><stop offset="0.222" stop-color="#5c4ff1"/><stop offset="0.333" stop-color="#5a49e8"/><stop offset="0.444" stop-color="#5743e2"/><stop offset="0.556" stop-color="#533cdb"/><stop offset="0.667" stop-color="#4a32bc"/><stop offset="0.778" stop-color="#3d238b"/><stop offset="0.889" stop-color="#2f1052"/><stop offset="1.000" stop-color="#1f0014"/></linearGradient><linearGradient id="gi47" gradientUnits="userSpaceOnUse" x1="410" y1="0" x2="482" y2="0"><stop offset="0.000" stop-color="#6259ff"/><stop offset="0.111" stop-color="#6153f8"/><stop offset="0.222" stop-color="#5f4ef0"/><stop offset="0.333" stop-color="#5d48e8"/><stop offset="0.444" stop-color="#5a42e1"/><stop offset="0.556" stop-color="#553ad5"/><stop offset="0.667" stop-color="#4c30b7"/><stop offset="0.778" stop-color="#402189"/><stop offset="0.889" stop-color="#320f53"/><stop offset="1.000" stop-color="#230017"/></linearGradient><linearGradient id="gi48" gradientUnits="userSpaceOnUse" x1="410" y1="0" x2="482" y2="0"><stop offset="0.000" stop-color="#6457ff"/><stop offset="0.111" stop-color="#6352f7"/><stop offset="0.222" stop-color="#624cf0"/><stop offset="0.333" stop-color="#6046e8"/><stop offset="0.444" stop-color="#5d40df"/><stop offset="0.556" stop-color="#5838d0"/><stop offset="0.667" stop-color="#4f2eb2"/><stop offset="0.778" stop-color="#431f87"/><stop offset="0.889" stop-color="#350d53"/><stop offset="1.000" stop-color="#270019"/></linearGradient><linearGradient id="gi49" gradientUnits="userSpaceOnUse" x1="410" y1="0" x2="482" y2="0"><stop offset="0.000" stop-color="#6556fe"/><stop offset="0.111" stop-color="#6550f6"/><stop offset="0.222" stop-color="#644bef"/><stop offset="0.333" stop-color="#6345e7"/><stop offset="0.444" stop-color="#603edc"/><stop offset="0.556" stop-color="#5b36cb"/><stop offset="0.667" stop-color="#522cae"/><stop offset="0.778" stop-color="#461d84"/><stop offset="0.889" stop-color="#390c52"/><stop offset="1.000" stop-color="#2a001b"/></linearGradient><linearGradient id="gi50" gradientUnits="userSpaceOnUse" x1="410" y1="0" x2="482" y2="0"><stop offset="0.000" stop-color="#6754fc"/><stop offset="0.111" stop-color="#674ef5"/><stop offset="0.222" stop-color="#6749ee"/><stop offset="0.333" stop-color="#6643e5"/><stop offset="0.444" stop-color="#643cda"/><stop offset="0.556" stop-color="#5e34c7"/><stop offset="0.667" stop-color="#5529aa"/><stop offset="0.778" stop-color="#4a1b81"/><stop offset="0.889" stop-color="#3c0a51"/><stop offset="1.000" stop-color="#2e001b"/></linearGradient><linearGradient id="gi51" gradientUnits="userSpaceOnUse" x1="410" y1="0" x2="482" y2="0"><stop offset="0.000" stop-color="#6852fa"/><stop offset="0.111" stop-color="#684cf3"/><stop offset="0.222" stop-color="#6947ec"/><stop offset="0.333" stop-color="#6941e3"/><stop offset="0.444" stop-color="#673ad7"/><stop offset="0.556" stop-color="#6131c3"/><stop offset="0.667" stop-color="#5826a5"/><stop offset="0.778" stop-color="#4d187e"/><stop offset="0.889" stop-color="#40084f"/><stop offset="1.000" stop-color="#31001b"/></linearGradient><linearGradient id="gi52" gradientUnits="userSpaceOnUse" x1="410" y1="0" x2="482" y2="0"><stop offset="0.000" stop-color="#6950f8"/><stop offset="0.111" stop-color="#6a4af1"/><stop offset="0.222" stop-color="#6b45ea"/><stop offset="0.333" stop-color="#6c3fe1"/><stop offset="0.444" stop-color="#6a38d4"/><stop offset="0.556" stop-color="#652fbf"/><stop offset="0.667" stop-color="#5c24a1"/><stop offset="0.778" stop-color="#50167b"/><stop offset="0.889" stop-color="#43054d"/><stop offset="1.000" stop-color="#35001a"/></linearGradient><linearGradient id="gi53" gradientUnits="userSpaceOnUse" x1="410" y1="0" x2="482" y2="0"><stop offset="0.000" stop-color="#6a4df5"/><stop offset="0.111" stop-color="#6b48ee"/><stop offset="0.222" stop-color="#6d42e6"/><stop offset="0.333" stop-color="#6f3cde"/><stop offset="0.444" stop-color="#6d35d1"/><stop offset="0.556" stop-color="#682cbb"/><stop offset="0.667" stop-color="#5e219d"/><stop offset="0.778" stop-color="#531377"/><stop offset="0.889" stop-color="#46034a"/><stop offset="1.000" stop-color="#380019"/></linearGradient><linearGradient id="gi54" gradientUnits="userSpaceOnUse" x1="410" y1="0" x2="482" y2="0"><stop offset="0.000" stop-color="#6a4bf2"/><stop offset="0.111" stop-color="#6b45ea"/><stop offset="0.222" stop-color="#6e40e3"/><stop offset="0.333" stop-color="#703ada"/><stop offset="0.444" stop-color="#7032cd"/><stop offset="0.556" stop-color="#6a29b6"/><stop offset="0.667" stop-color="#611e98"/><stop offset="0.778" stop-color="#551073"/><stop offset="0.889" stop-color="#480047"/><stop offset="1.000" stop-color="#3b0017"/></linearGradient><linearGradient id="gi55" gradientUnits="userSpaceOnUse" x1="410" y1="0" x2="482" y2="0"><stop offset="0.000" stop-color="#6b48ee"/><stop offset="0.111" stop-color="#6c42e5"/><stop offset="0.222" stop-color="#6e3dde"/><stop offset="0.333" stop-color="#7237d6"/><stop offset="0.444" stop-color="#722fc8"/><stop offset="0.556" stop-color="#6c26b1"/><stop offset="0.667" stop-color="#621a93"/><stop offset="0.778" stop-color="#570d6e"/><stop offset="0.889" stop-color="#4b0044"/><stop offset="1.000" stop-color="#3d0015"/></linearGradient><linearGradient id="gi56" gradientUnits="userSpaceOnUse" x1="410" y1="0" x2="482" y2="0"><stop offset="0.000" stop-color="#6b46ea"/><stop offset="0.111" stop-color="#6b40e1"/><stop offset="0.222" stop-color="#6e3ad9"/><stop offset="0.333" stop-color="#7234d0"/><stop offset="0.444" stop-color="#722cc2"/><stop offset="0.556" stop-color="#6c22ab"/><stop offset="0.667" stop-color="#64178d"/><stop offset="0.778" stop-color="#590969"/><stop offset="0.889" stop-color="#4d0040"/><stop offset="1.000" stop-color="#3f0012"/></linearGradient><linearGradient id="gi57" gradientUnits="userSpaceOnUse" x1="410" y1="0" x2="482" y2="0"><stop offset="0.000" stop-color="#6b43e6"/><stop offset="0.111" stop-color="#6b3ddc"/><stop offset="0.222" stop-color="#6e37d3"/><stop offset="0.333" stop-color="#7130ca"/><stop offset="0.444" stop-color="#7129bb"/><stop offset="0.556" stop-color="#6d1fa4"/><stop offset="0.667" stop-color="#641387"/><stop offset="0.778" stop-color="#5a0664"/><stop offset="0.889" stop-color="#4e003c"/><stop offset="1.000" stop-color="#41000f"/></linearGradient><linearGradient id="gi58" gradientUnits="userSpaceOnUse" x1="410" y1="0" x2="482" y2="0"><stop offset="0.000" stop-color="#6c40e2"/><stop offset="0.111" stop-color="#6c3ad7"/><stop offset="0.222" stop-color="#6e33ce"/><stop offset="0.333" stop-color="#712dc3"/><stop offset="0.444" stop-color="#7125b4"/><stop offset="0.556" stop-color="#6c1b9d"/><stop offset="0.667" stop-color="#651081"/><stop offset="0.778" stop-color="#5b035e"/><stop offset="0.889" stop-color="#4f0037"/><stop offset="1.000" stop-color="#43000c"/></linearGradient><linearGradient id="gi59" gradientUnits="userSpaceOnUse" x1="410" y1="0" x2="482" y2="0"><stop offset="0.000" stop-color="#6d3ddf"/><stop offset="0.111" stop-color="#6c37d3"/><stop offset="0.222" stop-color="#6e30c8"/><stop offset="0.333" stop-color="#7029bd"/><stop offset="0.444" stop-color="#7021ac"/><stop offset="0.556" stop-color="#6c1896"/><stop offset="0.667" stop-color="#650c7a"/><stop offset="0.778" stop-color="#5b0058"/><stop offset="0.889" stop-color="#500032"/><stop offset="1.000" stop-color="#440007"/></linearGradient><linearGradient id="gi60" gradientUnits="userSpaceOnUse" x1="410" y1="0" x2="482" y2="0"><stop offset="0.000" stop-color="#6e3bdb"/><stop offset="0.111" stop-color="#6d34cf"/><stop offset="0.222" stop-color="#6e2dc3"/><stop offset="0.333" stop-color="#7026b6"/><stop offset="0.444" stop-color="#6f1ea5"/><stop offset="0.556" stop-color="#6b148f"/><stop offset="0.667" stop-color="#640873"/><stop offset="0.778" stop-color="#5b0052"/><stop offset="0.889" stop-color="#51002d"/><stop offset="1.000" stop-color="#450003"/></linearGradient><linearGradient id="gi61" gradientUnits="userSpaceOnUse" x1="410" y1="0" x2="482" y2="0"><stop offset="0.000" stop-color="#6f38d8"/><stop offset="0.111" stop-color="#6e31cb"/><stop offset="0.222" stop-color="#6f2abe"/><stop offset="0.333" stop-color="#6f23b0"/><stop offset="0.444" stop-color="#6e1a9e"/><stop offset="0.556" stop-color="#6a1088"/><stop offset="0.667" stop-color="#64056c"/><stop offset="0.778" stop-color="#5b004c"/><stop offset="0.889" stop-color="#510027"/><stop offset="1.000" stop-color="#460000"/></linearGradient><linearGradient id="gi62" gradientUnits="userSpaceOnUse" x1="410" y1="0" x2="482" y2="0"><stop offset="0.000" stop-color="#7035d4"/><stop offset="0.111" stop-color="#6f2ec7"/><stop offset="0.222" stop-color="#6f27b9"/><stop offset="0.333" stop-color="#6f1faa"/><stop offset="0.444" stop-color="#6d1697"/><stop offset="0.556" stop-color="#6a0c81"/><stop offset="0.667" stop-color="#630165"/><stop offset="0.778" stop-color="#5b0045"/><stop offset="0.889" stop-color="#510021"/><stop offset="1.000" stop-color="#460000"/></linearGradient><linearGradient id="gi63" gradientUnits="userSpaceOnUse" x1="410" y1="0" x2="482" y2="0"><stop offset="0.000" stop-color="#7132d0"/><stop offset="0.111" stop-color="#702bc3"/><stop offset="0.222" stop-color="#7024b4"/><stop offset="0.333" stop-color="#6f1ca4"/><stop offset="0.444" stop-color="#6d1390"/><stop offset="0.556" stop-color="#690879"/><stop offset="0.667" stop-color="#63005e"/><stop offset="0.778" stop-color="#5b003f"/><stop offset="0.889" stop-color="#51001b"/><stop offset="1.000" stop-color="#470000"/></linearGradient><linearGradient id="gi64" gradientUnits="userSpaceOnUse" x1="410" y1="0" x2="482" y2="0"><stop offset="0.000" stop-color="#722fcc"/><stop offset="0.111" stop-color="#7128be"/><stop offset="0.222" stop-color="#7020af"/><stop offset="0.333" stop-color="#6f189e"/><stop offset="0.444" stop-color="#6c0f8a"/><stop offset="0.556" stop-color="#680572"/><stop offset="0.667" stop-color="#620057"/><stop offset="0.778" stop-color="#5b0038"/><stop offset="0.889" stop-color="#510015"/><stop offset="1.000" stop-color="#470000"/></linearGradient><linearGradient id="gi65" gradientUnits="userSpaceOnUse" x1="410" y1="0" x2="482" y2="0"><stop offset="0.000" stop-color="#732cc8"/><stop offset="0.111" stop-color="#7225b9"/><stop offset="0.222" stop-color="#701da9"/><stop offset="0.333" stop-color="#6e1497"/><stop offset="0.444" stop-color="#6c0b83"/><stop offset="0.556" stop-color="#67016b"/><stop offset="0.667" stop-color="#620050"/><stop offset="0.778" stop-color="#5a0031"/><stop offset="0.889" stop-color="#51000f"/><stop offset="1.000" stop-color="#470000"/></linearGradient><linearGradient id="gi66" gradientUnits="userSpaceOnUse" x1="410" y1="0" x2="482" y2="0"><stop offset="0.000" stop-color="#7429c3"/><stop offset="0.111" stop-color="#7221b4"/><stop offset="0.222" stop-color="#7119a3"/><stop offset="0.333" stop-color="#6e1191"/><stop offset="0.444" stop-color="#6b077c"/><stop offset="0.556" stop-color="#670064"/><stop offset="0.667" stop-color="#610049"/><stop offset="0.778" stop-color="#5a002b"/><stop offset="0.889" stop-color="#510009"/><stop offset="1.000" stop-color="#470000"/></linearGradient><linearGradient id="gi67" gradientUnits="userSpaceOnUse" x1="410" y1="0" x2="482" y2="0"><stop offset="0.000" stop-color="#7526be"/><stop offset="0.111" stop-color="#731eae"/><stop offset="0.222" stop-color="#71169d"/><stop offset="0.333" stop-color="#6e0d8a"/><stop offset="0.444" stop-color="#6b0375"/><stop offset="0.556" stop-color="#66005d"/><stop offset="0.667" stop-color="#600042"/><stop offset="0.778" stop-color="#590024"/><stop offset="0.889" stop-color="#510003"/><stop offset="1.000" stop-color="#470000"/></linearGradient><linearGradient id="gi68" gradientUnits="userSpaceOnUse" x1="410" y1="0" x2="482" y2="0"><stop offset="0.000" stop-color="#7522b8"/><stop offset="0.111" stop-color="#731aa8"/><stop offset="0.222" stop-color="#711297"/><stop offset="0.333" stop-color="#6e0984"/><stop offset="0.444" stop-color="#6a006e"/><stop offset="0.556" stop-color="#660056"/><stop offset="0.667" stop-color="#60003b"/><stop offset="0.778" stop-color="#59001d"/><stop offset="0.889" stop-color="#510000"/><stop offset="1.000" stop-color="#470000"/></linearGradient><linearGradient id="gi69" gradientUnits="userSpaceOnUse" x1="410" y1="0" x2="482" y2="0"><stop offset="0.000" stop-color="#761eb2"/><stop offset="0.111" stop-color="#7316a2"/><stop offset="0.222" stop-color="#710e90"/><stop offset="0.333" stop-color="#6e057d"/><stop offset="0.444" stop-color="#6a0067"/><stop offset="0.556" stop-color="#65004f"/><stop offset="0.667" stop-color="#5f0034"/><stop offset="0.778" stop-color="#580017"/><stop offset="0.889" stop-color="#500000"/><stop offset="1.000" stop-color="#470000"/></linearGradient><linearGradient id="gi70" gradientUnits="userSpaceOnUse" x1="410" y1="0" x2="482" y2="0"><stop offset="0.000" stop-color="#761aab"/><stop offset="0.111" stop-color="#73129b"/><stop offset="0.222" stop-color="#710a89"/><stop offset="0.333" stop-color="#6d0176"/><stop offset="0.444" stop-color="#690060"/><stop offset="0.556" stop-color="#650048"/><stop offset="0.667" stop-color="#5f002d"/><stop offset="0.778" stop-color="#580010"/><stop offset="0.889" stop-color="#500000"/><stop offset="1.000" stop-color="#470000"/></linearGradient><linearGradient id="gi71" gradientUnits="userSpaceOnUse" x1="410" y1="0" x2="482" y2="0"><stop offset="0.000" stop-color="#7616a4"/><stop offset="0.111" stop-color="#730e94"/><stop offset="0.222" stop-color="#700683"/><stop offset="0.333" stop-color="#6d006f"/><stop offset="0.444" stop-color="#690059"/><stop offset="0.556" stop-color="#640041"/><stop offset="0.667" stop-color="#5e0026"/><stop offset="0.778" stop-color="#570009"/><stop offset="0.889" stop-color="#500000"/><stop offset="1.000" stop-color="#470000"/></linearGradient><linearGradient id="gi72" gradientUnits="userSpaceOnUse" x1="410" y1="0" x2="482" y2="0"><stop offset="0.000" stop-color="#76129d"/><stop offset="0.111" stop-color="#730a8d"/><stop offset="0.222" stop-color="#70027c"/><stop offset="0.333" stop-color="#6d0068"/><stop offset="0.444" stop-color="#680052"/><stop offset="0.556" stop-color="#64003a"/><stop offset="0.667" stop-color="#5e001f"/><stop offset="0.778" stop-color="#570002"/><stop offset="0.889" stop-color="#4f0000"/><stop offset="1.000" stop-color="#470000"/></linearGradient><linearGradient id="gi73" gradientUnits="userSpaceOnUse" x1="410" y1="0" x2="482" y2="0"><stop offset="0.000" stop-color="#750e96"/><stop offset="0.111" stop-color="#730786"/><stop offset="0.222" stop-color="#700075"/><stop offset="0.333" stop-color="#6c0061"/><stop offset="0.444" stop-color="#68004b"/><stop offset="0.556" stop-color="#630033"/><stop offset="0.667" stop-color="#5d0018"/><stop offset="0.778" stop-color="#560000"/><stop offset="0.889" stop-color="#4f0000"/><stop offset="1.000" stop-color="#460000"/></linearGradient><linearGradient id="gi74" gradientUnits="userSpaceOnUse" x1="410" y1="0" x2="482" y2="0"><stop offset="0.000" stop-color="#750a8f"/><stop offset="0.111" stop-color="#73037f"/><stop offset="0.222" stop-color="#70006e"/><stop offset="0.333" stop-color="#6c005a"/><stop offset="0.444" stop-color="#680044"/><stop offset="0.556" stop-color="#62002c"/><stop offset="0.667" stop-color="#5d0012"/><stop offset="0.778" stop-color="#560000"/><stop offset="0.889" stop-color="#4e0000"/><stop offset="1.000" stop-color="#460000"/></linearGradient><linearGradient id="gi75" gradientUnits="userSpaceOnUse" x1="410" y1="0" x2="482" y2="0"><stop offset="0.000" stop-color="#750689"/><stop offset="0.111" stop-color="#730079"/><stop offset="0.222" stop-color="#6f0067"/><stop offset="0.333" stop-color="#6b0053"/><stop offset="0.444" stop-color="#67003d"/><stop offset="0.556" stop-color="#620025"/><stop offset="0.667" stop-color="#5c000b"/><stop offset="0.778" stop-color="#550000"/><stop offset="0.889" stop-color="#4e0000"/><stop offset="1.000" stop-color="#460000"/></linearGradient><linearGradient id="gi76" gradientUnits="userSpaceOnUse" x1="410" y1="0" x2="482" y2="0"><stop offset="0.000" stop-color="#750383"/><stop offset="0.111" stop-color="#720072"/><stop offset="0.222" stop-color="#6f0060"/><stop offset="0.333" stop-color="#6b004c"/><stop offset="0.444" stop-color="#670036"/><stop offset="0.556" stop-color="#62001e"/><stop offset="0.667" stop-color="#5c0004"/><stop offset="0.778" stop-color="#550000"/><stop offset="0.889" stop-color="#4e0000"/><stop offset="1.000" stop-color="#460000"/></linearGradient><clipPath id="ci"><path d="M418.3,177.5 C418.5,178.7 418.9,181.1 419.6,184.6 C420.3,188.1 421.8,194.1 422.7,198.5 C423.6,202.9 423.9,206.8 424.8,211.0 C425.7,215.2 427.3,219.3 428.3,223.5 C429.3,227.7 430.1,231.7 431.0,236.0 C431.9,240.3 432.9,244.9 433.8,249.2 C434.6,253.5 435.3,257.7 436.0,262.0 C436.7,266.3 437.4,270.7 438.0,275.0 C438.6,279.3 439.1,283.7 439.5,288.0 C439.9,292.3 440.2,296.7 440.5,301.0 C440.8,305.3 440.9,309.7 441.0,314.0 C441.1,318.3 441.0,324.8 441.0,327.0 L468.3,330.0 C468.4,328.3 468.9,323.3 469.2,320.0 C469.4,316.7 469.5,314.2 469.8,310.0 C470.1,305.8 470.5,300.0 470.8,295.0 C471.1,290.0 471.6,285.5 471.7,280.0 C471.8,274.5 471.9,267.6 471.7,262.0 C471.5,256.4 471.2,252.0 470.6,246.7 C470.0,241.4 469.1,235.0 468.3,230.0 C467.5,225.0 466.8,221.7 465.8,216.7 C464.8,211.7 463.8,205.6 462.5,200.0 C461.2,194.4 459.6,188.3 458.3,183.3 C457.1,178.3 456.1,173.6 455.0,170.0 C453.9,166.4 452.5,162.9 452.0,161.5 Z"/></clipPath><pattern id="stripes" patternUnits="userSpaceOnUse" width="40" height="6" patternTransform="rotate(18)"><rect x="0" y="0" width="40" height="2" fill="#ffffff" opacity="0.08"/><rect x="0" y="3.2" width="40" height="1.6" fill="#0a2040" opacity="0.06"/></pattern><linearGradient id="sfade" x1="0" y1="0" x2="0" y2="1"><stop offset="0" stop-color="#fff"/><stop offset="0.45" stop-color="#fff"/><stop offset="0.75" stop-color="#fff" stop-opacity="0"/></linearGradient><mask id="smask"><rect x="170" y="170" width="300" height="300" fill="url(#sfade)"/></mask><clipPath id="cfe"><path d="M181.0,259.0 C180.0,258.0 177.2,255.8 175.0,253.0 C172.8,250.2 170.2,246.3 168.0,242.0 C165.8,237.7 164.0,232.0 162.0,227.0 C160.0,222.0 157.8,217.0 156.0,212.0 C154.2,207.0 152.5,202.2 151.0,197.0 C149.5,191.8 147.9,186.3 147.0,181.0 C146.1,175.7 145.6,170.2 145.5,165.0 C145.4,159.8 145.8,154.6 146.5,150.0 C147.2,145.4 148.6,141.2 150.0,137.5 C151.4,133.8 153.0,130.5 155.0,127.5 C157.0,124.5 159.3,122.2 162.0,119.5 C164.7,116.8 167.2,114.4 171.0,111.5 C174.8,108.6 180.2,104.9 185.0,102.0 C189.8,99.1 193.9,97.1 200.0,94.0 C206.1,90.9 215.0,86.5 221.7,83.5 C228.4,80.5 232.3,79.1 240.0,76.0 C247.7,72.9 259.3,68.2 267.6,64.8 C275.9,61.4 281.1,59.2 290.0,55.5 C298.9,51.8 315.8,44.7 321.0,42.5 L321.0,42.5 C322.5,43.6 326.8,46.1 330.0,49.0 C333.2,51.9 336.9,56.5 340.0,60.0 C343.1,63.5 345.5,66.4 348.3,70.0 C351.1,73.6 354.2,78.4 356.7,81.7 C359.2,85.0 360.8,86.7 363.3,90.0 C365.8,93.3 368.9,97.8 371.7,101.7 C374.5,105.6 377.2,109.1 380.0,113.3 C382.8,117.5 385.8,122.5 388.3,126.7 C390.8,130.9 392.6,134.8 395.0,138.3 C397.4,141.8 400.6,144.6 402.9,147.9 C405.2,151.2 407.1,154.6 409.0,158.0 C410.9,161.4 412.9,165.1 414.5,168.3 C416.1,171.6 417.7,176.0 418.3,177.5 L418.3,177.5 C418.5,178.7 418.9,181.1 419.6,184.6 C420.3,188.1 421.8,194.1 422.7,198.5 C423.6,202.9 423.9,206.8 424.8,211.0 C425.7,215.2 427.3,219.3 428.3,223.5 C429.3,227.7 430.1,231.7 431.0,236.0 C431.9,240.3 432.9,244.9 433.8,249.2 C434.6,253.5 435.3,257.7 436.0,262.0 C436.7,266.3 437.4,270.7 438.0,275.0 C438.6,279.3 439.1,283.7 439.5,288.0 C439.9,292.3 440.2,296.7 440.5,301.0 C440.8,305.3 440.9,309.7 441.0,314.0 C441.1,318.3 441.0,324.8 441.0,327.0 L468.3,330.0 C467.9,332.5 467.1,340.3 465.8,345.0 C464.6,349.7 462.9,354.1 460.8,358.3 C458.7,362.6 456.2,366.6 453.3,370.5 C450.4,374.4 446.6,377.9 443.5,381.5 C440.4,385.1 437.8,388.4 434.7,392.0 C431.6,395.6 428.2,399.3 425.0,402.9 C421.8,406.4 418.7,410.2 415.6,413.3 C412.5,416.4 409.7,418.7 406.2,421.7 C402.8,424.7 398.9,428.2 395.0,431.5 C391.1,434.8 387.0,438.1 383.0,441.5 C379.0,444.9 375.0,448.2 371.0,452.0 C367.0,455.8 361.0,462.0 359.0,464.0 L359.0,464.0 C355.8,460.8 346.5,451.5 340.0,445.0 C333.5,438.5 326.9,432.3 320.0,425.0 C313.1,417.7 305.0,408.5 298.5,401.3 C292.0,394.1 286.3,388.4 281.0,382.0 C275.7,375.6 272.1,369.7 266.6,363.0 C261.1,356.3 253.3,347.7 248.0,342.0 C242.7,336.3 240.2,334.3 235.0,329.0 C229.8,323.7 222.4,317.0 216.7,310.4 C211.0,303.8 205.4,295.5 201.0,289.4 C196.6,283.3 193.3,279.1 190.0,274.0 C186.7,268.9 182.5,261.5 181.0,259.0 Z"/></clipPath><clipPath id="cp"><path d="M186.5,265.0 C184.6,265.9 178.6,268.3 175.0,270.7 C171.4,273.1 167.5,276.3 164.8,279.5 C162.1,282.7 160.4,286.1 159.0,289.7 C157.6,293.3 156.7,296.6 156.3,301.0 C155.9,305.4 155.7,311.0 156.5,316.0 C157.3,321.0 158.8,325.8 161.0,331.0 C163.2,336.2 166.3,341.8 170.0,347.0 C173.7,352.2 178.3,357.3 183.0,362.0 C187.7,366.7 192.9,371.1 198.0,375.0 C203.1,378.9 211.2,383.6 213.8,385.3 L359,464 L359.0,464.0 C355.8,460.8 346.5,451.5 340.0,445.0 C333.5,438.5 326.9,432.3 320.0,425.0 C313.1,417.7 305.0,408.5 298.5,401.3 C292.0,394.1 286.3,388.4 281.0,382.0 C275.7,375.6 272.1,369.7 266.6,363.0 C261.1,356.3 253.3,347.7 248.0,342.0 C242.7,336.3 240.2,334.3 235.0,329.0 C229.8,323.7 222.4,317.0 216.7,310.4 C211.0,303.8 205.4,295.5 201.0,289.4 C196.6,283.3 193.3,279.1 190.0,274.0 C186.7,268.9 182.5,261.5 181.0,259.0 Z"/></clipPath><linearGradient id="cbg" x1="0" y1="0" x2="0" y2="1"><stop offset="0" stop-color="#dc3030"/><stop offset="0.12" stop-color="#e0603a"/><stop offset="0.25" stop-color="#e28c3c"/><stop offset="0.38" stop-color="#d5ae42"/><stop offset="0.5" stop-color="#a9bb50"/><stop offset="0.6" stop-color="#6db58a"/><stop offset="0.7" stop-color="#48a6b4"/><stop offset="0.8" stop-color="#3b7ad4"/><stop offset="0.9" stop-color="#4540c8"/><stop offset="1" stop-color="#6a14a6"/></linearGradient></defs>
<line x1="57.5" y1="143" x2="321" y2="41" stroke="#8a8a8a" stroke-width="0.9" opacity="1"/><line x1="321" y1="41" x2="609" y2="127" stroke="#8a8a8a" stroke-width="0.9" opacity="1"/><line x1="609" y1="127" x2="592" y2="292" stroke="#8a8a8a" stroke-width="0.9" opacity="1"/><line x1="321.5" y1="189" x2="592" y2="292" stroke="#8a8a8a" stroke-width="0.9" opacity="1"/><line x1="77" y1="311" x2="321.5" y2="189" stroke="#8a8a8a" stroke-width="0.9" opacity="1"/><line x1="57.5" y1="143" x2="363" y2="272" stroke="#8a8a8a" stroke-width="0.9" opacity="1"/><line x1="609" y1="127" x2="363" y2="272" stroke="#8a8a8a" stroke-width="0.9" opacity="1"/><path d="M185.0,260.5 C183.7,260.8 179.7,261.5 177.0,262.5 C174.3,263.5 171.5,265.0 169.0,266.3 C166.5,267.6 163.9,269.1 162.0,270.5 C160.1,271.9 159.0,273.2 157.5,275.0 C156.0,276.8 154.2,279.0 153.0,281.0 C151.8,283.0 151.0,284.8 150.2,287.0 C149.4,289.2 148.7,291.7 148.2,294.0 C147.7,296.3 147.5,298.2 147.4,301.0 C147.3,303.8 147.5,307.0 147.8,311.0 C148.2,315.0 148.2,320.2 149.5,325.0 C150.8,329.8 152.9,335.3 155.5,340.0 C158.1,344.7 161.2,348.7 165.0,353.0 C168.8,357.3 173.0,362.0 178.0,366.0 C183.0,370.0 189.0,373.8 195.0,377.0 C201.0,380.2 210.7,383.9 213.8,385.3 L216.3,385.3 C213.7,383.6 205.6,378.9 200.5,375.0 C195.4,371.1 190.2,366.7 185.5,362.0 C180.8,357.3 176.2,352.2 172.5,347.0 C168.8,341.8 165.8,336.2 163.5,331.0 C161.2,325.8 159.8,321.0 159.0,316.0 C158.2,311.0 158.4,305.4 158.8,301.0 C159.2,296.6 160.1,293.3 161.5,289.7 C162.9,286.1 164.6,282.7 167.3,279.5 C170.0,276.3 173.9,273.1 177.5,270.7 C181.1,268.3 187.1,265.9 189.0,265.0 Z" fill="#f0583c"/><path d="M186.5,265.0 C184.6,265.9 178.6,268.3 175.0,270.7 C171.4,273.1 167.5,276.3 164.8,279.5 C162.1,282.7 160.4,286.1 159.0,289.7 C157.6,293.3 156.7,296.6 156.3,301.0 C155.9,305.4 155.7,311.0 156.5,316.0 C157.3,321.0 158.8,325.8 161.0,331.0 C163.2,336.2 166.3,341.8 170.0,347.0 C173.7,352.2 178.3,357.3 183.0,362.0 C187.7,366.7 192.9,371.1 198.0,375.0 C203.1,378.9 211.2,383.6 213.8,385.3 L359,464 L362.0,464.0 C358.8,460.8 349.5,451.5 343.0,445.0 C336.5,438.5 329.9,432.3 323.0,425.0 C316.1,417.7 308.0,408.5 301.5,401.3 C295.0,394.1 289.3,388.4 284.0,382.0 C278.7,375.6 275.1,369.7 269.6,363.0 C264.1,356.3 256.3,347.7 251.0,342.0 C245.7,336.3 243.2,334.3 238.0,329.0 C232.8,323.7 225.4,317.0 219.7,310.4 C214.0,303.8 208.4,295.5 204.0,289.4 C199.6,283.3 196.3,279.1 193.0,274.0 C189.7,268.9 185.5,261.5 184.0,259.0 Z" fill="#831f9f"/><path d="M471.7,272.0 C472.1,273.5 473.2,278.0 474.0,281.0 C474.8,284.0 475.8,286.3 476.7,290.0 C477.6,293.7 478.7,299.1 479.2,303.3 C479.7,307.5 479.6,311.9 479.6,315.0 C479.6,318.1 479.4,319.5 479.2,322.0 C479.0,324.5 478.9,326.2 478.3,330.0 C477.7,333.8 477.1,340.3 475.8,345.0 C474.6,349.7 472.9,353.9 470.8,358.3 C468.7,362.8 465.9,367.5 463.3,371.7 C460.7,375.9 457.9,379.6 455.0,383.3 C452.1,387.0 448.8,390.6 446.0,394.0 C443.2,397.4 440.7,401.2 438.0,404.0 C435.3,406.8 431.3,409.7 430.0,410.8 L359,464 L356.5,464.0 C358.5,462.0 364.5,455.8 368.5,452.0 C372.5,448.2 376.5,444.9 380.5,441.5 C384.5,438.1 388.6,434.8 392.5,431.5 C396.4,428.2 400.3,424.7 403.8,421.7 C407.2,418.7 410.0,416.4 413.1,413.3 C416.2,410.2 419.3,406.4 422.5,402.9 C425.7,399.3 429.1,395.6 432.2,392.0 C435.3,388.4 437.9,385.1 441.0,381.5 C444.1,377.9 447.9,374.4 450.8,370.5 C453.7,366.6 456.2,362.6 458.3,358.3 C460.4,354.1 462.1,349.7 463.3,345.0 C464.6,340.3 465.2,334.2 465.8,330.0 C466.4,325.8 466.4,323.3 466.7,320.0 C466.9,316.7 467.0,314.2 467.3,310.0 C467.6,305.8 468.0,300.0 468.3,295.0 C468.6,290.0 469.1,285.5 469.2,280.0 C469.3,274.5 469.2,265.0 469.2,262.0 Z" fill="#6a7fd8"/><g clip-path="url(#cu)"><rect x="140" y="40.0" width="288" height="4.6" fill="url(#gu0)"/><rect x="140" y="44.0" width="288" height="4.6" fill="url(#gu1)"/><rect x="140" y="48.0" width="288" height="4.6" fill="url(#gu2)"/><rect x="140" y="52.0" width="288" height="4.6" fill="url(#gu3)"/><rect x="140" y="56.0" width="288" height="4.6" fill="url(#gu4)"/><rect x="140" y="60.0" width="288" height="4.6" fill="url(#gu5)"/><rect x="140" y="64.0" width="288" height="4.6" fill="url(#gu6)"/><rect x="140" y="68.0" width="288" height="4.6" fill="url(#gu7)"/><rect x="140" y="72.0" width="288" height="4.6" fill="url(#gu8)"/><rect x="140" y="76.0" width="288" height="4.6" fill="url(#gu9)"/><rect x="140" y="80.0" width="288" height="4.6" fill="url(#gu10)"/><rect x="140" y="84.0" width="288" height="4.6" fill="url(#gu11)"/><rect x="140" y="88.0" width="288" height="4.6" fill="url(#gu12)"/><rect x="140" y="92.0" width="288" height="4.6" fill="url(#gu13)"/><rect x="140" y="96.0" width="288" height="4.6" fill="url(#gu14)"/><rect x="140" y="100.0" width="288" height="4.6" fill="url(#gu15)"/><rect x="140" y="104.0" width="288" height="4.6" fill="url(#gu16)"/><rect x="140" y="108.0" width="288" height="4.6" fill="url(#gu17)"/><rect x="140" y="112.0" width="288" height="4.6" fill="url(#gu18)"/><rect x="140" y="116.0" width="288" height="4.6" fill="url(#gu19)"/><rect x="140" y="120.0" width="288" height="4.6" fill="url(#gu20)"/><rect x="140" y="124.0" width="288" height="4.6" fill="url(#gu21)"/><rect x="140" y="128.0" width="288" height="4.6" fill="url(#gu22)"/><rect x="140" y="132.0" width="288" height="4.6" fill="url(#gu23)"/><rect x="140" y="136.0" width="288" height="4.6" fill="url(#gu24)"/><rect x="140" y="140.0" width="288" height="4.6" fill="url(#gu25)"/><rect x="140" y="144.0" width="288" height="4.6" fill="url(#gu26)"/><rect x="140" y="148.0" width="288" height="4.6" fill="url(#gu27)"/><rect x="140" y="152.0" width="288" height="4.6" fill="url(#gu28)"/><rect x="140" y="156.0" width="288" height="4.6" fill="url(#gu29)"/><rect x="140" y="160.0" width="288" height="4.6" fill="url(#gu30)"/><rect x="140" y="164.0" width="288" height="4.6" fill="url(#gu31)"/><rect x="140" y="168.0" width="288" height="4.6" fill="url(#gu32)"/><rect x="140" y="172.0" width="288" height="4.6" fill="url(#gu33)"/><rect x="140" y="176.0" width="288" height="4.6" fill="url(#gu34)"/><rect x="140" y="180.0" width="288" height="4.6" fill="url(#gu35)"/><rect x="140" y="184.0" width="288" height="4.6" fill="url(#gu36)"/><rect x="140" y="188.0" width="288" height="4.6" fill="url(#gu37)"/><rect x="140" y="192.0" width="288" height="4.6" fill="url(#gu38)"/><rect x="140" y="196.0" width="288" height="4.6" fill="url(#gu39)"/><rect x="140" y="200.0" width="288" height="4.6" fill="url(#gu40)"/><rect x="140" y="204.0" width="288" height="4.6" fill="url(#gu41)"/><rect x="140" y="208.0" width="288" height="4.6" fill="url(#gu42)"/><rect x="140" y="212.0" width="288" height="4.6" fill="url(#gu43)"/><rect x="140" y="216.0" width="288" height="4.6" fill="url(#gu44)"/><rect x="140" y="220.0" width="288" height="4.6" fill="url(#gu45)"/><rect x="140" y="224.0" width="288" height="4.6" fill="url(#gu46)"/><rect x="140" y="228.0" width="288" height="4.6" fill="url(#gu47)"/><rect x="140" y="232.0" width="288" height="4.6" fill="url(#gu48)"/><rect x="140" y="236.0" width="288" height="4.6" fill="url(#gu49)"/><rect x="140" y="240.0" width="288" height="4.6" fill="url(#gu50)"/><rect x="140" y="244.0" width="288" height="4.6" fill="url(#gu51)"/><rect x="140" y="248.0" width="288" height="4.6" fill="url(#gu52)"/><rect x="140" y="252.0" width="288" height="4.6" fill="url(#gu53)"/><rect x="140" y="256.0" width="288" height="4.6" fill="url(#gu54)"/><rect x="140" y="260.0" width="288" height="4.6" fill="url(#gu55)"/></g><g clip-path="url(#clx)"><rect x="175" y="175.0" width="320" height="4.6" fill="url(#gl0)"/><rect x="175" y="179.0" width="320" height="4.6" fill="url(#gl1)"/><rect x="175" y="183.0" width="320" height="4.6" fill="url(#gl2)"/><rect x="175" y="187.0" width="320" height="4.6" fill="url(#gl3)"/><rect x="175" y="191.0" width="320" height="4.6" fill="url(#gl4)"/><rect x="175" y="195.0" width="320" height="4.6" fill="url(#gl5)"/><rect x="175" y="199.0" width="320" height="4.6" fill="url(#gl6)"/><rect x="175" y="203.0" width="320" height="4.6" fill="url(#gl7)"/><rect x="175" y="207.0" width="320" height="4.6" fill="url(#gl8)"/><rect x="175" y="211.0" width="320" height="4.6" fill="url(#gl9)"/><rect x="175" y="215.0" width="320" height="4.6" fill="url(#gl10)"/><rect x="175" y="219.0" width="320" height="4.6" fill="url(#gl11)"/><rect x="175" y="223.0" width="320" height="4.6" fill="url(#gl12)"/><rect x="175" y="227.0" width="320" height="4.6" fill="url(#gl13)"/><rect x="175" y="231.0" width="320" height="4.6" fill="url(#gl14)"/><rect x="175" y="235.0" width="320" height="4.6" fill="url(#gl15)"/><rect x="175" y="239.0" width="320" height="4.6" fill="url(#gl16)"/><rect x="175" y="243.0" width="320" height="4.6" fill="url(#gl17)"/><rect x="175" y="247.0" width="320" height="4.6" fill="url(#gl18)"/><rect x="175" y="251.0" width="320" height="4.6" fill="url(#gl19)"/><rect x="175" y="255.0" width="320" height="4.6" fill="url(#gl20)"/><rect x="175" y="259.0" width="320" height="4.6" fill="url(#gl21)"/><rect x="175" y="263.0" width="320" height="4.6" fill="url(#gl22)"/><rect x="175" y="267.0" width="320" height="4.6" fill="url(#gl23)"/><rect x="175" y="271.0" width="320" height="4.6" fill="url(#gl24)"/><rect x="175" y="275.0" width="320" height="4.6" fill="url(#gl25)"/><rect x="175" y="279.0" width="320" height="4.6" fill="url(#gl26)"/><rect x="175" y="283.0" width="320" height="4.6" fill="url(#gl27)"/><rect x="175" y="287.0" width="320" height="4.6" fill="url(#gl28)"/><rect x="175" y="291.0" width="320" height="4.6" fill="url(#gl29)"/><rect x="175" y="295.0" width="320" height="4.6" fill="url(#gl30)"/><rect x="175" y="299.0" width="320" height="4.6" fill="url(#gl31)"/><rect x="175" y="303.0" width="320" height="4.6" fill="url(#gl32)"/><rect x="175" y="307.0" width="320" height="4.6" fill="url(#gl33)"/><rect x="175" y="311.0" width="320" height="4.6" fill="url(#gl34)"/><rect x="175" y="315.0" width="320" height="4.6" fill="url(#gl35)"/><rect x="175" y="319.0" width="320" height="4.6" fill="url(#gl36)"/><rect x="175" y="323.0" width="320" height="4.6" fill="url(#gl37)"/><rect x="175" y="327.0" width="320" height="4.6" fill="url(#gl38)"/><rect x="175" y="331.0" width="320" height="4.6" fill="url(#gl39)"/><rect x="175" y="335.0" width="320" height="4.6" fill="url(#gl40)"/><rect x="175" y="339.0" width="320" height="4.6" fill="url(#gl41)"/><rect x="175" y="343.0" width="320" height="4.6" fill="url(#gl42)"/><rect x="175" y="347.0" width="320" height="4.6" fill="url(#gl43)"/><rect x="175" y="351.0" width="320" height="4.6" fill="url(#gl44)"/><rect x="175" y="355.0" width="320" height="4.6" fill="url(#gl45)"/><rect x="175" y="359.0" width="320" height="4.6" fill="url(#gl46)"/><rect x="175" y="363.0" width="320" height="4.6" fill="url(#gl47)"/><rect x="175" y="367.0" width="320" height="4.6" fill="url(#gl48)"/><rect x="175" y="371.0" width="320" height="4.6" fill="url(#gl49)"/><rect x="175" y="375.0" width="320" height="4.6" fill="url(#gl50)"/><rect x="175" y="379.0" width="320" height="4.6" fill="url(#gl51)"/><rect x="175" y="383.0" width="320" height="4.6" fill="url(#gl52)"/><rect x="175" y="387.0" width="320" height="4.6" fill="url(#gl53)"/><rect x="175" y="391.0" width="320" height="4.6" fill="url(#gl54)"/><rect x="175" y="395.0" width="320" height="4.6" fill="url(#gl55)"/><rect x="175" y="399.0" width="320" height="4.6" fill="url(#gl56)"/><rect x="175" y="403.0" width="320" height="4.6" fill="url(#gl57)"/><rect x="175" y="407.0" width="320" height="4.6" fill="url(#gl58)"/><rect x="175" y="411.0" width="320" height="4.6" fill="url(#gl59)"/><rect x="175" y="415.0" width="320" height="4.6" fill="url(#gl60)"/><rect x="175" y="419.0" width="320" height="4.6" fill="url(#gl61)"/><rect x="175" y="423.0" width="320" height="4.6" fill="url(#gl62)"/><rect x="175" y="427.0" width="320" height="4.6" fill="url(#gl63)"/><rect x="175" y="431.0" width="320" height="4.6" fill="url(#gl64)"/><rect x="175" y="435.0" width="320" height="4.6" fill="url(#gl65)"/><rect x="175" y="439.0" width="320" height="4.6" fill="url(#gl66)"/><rect x="175" y="443.0" width="320" height="4.6" fill="url(#gl67)"/><rect x="175" y="447.0" width="320" height="4.6" fill="url(#gl68)"/><rect x="175" y="451.0" width="320" height="4.6" fill="url(#gl69)"/><rect x="175" y="455.0" width="320" height="4.6" fill="url(#gl70)"/><rect x="175" y="459.0" width="320" height="4.6" fill="url(#gl71)"/><rect x="175" y="463.0" width="320" height="4.6" fill="url(#gl72)"/></g><g clip-path="url(#ci)"><rect x="410" y="158.0" width="72" height="4.6" fill="url(#gi0)"/><rect x="410" y="162.0" width="72" height="4.6" fill="url(#gi1)"/><rect x="410" y="166.0" width="72" height="4.6" fill="url(#gi2)"/><rect x="410" y="170.0" width="72" height="4.6" fill="url(#gi3)"/><rect x="410" y="174.0" width="72" height="4.6" fill="url(#gi4)"/><rect x="410" y="178.0" width="72" height="4.6" fill="url(#gi5)"/><rect x="410" y="182.0" width="72" height="4.6" fill="url(#gi6)"/><rect x="410" y="186.0" width="72" height="4.6" fill="url(#gi7)"/><rect x="410" y="190.0" width="72" height="4.6" fill="url(#gi8)"/><rect x="410" y="194.0" width="72" height="4.6" fill="url(#gi9)"/><rect x="410" y="198.0" width="72" height="4.6" fill="url(#gi10)"/><rect x="410" y="202.0" width="72" height="4.6" fill="url(#gi11)"/><rect x="410" y="206.0" width="72" height="4.6" fill="url(#gi12)"/><rect x="410" y="210.0" width="72" height="4.6" fill="url(#gi13)"/><rect x="410" y="214.0" width="72" height="4.6" fill="url(#gi14)"/><rect x="410" y="218.0" width="72" height="4.6" fill="url(#gi15)"/><rect x="410" y="222.0" width="72" height="4.6" fill="url(#gi16)"/><rect x="410" y="226.0" width="72" height="4.6" fill="url(#gi17)"/><rect x="410" y="230.0" width="72" height="4.6" fill="url(#gi18)"/><rect x="410" y="234.0" width="72" height="4.6" fill="url(#gi19)"/><rect x="410" y="238.0" width="72" height="4.6" fill="url(#gi20)"/><rect x="410" y="242.0" width="72" height="4.6" fill="url(#gi21)"/><rect x="410" y="246.0" width="72" height="4.6" fill="url(#gi22)"/><rect x="410" y="250.0" width="72" height="4.6" fill="url(#gi23)"/><rect x="410" y="254.0" width="72" height="4.6" fill="url(#gi24)"/><rect x="410" y="258.0" width="72" height="4.6" fill="url(#gi25)"/><rect x="410" y="262.0" width="72" height="4.6" fill="url(#gi26)"/><rect x="410" y="266.0" width="72" height="4.6" fill="url(#gi27)"/><rect x="410" y="270.0" width="72" height="4.6" fill="url(#gi28)"/><rect x="410" y="274.0" width="72" height="4.6" fill="url(#gi29)"/><rect x="410" y="278.0" width="72" height="4.6" fill="url(#gi30)"/><rect x="410" y="282.0" width="72" height="4.6" fill="url(#gi31)"/><rect x="410" y="286.0" width="72" height="4.6" fill="url(#gi32)"/><rect x="410" y="290.0" width="72" height="4.6" fill="url(#gi33)"/><rect x="410" y="294.0" width="72" height="4.6" fill="url(#gi34)"/><rect x="410" y="298.0" width="72" height="4.6" fill="url(#gi35)"/><rect x="410" y="302.0" width="72" height="4.6" fill="url(#gi36)"/><rect x="410" y="306.0" width="72" height="4.6" fill="url(#gi37)"/><rect x="410" y="310.0" width="72" height="4.6" fill="url(#gi38)"/><rect x="410" y="314.0" width="72" height="4.6" fill="url(#gi39)"/><rect x="410" y="318.0" width="72" height="4.6" fill="url(#gi40)"/><rect x="410" y="322.0" width="72" height="4.6" fill="url(#gi41)"/><rect x="410" y="326.0" width="72" height="4.6" fill="url(#gi42)"/><rect x="410" y="330.0" width="72" height="4.6" fill="url(#gi43)"/><rect x="410" y="334.0" width="72" height="4.6" fill="url(#gi44)"/><rect x="410" y="338.0" width="72" height="4.6" fill="url(#gi45)"/><rect x="410" y="342.0" width="72" height="4.6" fill="url(#gi46)"/><rect x="410" y="346.0" width="72" height="4.6" fill="url(#gi47)"/><rect x="410" y="350.0" width="72" height="4.6" fill="url(#gi48)"/><rect x="410" y="354.0" width="72" height="4.6" fill="url(#gi49)"/><rect x="410" y="358.0" width="72" height="4.6" fill="url(#gi50)"/><rect x="410" y="362.0" width="72" height="4.6" fill="url(#gi51)"/><rect x="410" y="366.0" width="72" height="4.6" fill="url(#gi52)"/><rect x="410" y="370.0" width="72" height="4.6" fill="url(#gi53)"/><rect x="410" y="374.0" width="72" height="4.6" fill="url(#gi54)"/><rect x="410" y="378.0" width="72" height="4.6" fill="url(#gi55)"/><rect x="410" y="382.0" width="72" height="4.6" fill="url(#gi56)"/><rect x="410" y="386.0" width="72" height="4.6" fill="url(#gi57)"/><rect x="410" y="390.0" width="72" height="4.6" fill="url(#gi58)"/><rect x="410" y="394.0" width="72" height="4.6" fill="url(#gi59)"/><rect x="410" y="398.0" width="72" height="4.6" fill="url(#gi60)"/><rect x="410" y="402.0" width="72" height="4.6" fill="url(#gi61)"/><rect x="410" y="406.0" width="72" height="4.6" fill="url(#gi62)"/><rect x="410" y="410.0" width="72" height="4.6" fill="url(#gi63)"/><rect x="410" y="414.0" width="72" height="4.6" fill="url(#gi64)"/><rect x="410" y="418.0" width="72" height="4.6" fill="url(#gi65)"/><rect x="410" y="422.0" width="72" height="4.6" fill="url(#gi66)"/><rect x="410" y="426.0" width="72" height="4.6" fill="url(#gi67)"/><rect x="410" y="430.0" width="72" height="4.6" fill="url(#gi68)"/><rect x="410" y="434.0" width="72" height="4.6" fill="url(#gi69)"/><rect x="410" y="438.0" width="72" height="4.6" fill="url(#gi70)"/><rect x="410" y="442.0" width="72" height="4.6" fill="url(#gi71)"/><rect x="410" y="446.0" width="72" height="4.6" fill="url(#gi72)"/><rect x="410" y="450.0" width="72" height="4.6" fill="url(#gi73)"/><rect x="410" y="454.0" width="72" height="4.6" fill="url(#gi74)"/><rect x="410" y="458.0" width="72" height="4.6" fill="url(#gi75)"/><rect x="410" y="462.0" width="72" height="4.6" fill="url(#gi76)"/></g><g clip-path="url(#cl)"><rect x="170" y="170" width="300" height="300" fill="url(#stripes)" mask="url(#smask)"/></g><g clip-path="url(#cl)" fill="none" stroke="#1c2a50" stroke-width="1.2" opacity="0.14"><path d="M175.0,269.5 L180.0,271.0 L185.0,272.6 L190.0,274.1 L195.0,275.7 L200.0,277.2 L205.0,278.7 L210.0,280.2 L215.0,281.7 L220.0,283.2 L225.0,284.7 L230.0,286.2 L235.0,287.7 L240.0,289.1 L245.0,290.6 L250.0,292.1 L255.0,293.5 L260.0,295.0 L265.0,296.4 L270.0,297.9 L275.0,299.3 L280.0,300.7 L285.0,302.1 L290.0,303.6 L295.0,305.0 L300.0,306.4 L305.0,307.8 L310.0,309.2 L315.0,310.5 L320.0,311.9 L325.0,313.3 L330.0,314.7 L335.0,316.0 L340.0,317.4 L345.0,318.7 L350.0,320.1 L355.0,321.4 L360.0,322.7 L365.0,324.1 L370.0,325.4 L375.0,326.7 L380.0,328.0 L385.0,329.3 L390.0,330.6 L395.0,331.9 L400.0,333.2 L405.0,334.5 L410.0,335.7 L415.0,337.0 L420.0,338.2 L425.0,339.5 L430.0,340.7 L435.0,342.0 L440.0,343.2 L445.0,344.5 L450.0,345.7 L455.0,346.9 L460.0,348.1 L465.0,349.3"/><path d="M165.0,277.0 L170.0,278.5 L175.0,280.1 L180.0,281.6 L185.0,283.2 L190.0,284.7 L195.0,286.2 L200.0,287.7 L205.0,289.2 L210.0,290.7 L215.0,292.2 L220.0,293.7 L225.0,295.2 L230.0,296.6 L235.0,298.1 L240.0,299.6 L245.0,301.0 L250.0,302.5 L255.0,303.9 L260.0,305.4 L265.0,306.8 L270.0,308.2 L275.0,309.6 L280.0,311.1 L285.0,312.5 L290.0,313.9 L295.0,315.3 L300.0,316.7 L305.0,318.0 L310.0,319.4 L315.0,320.8 L320.0,322.2 L325.0,323.5 L330.0,324.9 L335.0,326.2 L340.0,327.6 L345.0,328.9 L350.0,330.2 L355.0,331.6 L360.0,332.9 L365.0,334.2 L370.0,335.5 L375.0,336.8 L380.0,338.1 L385.0,339.4 L390.0,340.7 L395.0,342.0 L400.0,343.2 L405.0,344.5 L410.0,345.7 L415.0,347.0 L420.0,348.2 L425.0,349.5 L430.0,350.7 L435.0,352.0 L440.0,353.2 L445.0,354.4 L450.0,355.6 L455.0,356.8 L460.0,358.0 L465.0,359.2"/><path d="M160.0,285.5 L165.0,287.1 L170.0,288.8 L175.0,290.4 L180.0,292.1 L185.0,293.7 L190.0,295.3 L195.0,296.9 L200.0,298.5 L205.0,300.1 L210.0,301.7 L215.0,303.3 L220.0,304.9 L225.0,306.4 L230.0,308.0 L235.0,309.6 L240.0,311.1 L245.0,312.7 L250.0,314.2 L255.0,315.8 L260.0,317.3 L265.0,318.8 L270.0,320.3 L275.0,321.9 L280.0,323.4 L285.0,324.9 L290.0,326.4 L295.0,327.9 L300.0,329.3 L305.0,330.8 L310.0,332.3 L315.0,333.8 L320.0,335.2 L325.0,336.7 L330.0,338.1 L335.0,339.6 L340.0,341.0 L345.0,342.4 L350.0,343.9 L355.0,345.3 L360.0,346.7 L365.0,348.1 L370.0,349.5 L375.0,350.9 L380.0,352.3 L385.0,353.7 L390.0,355.1 L395.0,356.4 L400.0,357.8 L405.0,359.1 L410.0,360.5 L415.0,361.8 L420.0,363.2 L425.0,364.5 L430.0,365.9 L435.0,367.2 L440.0,368.5 L445.0,369.8 L450.0,371.1 L455.0,372.4 L460.0,373.7 L465.0,375.0"/><path d="M155.0,297.5 L160.0,299.1 L165.0,300.8 L170.0,302.4 L175.0,304.1 L180.0,305.7 L185.0,307.3 L190.0,308.9 L195.0,310.5 L200.0,312.1 L205.0,313.7 L210.0,315.3 L215.0,316.9 L220.0,318.4 L225.0,320.0 L230.0,321.6 L235.0,323.1 L240.0,324.7 L245.0,326.2 L250.0,327.8 L255.0,329.3 L260.0,330.8 L265.0,332.3 L270.0,333.9 L275.0,335.4 L280.0,336.9 L285.0,338.4 L290.0,339.9 L295.0,341.3 L300.0,342.8 L305.0,344.3 L310.0,345.8 L315.0,347.2 L320.0,348.7 L325.0,350.1 L330.0,351.6 L335.0,353.0 L340.0,354.4 L345.0,355.9 L350.0,357.3 L355.0,358.7 L360.0,360.1 L365.0,361.5 L370.0,362.9 L375.0,364.3 L380.0,365.7 L385.0,367.1 L390.0,368.4 L395.0,369.8 L400.0,371.1 L405.0,372.5 L410.0,373.8 L415.0,375.2 L420.0,376.5 L425.0,377.9 L430.0,379.2 L435.0,380.5 L440.0,381.8 L445.0,383.1 L450.0,384.4 L455.0,385.7 L460.0,387.0 L465.0,388.3"/><path d="M150.0,310.5 L155.0,312.1 L160.0,313.7 L165.0,315.3 L170.0,316.9 L175.0,318.4 L180.0,320.0 L185.0,321.6 L190.0,323.1 L195.0,324.7 L200.0,326.2 L205.0,327.7 L210.0,329.3 L215.0,330.8 L220.0,332.3 L225.0,333.8 L230.0,335.3 L235.0,336.8 L240.0,338.3 L245.0,339.8 L250.0,341.3 L255.0,342.8 L260.0,344.2 L265.0,345.7 L270.0,347.2 L275.0,348.6 L280.0,350.1 L285.0,351.5 L290.0,352.9 L295.0,354.4 L300.0,355.8 L305.0,357.2 L310.0,358.6 L315.0,360.0 L320.0,361.4 L325.0,362.8 L330.0,364.2 L335.0,365.6 L340.0,367.0 L345.0,368.3 L350.0,369.7 L355.0,371.1 L360.0,372.4 L365.0,373.8 L370.0,375.1 L375.0,376.4 L380.0,377.8 L385.0,379.1 L390.0,380.4 L395.0,381.7 L400.0,383.0 L405.0,384.3 L410.0,385.6 L415.0,386.9 L420.0,388.2 L425.0,389.4 L430.0,390.7 L435.0,392.0 L440.0,393.2 L445.0,394.5 L450.0,395.7 L455.0,396.9 L460.0,398.2 L465.0,399.4"/><path d="M155.0,333.5 L160.0,335.0 L165.0,336.5 L170.0,338.0 L175.0,339.5 L180.0,340.9 L185.0,342.4 L190.0,343.9 L195.0,345.3 L200.0,346.8 L205.0,348.2 L210.0,349.6 L215.0,351.1 L220.0,352.5 L225.0,353.9 L230.0,355.3 L235.0,356.7 L240.0,358.1 L245.0,359.5 L250.0,360.9 L255.0,362.3 L260.0,363.7 L265.0,365.0 L270.0,366.4 L275.0,367.8 L280.0,369.1 L285.0,370.5 L290.0,371.8 L295.0,373.1 L300.0,374.5 L305.0,375.8 L310.0,377.1 L315.0,378.4 L320.0,379.7 L325.0,381.0 L330.0,382.3 L335.0,383.6 L340.0,384.9 L345.0,386.2 L350.0,387.4 L355.0,388.7 L360.0,390.0 L365.0,391.2 L370.0,392.5 L375.0,393.7 L380.0,394.9 L385.0,396.2 L390.0,397.4 L395.0,398.6 L400.0,399.8 L405.0,401.0 L410.0,402.2 L415.0,403.4 L420.0,404.6 L425.0,405.8 L430.0,406.9 L435.0,408.1 L440.0,409.3 L445.0,410.4 L450.0,411.6 L455.0,412.7 L460.0,413.8 L465.0,415.0"/><path d="M170.0,367.0 L175.0,368.3 L180.0,369.7 L185.0,371.0 L190.0,372.4 L195.0,373.7 L200.0,375.0 L205.0,376.3 L210.0,377.6 L215.0,378.9 L220.0,380.2 L225.0,381.5 L230.0,382.8 L235.0,384.0 L240.0,385.3 L245.0,386.6 L250.0,387.8 L255.0,389.1 L260.0,390.3 L265.0,391.6 L270.0,392.8 L275.0,394.0 L280.0,395.2 L285.0,396.5 L290.0,397.7 L295.0,398.9 L300.0,400.1 L305.0,401.3 L310.0,402.4 L315.0,403.6 L320.0,404.8 L325.0,406.0 L330.0,407.1 L335.0,408.3 L340.0,409.4 L345.0,410.6 L350.0,411.7 L355.0,412.8 L360.0,414.0 L365.0,415.1 L370.0,416.2 L375.0,417.3 L380.0,418.4 L385.0,419.5 L390.0,420.6 L395.0,421.7 L400.0,422.8 L405.0,423.8 L410.0,424.9 L415.0,425.9 L420.0,427.0 L425.0,428.0 L430.0,429.1 L435.0,430.1 L440.0,431.2 L445.0,432.2 L450.0,433.2 L455.0,434.2 L460.0,435.2 L465.0,436.2"/><path d="M185.0,395.0 L190.0,396.2 L195.0,397.5 L200.0,398.7 L205.0,400.0 L210.0,401.2 L215.0,402.4 L220.0,403.6 L225.0,404.8 L230.0,406.0 L235.0,407.2 L240.0,408.4 L245.0,409.6 L250.0,410.7 L255.0,411.9 L260.0,413.1 L265.0,414.2 L270.0,415.4 L275.0,416.5 L280.0,417.7 L285.0,418.8 L290.0,419.9 L295.0,421.0 L300.0,422.2 L305.0,423.3 L310.0,424.4 L315.0,425.5 L320.0,426.6 L325.0,427.6 L330.0,428.7 L335.0,429.8 L340.0,430.9 L345.0,431.9 L350.0,433.0 L355.0,434.0 L360.0,435.1 L365.0,436.1 L370.0,437.1 L375.0,438.2 L380.0,439.2 L385.0,440.2 L390.0,441.2 L395.0,442.2 L400.0,443.2 L405.0,444.2 L410.0,445.2 L415.0,446.2 L420.0,447.1 L425.0,448.1 L430.0,449.0 L435.0,450.0 L440.0,450.9 L445.0,451.9 L450.0,452.8 L455.0,453.8 L460.0,454.7 L465.0,455.6"/></g><g opacity="0.65"><line x1="359" y1="464" x2="363" y2="272" stroke="#a8a8a8" stroke-width="1.0" opacity="1"/><line x1="321" y1="41" x2="321.5" y2="189" stroke="#999" stroke-width="0.9" opacity="1"/><line x1="57.5" y1="143" x2="363" y2="272" stroke="#888" stroke-width="0.9" opacity="1"/><line x1="363" y1="272" x2="609" y2="127" stroke="#aaa" stroke-width="1.0" opacity="1"/></g><g clip-path="url(#cfe)" fill="none" stroke="#151515" stroke-width="1.3"><path d="M316.5,45.2 L361.5,86.5"/><path d="M305.5,49.8 L389.5,128.5"/><path d="M294.5,54.4 L296.5,56.3 L298.5,58.1 L300.5,60.0 L302.5,61.8 L304.5,63.7 L306.5,65.5 L308.5,67.4 L310.5,69.3 L312.5,71.1 L314.5,73.0 L316.5,74.8 L318.5,76.7 L320.5,78.5 L322.5,80.4 L324.5,82.3 L326.5,84.1 L328.5,86.0 L330.5,87.9 L332.5,89.7 L334.5,91.6 L336.5,93.5 L338.5,95.3 L340.5,97.2 L342.5,99.1 L344.5,100.9 L346.5,102.8 L348.5,104.7 L350.5,106.6 L352.5,108.5 L354.5,110.3 L356.5,112.2 L358.5,114.1 L360.5,116.0 L362.5,117.9 L364.5,119.8 L366.5,121.7 L368.5,123.6 L370.5,125.5 L372.5,127.4 L374.5,129.3 L376.5,131.2 L378.5,133.1 L380.5,135.0 L382.5,136.9 L384.5,138.8 L386.5,140.8 L388.5,142.7 L390.5,144.6 L392.5,146.5 L394.5,148.4 L396.5,150.4 L398.5,152.3 L400.5,154.2 L402.5,156.1 L404.5,158.1 L406.5,160.0 L408.5,161.9 L410.5,163.8 L411.7,165.0"/><path d="M283.5,59.0 L285.5,60.5 L287.5,62.1 L289.5,63.6 L291.5,65.2 L293.5,66.8 L295.5,68.4 L297.5,70.0 L299.5,71.7 L301.5,73.3 L303.5,75.0 L305.5,76.7 L307.5,78.5 L309.5,80.2 L311.5,82.0 L313.5,83.8 L315.5,85.5 L317.5,87.3 L319.5,89.2 L321.5,91.0 L323.5,92.8 L325.5,94.7 L327.5,96.6 L329.5,98.4 L331.5,100.3 L333.5,102.2 L335.5,104.1 L337.5,106.0 L339.5,107.9 L341.5,109.9 L343.5,111.8 L345.5,113.7 L347.5,115.6 L349.5,117.6 L351.5,119.5 L353.5,121.5 L355.5,123.4 L357.5,125.4 L359.5,127.3 L361.5,129.3 L363.5,131.2 L365.5,133.1 L367.5,135.1 L369.5,137.0 L371.5,138.9 L373.5,140.9 L375.5,142.8 L377.5,144.7 L379.5,146.6 L381.5,148.6 L383.5,150.5 L385.5,152.4 L387.5,154.3 L389.5,156.2 L391.5,158.1 L393.5,160.0 L395.5,161.9 L397.5,163.8 L399.5,165.7 L401.5,167.5 L403.5,169.4 L405.5,171.3 L407.5,173.2 L409.5,175.1 L411.5,177.0 L413.5,178.9 L415.5,180.7 L417.5,182.6 L419.5,184.5 L419.6,184.6"/><path d="M272.5,63.6 L274.5,65.3 L276.5,67.0 L278.5,68.8 L280.5,70.5 L282.5,72.2 L284.5,74.0 L286.5,75.7 L288.5,77.4 L290.5,79.2 L292.5,80.9 L294.5,82.7 L296.5,84.4 L298.5,86.2 L300.5,87.9 L302.5,89.7 L304.5,91.4 L306.5,93.2 L308.5,94.9 L310.5,96.7 L312.5,98.5 L314.5,100.2 L316.5,102.0 L318.5,103.8 L320.5,105.5 L322.5,107.3 L324.5,109.1 L326.5,110.9 L328.5,112.6 L330.5,114.4 L332.5,116.2 L334.5,118.0 L336.5,119.8 L338.5,121.6 L340.5,123.3 L342.5,125.1 L344.5,126.9 L346.5,128.7 L348.5,130.5 L350.5,132.3 L352.5,134.1 L354.5,135.9 L356.5,137.7 L358.5,139.6 L360.5,141.4 L362.5,143.2 L364.5,145.0 L366.5,146.8 L368.5,148.6 L370.5,150.5 L372.5,152.3 L374.5,154.1 L376.5,155.9 L378.5,157.8 L380.5,159.6 L382.5,161.4 L384.5,163.3 L386.5,165.1 L388.5,166.9 L390.5,168.8 L392.5,170.6 L394.5,172.5 L396.5,174.3 L398.5,176.1 L400.5,178.0 L402.5,179.8 L404.5,181.7 L406.5,183.5 L408.5,185.4 L410.5,187.2 L412.5,189.1 L414.5,190.9 L416.5,192.8 L418.5,194.6 L420.5,196.5 L422.5,198.3 L422.7,198.5"/><path d="M261.5,68.1 L263.5,69.9 L265.5,71.6 L267.5,73.4 L269.5,75.2 L271.5,77.0 L273.5,78.8 L275.5,80.6 L277.5,82.3 L279.5,84.1 L281.5,85.9 L283.5,87.7 L285.5,89.5 L287.5,91.3 L289.5,93.1 L291.5,94.8 L293.5,96.6 L295.5,98.4 L297.5,100.2 L299.5,102.0 L301.5,103.8 L303.5,105.6 L305.5,107.4 L307.5,109.2 L309.5,111.0 L311.5,112.8 L313.5,114.5 L315.5,116.3 L317.5,118.1 L319.5,119.9 L321.5,121.7 L323.5,123.5 L325.5,125.3 L327.5,127.1 L329.5,128.8 L331.5,130.6 L333.5,132.4 L335.5,134.2 L337.5,136.0 L339.5,137.7 L341.5,139.5 L343.5,141.3 L345.5,143.0 L347.5,144.8 L349.5,146.6 L351.5,148.3 L353.5,150.1 L355.5,151.9 L357.5,153.6 L359.5,155.4 L361.5,157.1 L363.5,158.9 L365.5,160.6 L367.5,162.3 L369.5,164.1 L371.5,165.8 L373.5,167.5 L375.5,169.2 L377.5,171.0 L379.5,172.7 L381.5,174.4 L383.5,176.1 L385.5,177.8 L387.5,179.5 L389.5,181.2 L391.5,182.9 L393.5,184.6 L395.5,186.3 L397.5,188.0 L399.5,189.7 L401.5,191.4 L403.5,193.1 L405.5,194.8 L407.5,196.5 L409.5,198.1 L411.5,199.8 L413.5,201.5 L415.5,203.2 L417.5,204.9 L419.5,206.5 L421.5,208.2 L423.5,209.9 L424.8,211.0"/><path d="M250.5,72.5 L252.5,74.4 L254.5,76.2 L256.5,78.0 L258.5,79.8 L260.5,81.6 L262.5,83.5 L264.5,85.3 L266.5,87.1 L268.5,88.9 L270.5,90.7 L272.5,92.5 L274.5,94.3 L276.5,96.1 L278.5,97.9 L280.5,99.7 L282.5,101.5 L284.5,103.3 L286.5,105.1 L288.5,106.9 L290.5,108.7 L292.5,110.5 L294.5,112.2 L296.5,114.0 L298.5,115.8 L300.5,117.5 L302.5,119.3 L304.5,121.1 L306.5,122.8 L308.5,124.5 L310.5,126.3 L312.5,128.0 L314.5,129.8 L316.5,131.5 L318.5,133.2 L320.5,134.9 L322.5,136.7 L324.5,138.4 L326.5,140.1 L328.5,141.8 L330.5,143.5 L332.5,145.2 L334.5,146.9 L336.5,148.6 L338.5,150.3 L340.5,152.0 L342.5,153.7 L344.5,155.3 L346.5,157.0 L348.5,158.7 L350.5,160.4 L352.5,162.0 L354.5,163.7 L356.5,165.4 L358.5,167.0 L360.5,168.7 L362.5,170.3 L364.5,172.0 L366.5,173.6 L368.5,175.3 L370.5,176.9 L372.5,178.5 L374.5,180.2 L376.5,181.8 L378.5,183.4 L380.5,185.1 L382.5,186.7 L384.5,188.3 L386.5,189.9 L388.5,191.6 L390.5,193.2 L392.5,194.8 L394.5,196.4 L396.5,198.0 L398.5,199.6 L400.5,201.2 L402.5,202.8 L404.5,204.5 L406.5,206.1 L408.5,207.7 L410.5,209.3 L412.5,210.9 L414.5,212.5 L416.5,214.1 L418.5,215.7 L420.5,217.3 L422.5,218.9 L424.5,220.5 L426.5,222.1 L428.3,223.5"/><path d="M239.5,77.0 L241.5,78.9 L243.5,80.7 L245.5,82.6 L247.5,84.4 L249.5,86.2 L251.5,88.1 L253.5,89.9 L255.5,91.8 L257.5,93.6 L259.5,95.4 L261.5,97.3 L263.5,99.1 L265.5,100.9 L267.5,102.8 L269.5,104.6 L271.5,106.4 L273.5,108.2 L275.5,110.0 L277.5,111.8 L279.5,113.6 L281.5,115.4 L283.5,117.2 L285.5,119.0 L287.5,120.8 L289.5,122.6 L291.5,124.3 L293.5,126.1 L295.5,127.8 L297.5,129.6 L299.5,131.3 L301.5,133.1 L303.5,134.8 L305.5,136.5 L307.5,138.2 L309.5,139.9 L311.5,141.6 L313.5,143.3 L315.5,145.0 L317.5,146.7 L319.5,148.4 L321.5,150.1 L323.5,151.8 L325.5,153.4 L327.5,155.1 L329.5,156.7 L331.5,158.4 L333.5,160.0 L335.5,161.7 L337.5,163.3 L339.5,164.9 L341.5,166.6 L343.5,168.2 L345.5,169.8 L347.5,171.4 L349.5,173.0 L351.5,174.6 L353.5,176.2 L355.5,177.8 L357.5,179.4 L359.5,181.0 L361.5,182.6 L363.5,184.2 L365.5,185.8 L367.5,187.3 L369.5,188.9 L371.5,190.5 L373.5,192.0 L375.5,193.6 L377.5,195.2 L379.5,196.7 L381.5,198.3 L383.5,199.8 L385.5,201.3 L387.5,202.9 L389.5,204.4 L391.5,206.0 L393.5,207.5 L395.5,209.0 L397.5,210.6 L399.5,212.1 L401.5,213.6 L403.5,215.1 L405.5,216.7 L407.5,218.2 L409.5,219.7 L411.5,221.2 L413.5,222.7 L415.5,224.3 L417.5,225.8 L419.5,227.3 L421.5,228.8 L423.5,230.3 L425.5,231.8 L427.5,233.4 L429.5,234.9 L431.0,236.0"/><path d="M228.5,81.5 L230.5,83.4 L232.5,85.3 L234.5,87.1 L236.5,89.0 L238.5,90.9 L240.5,92.7 L242.5,94.6 L244.5,96.5 L246.5,98.3 L248.5,100.2 L250.5,102.1 L252.5,103.9 L254.5,105.8 L256.5,107.6 L258.5,109.5 L260.5,111.3 L262.5,113.1 L264.5,115.0 L266.5,116.8 L268.5,118.6 L270.5,120.4 L272.5,122.2 L274.5,124.0 L276.5,125.8 L278.5,127.6 L280.5,129.4 L282.5,131.2 L284.5,132.9 L286.5,134.7 L288.5,136.4 L290.5,138.2 L292.5,139.9 L294.5,141.6 L296.5,143.4 L298.5,145.1 L300.5,146.8 L302.5,148.4 L304.5,150.1 L306.5,151.8 L308.5,153.5 L310.5,155.1 L312.5,156.8 L314.5,158.4 L316.5,160.1 L318.5,161.7 L320.5,163.3 L322.5,164.9 L324.5,166.6 L326.5,168.2 L328.5,169.8 L330.5,171.4 L332.5,172.9 L334.5,174.5 L336.5,176.1 L338.5,177.7 L340.5,179.3 L342.5,180.8 L344.5,182.4 L346.5,183.9 L348.5,185.5 L350.5,187.0 L352.5,188.6 L354.5,190.1 L356.5,191.6 L358.5,193.2 L360.5,194.7 L362.5,196.2 L364.5,197.7 L366.5,199.3 L368.5,200.8 L370.5,202.3 L372.5,203.8 L374.5,205.3 L376.5,206.8 L378.5,208.3 L380.5,209.8 L382.5,211.3 L384.5,212.8 L386.5,214.3 L388.5,215.8 L390.5,217.3 L392.5,218.8 L394.5,220.2 L396.5,221.7 L398.5,223.2 L400.5,224.7 L402.5,226.2 L404.5,227.7 L406.5,229.1 L408.5,230.6 L410.5,232.1 L412.5,233.6 L414.5,235.0 L416.5,236.5 L418.5,238.0 L420.5,239.5 L422.5,240.9 L424.5,242.4 L426.5,243.9 L428.5,245.3 L430.5,246.8 L432.5,248.3 L433.8,249.2"/><path d="M217.5,86.3 L219.5,88.2 L221.5,90.1 L223.5,92.0 L225.5,93.9 L227.5,95.7 L229.5,97.6 L231.5,99.5 L233.5,101.4 L235.5,103.2 L237.5,105.1 L239.5,107.0 L241.5,108.8 L243.5,110.7 L245.5,112.6 L247.5,114.4 L249.5,116.3 L251.5,118.1 L253.5,120.0 L255.5,121.8 L257.5,123.6 L259.5,125.5 L261.5,127.3 L263.5,129.1 L265.5,130.9 L267.5,132.7 L269.5,134.5 L271.5,136.3 L273.5,138.1 L275.5,139.9 L277.5,141.6 L279.5,143.4 L281.5,145.1 L283.5,146.9 L285.5,148.6 L287.5,150.4 L289.5,152.1 L291.5,153.8 L293.5,155.5 L295.5,157.2 L297.5,158.9 L299.5,160.5 L301.5,162.2 L303.5,163.8 L305.5,165.5 L307.5,167.1 L309.5,168.8 L311.5,170.4 L313.5,172.0 L315.5,173.6 L317.5,175.2 L319.5,176.8 L321.5,178.4 L323.5,180.0 L325.5,181.5 L327.5,183.1 L329.5,184.6 L331.5,186.2 L333.5,187.7 L335.5,189.3 L337.5,190.8 L339.5,192.3 L341.5,193.9 L343.5,195.4 L345.5,196.9 L347.5,198.4 L349.5,199.9 L351.5,201.4 L353.5,202.9 L355.5,204.4 L357.5,205.8 L359.5,207.3 L361.5,208.8 L363.5,210.3 L365.5,211.7 L367.5,213.2 L369.5,214.6 L371.5,216.1 L373.5,217.5 L375.5,219.0 L377.5,220.4 L379.5,221.9 L381.5,223.3 L383.5,224.7 L385.5,226.2 L387.5,227.6 L389.5,229.0 L391.5,230.5 L393.5,231.9 L395.5,233.3 L397.5,234.7 L399.5,236.1 L401.5,237.5 L403.5,239.0 L405.5,240.4 L407.5,241.8 L409.5,243.2 L411.5,244.6 L413.5,246.0 L415.5,247.4 L417.5,248.8 L419.5,250.2 L421.5,251.6 L423.5,253.0 L425.5,254.4 L427.5,255.8 L429.5,257.2 L431.5,258.6 L433.5,260.0 L435.5,261.4 L435.9,261.7"/><path d="M206.5,91.7 L208.5,93.5 L210.5,95.4 L212.5,97.2 L214.5,99.1 L216.5,100.9 L218.5,102.7 L220.5,104.6 L222.5,106.4 L224.5,108.3 L226.5,110.1 L228.5,112.0 L230.5,113.8 L232.5,115.7 L234.5,117.5 L236.5,119.3 L238.5,121.2 L240.5,123.0 L242.5,124.8 L244.5,126.6 L246.5,128.5 L248.5,130.3 L250.5,132.1 L252.5,133.9 L254.5,135.7 L256.5,137.6 L258.5,139.4 L260.5,141.2 L262.5,143.0 L264.5,144.8 L266.5,146.5 L268.5,148.3 L270.5,150.1 L272.5,151.9 L274.5,153.7 L276.5,155.4 L278.5,157.2 L280.5,159.0 L282.5,160.7 L284.5,162.5 L286.5,164.2 L288.5,165.9 L290.5,167.7 L292.5,169.4 L294.5,171.1 L296.5,172.8 L298.5,174.6 L300.5,176.3 L302.5,178.0 L304.5,179.7 L306.5,181.3 L308.5,183.0 L310.5,184.7 L312.5,186.3 L314.5,188.0 L316.5,189.7 L318.5,191.3 L320.5,192.9 L322.5,194.6 L324.5,196.2 L326.5,197.8 L328.5,199.4 L330.5,201.0 L332.5,202.6 L334.5,204.1 L336.5,205.7 L338.5,207.3 L340.5,208.8 L342.5,210.3 L344.5,211.9 L346.5,213.4 L348.5,214.9 L350.5,216.4 L352.5,217.9 L354.5,219.4 L356.5,220.9 L358.5,222.3 L360.5,223.8 L362.5,225.2 L364.5,226.6 L366.5,228.0 L368.5,229.5 L370.5,230.8 L372.5,232.2 L374.5,233.6 L376.5,235.0 L378.5,236.3 L380.5,237.7 L382.5,239.0 L384.5,240.3 L386.5,241.6 L388.5,242.9 L390.5,244.2 L392.5,245.5 L394.5,246.8 L396.5,248.1 L398.5,249.3 L400.5,250.6 L402.5,251.9 L404.5,253.1 L406.5,254.4 L408.5,255.6 L410.5,256.8 L412.5,258.1 L414.5,259.3 L416.5,260.5 L418.5,261.7 L420.5,262.9 L422.5,264.1 L424.5,265.3 L426.5,266.5 L428.5,267.8 L430.5,269.0 L432.5,270.2 L434.5,271.4 L436.5,272.6 L437.7,273.3"/><path d="M195.5,97.2 L197.5,99.6 L199.5,101.9 L201.5,104.2 L203.5,106.5 L205.5,108.7 L207.5,110.9 L209.5,113.1 L211.5,115.2 L213.5,117.3 L215.5,119.3 L217.5,121.3 L219.5,123.3 L221.5,125.3 L223.5,127.2 L225.5,129.1 L227.5,130.9 L229.5,132.8 L231.5,134.6 L233.5,136.4 L235.5,138.1 L237.5,139.9 L239.5,141.6 L241.5,143.3 L243.5,145.0 L245.5,146.7 L247.5,148.3 L249.5,150.0 L251.5,151.6 L253.5,153.2 L255.5,154.8 L257.5,156.4 L259.5,158.0 L261.5,159.6 L263.5,161.2 L265.5,162.7 L267.5,164.3 L269.5,165.8 L271.5,167.4 L273.5,169.0 L275.5,170.5 L277.5,172.1 L279.5,173.7 L281.5,175.2 L283.5,176.8 L285.5,178.4 L287.5,180.0 L289.5,181.6 L291.5,183.2 L293.5,184.8 L295.5,186.5 L297.5,188.1 L299.5,189.8 L301.5,191.4 L303.5,193.1 L305.5,194.7 L307.5,196.4 L309.5,198.1 L311.5,199.8 L313.5,201.5 L315.5,203.1 L317.5,204.8 L319.5,206.5 L321.5,208.2 L323.5,209.9 L325.5,211.5 L327.5,213.2 L329.5,214.9 L331.5,216.5 L333.5,218.2 L335.5,219.8 L337.5,221.5 L339.5,223.1 L341.5,224.7 L343.5,226.3 L345.5,227.9 L347.5,229.5 L349.5,231.1 L351.5,232.6 L353.5,234.2 L355.5,235.7 L357.5,237.2 L359.5,238.7 L361.5,240.2 L363.5,241.7 L365.5,243.1 L367.5,244.5 L369.5,245.9 L371.5,247.3 L373.5,248.6 L375.5,250.0 L377.5,251.3 L379.5,252.6 L381.5,253.8 L383.5,255.1 L385.5,256.3 L387.5,257.5 L389.5,258.7 L391.5,259.9 L393.5,261.1 L395.5,262.2 L397.5,263.4 L399.5,264.5 L401.5,265.6 L403.5,266.7 L405.5,267.8 L407.5,268.9 L409.5,269.9 L411.5,271.0 L413.5,272.1 L415.5,273.1 L417.5,274.1 L419.5,275.2 L421.5,276.2 L423.5,277.2 L425.5,278.2 L427.5,279.2 L429.5,280.2 L431.5,281.2 L433.5,282.2 L435.5,283.2 L437.5,284.2 L439.2,285.0"/><path d="M184.5,103.1 L186.5,105.4 L188.5,107.6 L190.5,109.8 L192.5,111.9 L194.5,114.1 L196.5,116.3 L198.5,118.4 L200.5,120.5 L202.5,122.6 L204.5,124.7 L206.5,126.7 L208.5,128.7 L210.5,130.7 L212.5,132.6 L214.5,134.5 L216.5,136.5 L218.5,138.3 L220.5,140.2 L222.5,142.0 L224.5,143.9 L226.5,145.7 L228.5,147.5 L230.5,149.2 L232.5,151.0 L234.5,152.7 L236.5,154.4 L238.5,156.1 L240.5,157.8 L242.5,159.5 L244.5,161.2 L246.5,162.8 L248.5,164.5 L250.5,166.1 L252.5,167.8 L254.5,169.4 L256.5,171.0 L258.5,172.6 L260.5,174.2 L262.5,175.8 L264.5,177.4 L266.5,179.0 L268.5,180.6 L270.5,182.2 L272.5,183.8 L274.5,185.3 L276.5,186.9 L278.5,188.5 L280.5,190.1 L282.5,191.7 L284.5,193.3 L286.5,194.9 L288.5,196.5 L290.5,198.1 L292.5,199.7 L294.5,201.3 L296.5,203.0 L298.5,204.6 L300.5,206.2 L302.5,207.9 L304.5,209.5 L306.5,211.2 L308.5,212.8 L310.5,214.4 L312.5,216.1 L314.5,217.7 L316.5,219.4 L318.5,221.0 L320.5,222.6 L322.5,224.3 L324.5,225.9 L326.5,227.5 L328.5,229.1 L330.5,230.7 L332.5,232.3 L334.5,233.9 L336.5,235.5 L338.5,237.1 L340.5,238.6 L342.5,240.2 L344.5,241.7 L346.5,243.2 L348.5,244.8 L350.5,246.3 L352.5,247.7 L354.5,249.2 L356.5,250.7 L358.5,252.1 L360.5,253.5 L362.5,254.9 L364.5,256.3 L366.5,257.7 L368.5,259.0 L370.5,260.3 L372.5,261.6 L374.5,262.9 L376.5,264.2 L378.5,265.4 L380.5,266.6 L382.5,267.8 L384.5,269.0 L386.5,270.2 L388.5,271.4 L390.5,272.5 L392.5,273.6 L394.5,274.7 L396.5,275.8 L398.5,276.9 L400.5,278.0 L402.5,279.0 L404.5,280.1 L406.5,281.1 L408.5,282.1 L410.5,283.1 L412.5,284.2 L414.5,285.1 L416.5,286.1 L418.5,287.1 L420.5,288.1 L422.5,289.1 L424.5,290.0 L426.5,291.0 L428.5,291.9 L430.5,292.9 L432.5,293.8 L434.5,294.8 L436.5,295.7 L438.5,296.7 L440.2,297.5"/><path d="M173.5,110.6 L175.5,112.7 L177.5,114.8 L179.5,116.9 L181.5,119.0 L183.5,121.1 L185.5,123.2 L187.5,125.3 L189.5,127.4 L191.5,129.4 L193.5,131.5 L195.5,133.5 L197.5,135.5 L199.5,137.5 L201.5,139.5 L203.5,141.4 L205.5,143.4 L207.5,145.3 L209.5,147.2 L211.5,149.0 L213.5,150.9 L215.5,152.7 L217.5,154.6 L219.5,156.4 L221.5,158.2 L223.5,160.0 L225.5,161.7 L227.5,163.5 L229.5,165.2 L231.5,166.9 L233.5,168.7 L235.5,170.4 L237.5,172.1 L239.5,173.7 L241.5,175.4 L243.5,177.1 L245.5,178.7 L247.5,180.4 L249.5,182.0 L251.5,183.7 L253.5,185.3 L255.5,186.9 L257.5,188.5 L259.5,190.1 L261.5,191.7 L263.5,193.3 L265.5,194.9 L267.5,196.5 L269.5,198.1 L271.5,199.7 L273.5,201.3 L275.5,202.9 L277.5,204.5 L279.5,206.1 L281.5,207.7 L283.5,209.3 L285.5,210.9 L287.5,212.5 L289.5,214.1 L291.5,215.7 L293.5,217.3 L295.5,218.9 L297.5,220.6 L299.5,222.2 L301.5,223.8 L303.5,225.4 L305.5,227.0 L307.5,228.7 L309.5,230.3 L311.5,231.9 L313.5,233.5 L315.5,235.1 L317.5,236.7 L319.5,238.3 L321.5,239.9 L323.5,241.5 L325.5,243.1 L327.5,244.7 L329.5,246.2 L331.5,247.8 L333.5,249.3 L335.5,250.9 L337.5,252.4 L339.5,253.9 L341.5,255.4 L343.5,256.9 L345.5,258.4 L347.5,259.8 L349.5,261.3 L351.5,262.7 L353.5,264.1 L355.5,265.5 L357.5,266.9 L359.5,268.2 L361.5,269.6 L363.5,270.9 L365.5,272.2 L367.5,273.4 L369.5,274.7 L371.5,275.9 L373.5,277.1 L375.5,278.3 L377.5,279.5 L379.5,280.6 L381.5,281.7 L383.5,282.9 L385.5,283.9 L387.5,285.0 L389.5,286.1 L391.5,287.1 L393.5,288.1 L395.5,289.1 L397.5,290.1 L399.5,291.1 L401.5,292.0 L403.5,293.0 L405.5,293.9 L407.5,294.9 L409.5,295.8 L411.5,296.7 L413.5,297.6 L415.5,298.5 L417.5,299.3 L419.5,300.2 L421.5,301.1 L423.5,301.9 L425.5,302.8 L427.5,303.6 L429.5,304.5 L431.5,305.3 L433.5,306.2 L435.5,307.0 L437.5,307.8 L439.5,308.7 L440.8,309.2"/><path d="M135.0,100.8 L137.0,102.4 L139.0,104.1 L141.0,105.8 L143.0,107.5 L145.0,109.2 L147.0,110.9 L149.0,112.6 L151.0,114.3 L153.0,116.0 L155.0,117.7 L157.0,119.4 L159.0,121.1 L161.0,122.8 L163.0,124.5 L165.0,126.2 L167.0,127.9 L169.0,129.6 L171.0,131.3 L173.0,133.0 L175.0,134.7 L177.0,136.4 L179.0,138.1 L181.0,139.8 L183.0,141.5 L185.0,143.2 L187.0,144.9 L189.0,146.6 L191.0,148.3 L193.0,150.0 L195.0,151.7 L197.0,153.4 L199.0,155.1 L201.0,156.9 L203.0,158.6 L205.0,160.3 L207.0,162.0 L209.0,163.7 L211.0,165.4 L213.0,167.1 L215.0,168.8 L217.0,170.5 L219.0,172.2 L221.0,173.9 L223.0,175.6 L225.0,177.3 L227.0,179.0 L229.0,180.7 L231.0,182.5 L233.0,184.2 L235.0,185.9 L237.0,187.6 L239.0,189.3 L241.0,191.0 L243.0,192.7 L245.0,194.4 L247.0,196.1 L249.0,197.7 L251.0,199.4 L253.0,201.1 L255.0,202.8 L257.0,204.5 L259.0,206.2 L261.0,207.9 L263.0,209.6 L265.0,211.2 L267.0,212.9 L269.0,214.6 L271.0,216.3 L273.0,217.9 L275.0,219.6 L277.0,221.3 L279.0,222.9 L281.0,224.6 L283.0,226.2 L285.0,227.9 L287.0,229.5 L289.0,231.2 L291.0,232.8 L293.0,234.5 L295.0,236.1 L297.0,237.7 L299.0,239.4 L301.0,241.0 L303.0,242.6 L305.0,244.2 L307.0,245.8 L309.0,247.4 L311.0,249.0 L313.0,250.6 L315.0,252.1 L317.0,253.7 L319.0,255.2 L321.0,256.8 L323.0,258.3 L325.0,259.8 L327.0,261.3 L329.0,262.8 L331.0,264.3 L333.0,265.8 L335.0,267.2 L337.0,268.7 L339.0,270.1 L341.0,271.5 L343.0,272.9 L345.0,274.3 L347.0,275.6 L349.0,277.0 L351.0,278.3 L353.0,279.6 L355.0,280.9 L357.0,282.2 L359.0,283.5 L361.0,284.7 L363.0,285.9 L365.0,287.1 L367.0,288.3 L369.0,289.4 L371.0,290.6 L373.0,291.7 L375.0,292.8 L377.0,293.8 L379.0,294.9 L381.0,295.9 L383.0,296.9 L385.0,297.9 L387.0,298.9 L389.0,299.8 L391.0,300.8 L393.0,301.7 L395.0,302.6 L397.0,303.5 L399.0,304.4 L401.0,305.3 L403.0,306.1 L405.0,307.0 L407.0,307.8 L409.0,308.6 L411.0,309.5 L413.0,310.3 L415.0,311.1 L417.0,311.9 L419.0,312.6 L421.0,313.4 L423.0,314.2 L425.0,315.0 L427.0,315.7 L429.0,316.5 L431.0,317.2 L433.0,318.0 L435.0,318.8 L437.0,319.5 L438.3,320.0"/><path d="M135.0,119.3 L137.0,121.0 L139.0,122.7 L141.0,124.4 L143.0,126.1 L145.0,127.8 L147.0,129.5 L149.0,131.2 L151.0,132.9 L153.0,134.6 L155.0,136.3 L157.0,138.0 L159.0,139.7 L161.0,141.4 L163.0,143.1 L165.0,144.8 L167.0,146.5 L169.0,148.2 L171.0,149.9 L173.0,151.6 L175.0,153.3 L177.0,155.0 L179.0,156.7 L181.0,158.4 L183.0,160.1 L185.0,161.8 L187.0,163.5 L189.0,165.2 L191.0,166.9 L193.0,168.6 L195.0,170.3 L197.0,172.0 L199.0,173.7 L201.0,175.5 L203.0,177.2 L205.0,178.9 L207.0,180.6 L209.0,182.3 L211.0,184.0 L213.0,185.7 L215.0,187.4 L217.0,189.1 L219.0,190.8 L221.0,192.5 L223.0,194.2 L225.0,195.9 L227.0,197.6 L229.0,199.3 L231.0,201.0 L233.0,202.7 L235.0,204.4 L237.0,206.1 L239.0,207.8 L241.0,209.5 L243.0,211.2 L245.0,212.9 L247.0,214.6 L249.0,216.3 L251.0,217.9 L253.0,219.6 L255.0,221.3 L257.0,223.0 L259.0,224.6 L261.0,226.3 L263.0,228.0 L265.0,229.6 L267.0,231.3 L269.0,232.9 L271.0,234.6 L273.0,236.2 L275.0,237.9 L277.0,239.5 L279.0,241.1 L281.0,242.7 L283.0,244.4 L285.0,246.0 L287.0,247.6 L289.0,249.2 L291.0,250.8 L293.0,252.4 L295.0,254.0 L297.0,255.6 L299.0,257.1 L301.0,258.7 L303.0,260.3 L305.0,261.8 L307.0,263.4 L309.0,264.9 L311.0,266.4 L313.0,267.9 L315.0,269.4 L317.0,270.9 L319.0,272.4 L321.0,273.9 L323.0,275.3 L325.0,276.8 L327.0,278.2 L329.0,279.6 L331.0,281.0 L333.0,282.4 L335.0,283.8 L337.0,285.2 L339.0,286.5 L341.0,287.8 L343.0,289.2 L345.0,290.5 L347.0,291.7 L349.0,293.0 L351.0,294.2 L353.0,295.4 L355.0,296.6 L357.0,297.8 L359.0,299.0 L361.0,300.1 L363.0,301.3 L365.0,302.4 L367.0,303.4 L369.0,304.5 L371.0,305.5 L373.0,306.5 L375.0,307.5 L377.0,308.5 L379.0,309.4 L381.0,310.3 L383.0,311.2 L385.0,312.1 L387.0,313.0 L389.0,313.8 L391.0,314.7 L393.0,315.5 L395.0,316.3 L397.0,317.1 L399.0,317.9 L401.0,318.6 L403.0,319.4 L405.0,320.1 L407.0,320.8 L409.0,321.6 L411.0,322.3 L413.0,323.0 L415.0,323.7 L417.0,324.3 L419.0,325.0 L421.0,325.7 L423.0,326.3 L425.0,327.0 L427.0,327.7 L429.0,328.3 L431.0,329.0 L433.0,329.6 L435.0,330.3 L436.7,330.8"/><path d="M135.0,139.8 L137.0,141.5 L139.0,143.2 L141.0,144.9 L143.0,146.6 L145.0,148.3 L147.0,150.0 L149.0,151.7 L151.0,153.4 L153.0,155.1 L155.0,156.8 L157.0,158.5 L159.0,160.2 L161.0,161.9 L163.0,163.6 L165.0,165.3 L167.0,167.0 L169.0,168.7 L171.0,170.4 L173.0,172.1 L175.0,173.8 L177.0,175.5 L179.0,177.2 L181.0,178.9 L183.0,180.6 L185.0,182.3 L187.0,184.0 L189.0,185.7 L191.0,187.4 L193.0,189.1 L195.0,190.8 L197.0,192.5 L199.0,194.2 L201.0,195.8 L203.0,197.5 L205.0,199.2 L207.0,200.9 L209.0,202.6 L211.0,204.3 L213.0,206.0 L215.0,207.7 L217.0,209.3 L219.0,211.0 L221.0,212.7 L223.0,214.4 L225.0,216.1 L227.0,217.7 L229.0,219.4 L231.0,221.1 L233.0,222.7 L235.0,224.4 L237.0,226.1 L239.0,227.7 L241.0,229.4 L243.0,231.0 L245.0,232.7 L247.0,234.3 L249.0,236.0 L251.0,237.6 L253.0,239.3 L255.0,240.9 L257.0,242.6 L259.0,244.2 L261.0,245.8 L263.0,247.4 L265.0,249.1 L267.0,250.7 L269.0,252.3 L271.0,253.9 L273.0,255.5 L275.0,257.1 L277.0,258.7 L279.0,260.3 L281.0,261.9 L283.0,263.5 L285.0,265.1 L287.0,266.6 L289.0,268.2 L291.0,269.8 L293.0,271.3 L295.0,272.9 L297.0,274.5 L299.0,276.0 L301.0,277.5 L303.0,279.1 L305.0,280.6 L307.0,282.1 L309.0,283.6 L311.0,285.1 L313.0,286.6 L315.0,288.0 L317.0,289.5 L319.0,290.9 L321.0,292.4 L323.0,293.8 L325.0,295.2 L327.0,296.6 L329.0,298.0 L331.0,299.3 L333.0,300.7 L335.0,302.0 L337.0,303.3 L339.0,304.6 L341.0,305.8 L343.0,307.1 L345.0,308.3 L347.0,309.5 L349.0,310.7 L351.0,311.9 L353.0,313.0 L355.0,314.1 L357.0,315.2 L359.0,316.3 L361.0,317.3 L363.0,318.3 L365.0,319.3 L367.0,320.3 L369.0,321.2 L371.0,322.2 L373.0,323.0 L375.0,323.9 L377.0,324.7 L379.0,325.5 L381.0,326.3 L383.0,327.1 L385.0,327.8 L387.0,328.5 L389.0,329.2 L391.0,329.9 L393.0,330.5 L395.0,331.2 L397.0,331.8 L399.0,332.4 L401.0,333.0 L403.0,333.5 L405.0,334.1 L407.0,334.6 L409.0,335.2 L411.0,335.7 L413.0,336.2 L415.0,336.7 L417.0,337.2 L419.0,337.7 L421.0,338.2 L423.0,338.7 L425.0,339.1 L427.0,339.6 L429.0,340.1 L431.0,340.5 L433.0,341.0"/><path d="M135.0,162.8 L137.0,164.5 L139.0,166.2 L141.0,167.9 L143.0,169.7 L145.0,171.4 L147.0,173.1 L149.0,174.9 L151.0,176.6 L153.0,178.3 L155.0,180.0 L157.0,181.8 L159.0,183.5 L161.0,185.2 L163.0,186.9 L165.0,188.6 L167.0,190.3 L169.0,192.1 L171.0,193.8 L173.0,195.5 L175.0,197.2 L177.0,198.9 L179.0,200.5 L181.0,202.2 L183.0,203.9 L185.0,205.6 L187.0,207.3 L189.0,208.9 L191.0,210.6 L193.0,212.2 L195.0,213.9 L197.0,215.5 L199.0,217.2 L201.0,218.8 L203.0,220.4 L205.0,222.1 L207.0,223.7 L209.0,225.3 L211.0,226.9 L213.0,228.5 L215.0,230.1 L217.0,231.7 L219.0,233.3 L221.0,234.9 L223.0,236.4 L225.0,238.0 L227.0,239.6 L229.0,241.1 L231.0,242.7 L233.0,244.3 L235.0,245.8 L237.0,247.4 L239.0,248.9 L241.0,250.5 L243.0,252.0 L245.0,253.6 L247.0,255.1 L249.0,256.6 L251.0,258.2 L253.0,259.7 L255.0,261.2 L257.0,262.8 L259.0,264.3 L261.0,265.8 L263.0,267.4 L265.0,268.9 L267.0,270.4 L269.0,271.9 L271.0,273.5 L273.0,275.0 L275.0,276.5 L277.0,278.0 L279.0,279.6 L281.0,281.1 L283.0,282.6 L285.0,284.2 L287.0,285.7 L289.0,287.2 L291.0,288.8 L293.0,290.3 L295.0,291.8 L297.0,293.4 L299.0,294.9 L301.0,296.4 L303.0,298.0 L305.0,299.5 L307.0,301.0 L309.0,302.5 L311.0,304.0 L313.0,305.5 L315.0,307.0 L317.0,308.5 L319.0,309.9 L321.0,311.4 L323.0,312.8 L325.0,314.2 L327.0,315.6 L329.0,317.0 L331.0,318.4 L333.0,319.7 L335.0,321.1 L337.0,322.4 L339.0,323.7 L341.0,324.9 L343.0,326.2 L345.0,327.4 L347.0,328.6 L349.0,329.7 L351.0,330.8 L353.0,332.0 L355.0,333.0 L357.0,334.1 L359.0,335.1 L361.0,336.0 L363.0,337.0 L365.0,337.9 L367.0,338.8 L369.0,339.6 L371.0,340.4 L373.0,341.1 L375.0,341.9 L377.0,342.6 L379.0,343.2 L381.0,343.8 L383.0,344.4 L385.0,345.0 L387.0,345.5 L389.0,346.0 L391.0,346.4 L393.0,346.9 L395.0,347.3 L397.0,347.7 L399.0,348.1 L401.0,348.4 L403.0,348.8 L405.0,349.1 L407.0,349.4 L409.0,349.7 L411.0,350.0 L413.0,350.2 L415.0,350.5 L417.0,350.7 L419.0,350.9 L421.0,351.2 L423.0,351.4 L425.0,351.6 L427.0,351.8 L429.0,352.0 L430.8,352.2"/><path d="M135.0,187.8 L137.0,189.5 L139.0,191.2 L141.0,192.9 L143.0,194.7 L145.0,196.4 L147.0,198.1 L149.0,199.9 L151.0,201.6 L153.0,203.3 L155.0,205.0 L157.0,206.8 L159.0,208.5 L161.0,210.2 L163.0,211.9 L165.0,213.6 L167.0,215.3 L169.0,217.0 L171.0,218.7 L173.0,220.4 L175.0,222.1 L177.0,223.8 L179.0,225.5 L181.0,227.2 L183.0,228.9 L185.0,230.6 L187.0,232.2 L189.0,233.9 L191.0,235.6 L193.0,237.2 L195.0,238.9 L197.0,240.5 L199.0,242.2 L201.0,243.8 L203.0,245.4 L205.0,247.1 L207.0,248.7 L209.0,250.3 L211.0,251.9 L213.0,253.5 L215.0,255.1 L217.0,256.7 L219.0,258.3 L221.0,259.9 L223.0,261.5 L225.0,263.0 L227.0,264.6 L229.0,266.2 L231.0,267.7 L233.0,269.3 L235.0,270.8 L237.0,272.4 L239.0,273.9 L241.0,275.5 L243.0,277.0 L245.0,278.5 L247.0,280.0 L249.0,281.6 L251.0,283.1 L253.0,284.6 L255.0,286.1 L257.0,287.6 L259.0,289.1 L261.0,290.6 L263.0,292.1 L265.0,293.6 L267.0,295.1 L269.0,296.6 L271.0,298.1 L273.0,299.5 L275.0,301.0 L277.0,302.5 L279.0,304.0 L281.0,305.4 L283.0,306.9 L285.0,308.4 L287.0,309.8 L289.0,311.3 L291.0,312.7 L293.0,314.2 L295.0,315.6 L297.0,317.1 L299.0,318.5 L301.0,319.9 L303.0,321.4 L305.0,322.8 L307.0,324.2 L309.0,325.6 L311.0,327.0 L313.0,328.4 L315.0,329.7 L317.0,331.1 L319.0,332.4 L321.0,333.7 L323.0,335.1 L325.0,336.3 L327.0,337.6 L329.0,338.9 L331.0,340.1 L333.0,341.3 L335.0,342.5 L337.0,343.7 L339.0,344.9 L341.0,346.0 L343.0,347.1 L345.0,348.2 L347.0,349.2 L349.0,350.2 L351.0,351.2 L353.0,352.2 L355.0,353.2 L357.0,354.1 L359.0,355.0 L361.0,355.8 L363.0,356.6 L365.0,357.4 L367.0,358.1 L369.0,358.9 L371.0,359.5 L373.0,360.2 L375.0,360.8 L377.0,361.4 L379.0,361.9 L381.0,362.4 L383.0,362.9 L385.0,363.3 L387.0,363.8 L389.0,364.2 L391.0,364.5 L393.0,364.9 L395.0,365.2 L397.0,365.6 L399.0,365.9 L401.0,366.2 L403.0,366.4 L405.0,366.7 L407.0,366.9 L409.0,367.2 L411.0,367.4 L413.0,367.6 L415.0,367.8 L417.0,368.0 L419.0,368.2 L421.0,368.4 L421.5,368.5"/><path d="M188.0,280.0 L190.0,281.4 L192.0,282.8 L194.0,284.1 L196.0,285.5 L198.0,286.9 L200.0,288.2 L202.0,289.6 L204.0,291.0 L206.0,292.3 L208.0,293.7 L210.0,295.0 L212.0,296.4 L214.0,297.7 L216.0,299.1 L218.0,300.4 L220.0,301.8 L222.0,303.1 L224.0,304.5 L226.0,305.8 L228.0,307.1 L230.0,308.5 L232.0,309.8 L234.0,311.2 L236.0,312.5 L238.0,313.9 L240.0,315.2 L242.0,316.6 L244.0,318.0 L246.0,319.3 L248.0,320.7 L250.0,322.1 L252.0,323.4 L254.0,324.8 L256.0,326.2 L258.0,327.6 L260.0,329.0 L262.0,330.4 L264.0,331.8 L266.0,333.2 L268.0,334.6 L270.0,336.1 L272.0,337.5 L274.0,338.9 L276.0,340.3 L278.0,341.7 L280.0,343.1 L282.0,344.5 L284.0,345.9 L286.0,347.3 L288.0,348.6 L290.0,350.0 L292.0,351.3 L294.0,352.6 L296.0,353.9 L298.0,355.2 L300.0,356.5 L302.0,357.8 L304.0,359.0 L306.0,360.2 L308.0,361.4 L310.0,362.5 L312.0,363.7 L314.0,364.8 L316.0,365.9 L318.0,367.0 L320.0,368.0 L322.0,369.1 L324.0,370.1 L326.0,371.1 L328.0,372.0 L330.0,373.0 L332.0,373.9 L334.0,374.8 L336.0,375.6 L338.0,376.4 L340.0,377.3 L342.0,378.0 L344.0,378.8 L346.0,379.5 L348.0,380.2 L350.0,380.9 L352.0,381.5 L354.0,382.1 L356.0,382.7 L358.0,383.3 L360.0,383.8 L362.0,384.3 L364.0,384.8 L366.0,385.2 L368.0,385.7 L370.0,386.1 L372.0,386.4 L374.0,386.8 L376.0,387.1 L378.0,387.4 L380.0,387.7 L382.0,388.0 L384.0,388.3 L386.0,388.6 L388.0,388.9 L390.0,389.1 L392.0,389.4 L393.5,389.6"/></g><g clip-path="url(#cm)" fill="none" stroke="#101818" stroke-width="1.2"><path d="M419.6,184.6 L420.6,183.1 L421.3,181.6 L421.7,180.1 L421.8,178.6 L421.7,177.1 L421.7,175.6 L421.6,174.1 L421.6,172.6 L421.6,171.1 L421.5,169.6 L421.5,168.1 L421.4,166.6 L421.4,165.1 L421.3,163.6 L421.3,162.1 L421.3,160.6 L421.3,159.1 L421.3,157.6 L421.3,156.1 L421.3,154.6 L421.3,153.1 L421.3,151.6 L421.3,150.1"/><path d="M422.7,198.5 L423.6,197.0 L424.4,195.5 L425.2,194.0 L425.8,192.5 L426.4,191.0 L426.9,189.5 L427.3,188.0 L427.6,186.5 L427.8,185.0 L427.9,183.5 L428.0,182.0 L428.0,180.5 L427.8,179.0 L427.6,177.5 L427.5,176.0 L427.4,174.5 L427.3,173.0 L427.2,171.5 L427.1,170.0 L427.0,168.5 L426.9,167.0 L426.8,165.5 L426.6,164.0 L426.5,162.5 L426.4,161.0 L426.4,159.5 L426.4,158.0 L426.4,156.5 L426.4,155.0 L426.4,153.5 L426.4,152.0 L426.4,150.5"/><path d="M424.8,211.0 L425.9,209.5 L426.9,208.0 L427.8,206.5 L428.7,205.0 L429.5,203.5 L430.3,202.0 L431.0,200.5 L431.6,199.0 L432.2,197.5 L432.6,196.0 L433.0,194.5 L433.4,193.0 L433.6,191.5 L433.9,190.0 L434.0,188.5 L434.1,187.0 L434.2,185.5 L434.2,184.0 L434.1,182.5 L434.0,181.0 L433.8,179.5 L433.6,178.0 L433.4,176.5 L433.2,175.0 L433.1,173.5 L432.9,172.0 L432.8,170.5 L432.6,169.0 L432.4,167.5 L432.2,166.0 L432.0,164.5 L431.8,163.0 L431.6,161.5 L431.6,160.0 L431.6,158.5 L431.6,157.0 L431.6,155.5 L431.6,154.0 L431.6,152.5 L431.6,151.0"/><path d="M428.3,223.5 L429.1,222.0 L429.9,220.5 L430.7,219.0 L431.4,217.5 L432.2,216.0 L432.8,214.5 L433.5,213.0 L434.1,211.5 L434.8,210.0 L435.4,208.5 L436.0,207.0 L436.6,205.5 L437.2,204.0 L437.7,202.5 L438.1,201.0 L438.5,199.5 L438.8,198.0 L439.1,196.5 L439.3,195.0 L439.5,193.5 L439.6,192.0 L439.7,190.5 L439.7,189.0 L439.7,187.5 L439.6,186.0 L439.5,184.5 L439.4,183.0 L439.2,181.5 L439.0,180.0 L438.8,178.5 L438.5,177.0 L438.3,175.5 L438.1,174.0 L437.9,172.5 L437.7,171.0 L437.5,169.5 L437.2,168.0 L436.9,166.5 L436.7,165.0 L436.4,163.5 L436.1,162.0 L436.0,160.5 L436.0,159.0 L436.0,157.5 L436.0,156.0 L436.0,154.5 L436.0,153.0 L436.0,151.5"/><path d="M431.0,236.0 L431.8,234.5 L432.7,233.0 L433.5,231.5 L434.3,230.0 L435.0,228.5 L435.8,227.0 L436.5,225.5 L437.1,224.0 L437.7,222.5 L438.3,221.0 L438.8,219.5 L439.3,218.0 L439.8,216.5 L440.3,215.0 L440.7,213.5 L441.1,212.0 L441.6,210.5 L442.0,209.0 L442.4,207.5 L442.8,206.0 L443.2,204.5 L443.5,203.0 L443.8,201.5 L444.0,200.0 L444.2,198.5 L444.3,197.0 L444.4,195.5 L444.5,194.0 L444.5,192.5 L444.5,191.0 L444.4,189.5 L444.3,188.0 L444.2,186.5 L444.1,185.0 L443.9,183.5 L443.7,182.0 L443.4,180.5 L443.2,179.0 L442.9,177.5 L442.6,176.0 L442.4,174.5 L442.2,173.0 L441.9,171.5 L441.7,170.0 L441.3,168.5 L441.0,167.0 L440.7,165.5 L440.3,164.0 L440.0,162.5 L439.8,161.0 L439.8,159.5 L439.8,158.0 L439.8,156.5 L439.8,155.0 L439.8,153.5 L439.8,152.0 L439.8,150.5"/><path d="M433.8,249.2 L434.5,247.7 L435.2,246.2 L436.0,244.7 L436.7,243.2 L437.4,241.7 L438.0,240.2 L438.7,238.7 L439.4,237.2 L440.0,235.7 L440.6,234.2 L441.2,232.7 L441.8,231.2 L442.3,229.7 L442.8,228.2 L443.3,226.7 L443.8,225.2 L444.3,223.7 L444.6,222.2 L445.0,220.7 L445.4,219.2 L445.7,217.7 L446.0,216.2 L446.3,214.7 L446.5,213.2 L446.8,211.7 L447.1,210.2 L447.3,208.7 L447.6,207.2 L447.8,205.7 L448.0,204.2 L448.2,202.7 L448.3,201.2 L448.5,199.7 L448.5,198.2 L448.5,196.7 L448.5,195.2 L448.4,193.7 L448.3,192.2 L448.2,190.7 L448.1,189.2 L447.9,187.7 L447.8,186.2 L447.6,184.7 L447.3,183.2 L447.1,181.7 L446.8,180.2 L446.5,178.7 L446.2,177.2 L445.9,175.7 L445.7,174.2 L445.4,172.7 L445.1,171.2 L444.8,169.7 L444.4,168.2 L444.1,166.7 L443.7,165.2 L443.3,163.7 L442.9,162.2 L442.7,160.7 L442.7,159.2 L442.7,157.7 L442.7,156.2 L442.7,154.7 L442.7,153.2 L442.7,151.7 L442.7,150.2"/><path d="M435.9,261.7 L436.6,260.2 L437.3,258.7 L438.0,257.2 L438.7,255.7 L439.3,254.2 L440.0,252.7 L440.6,251.2 L441.3,249.7 L441.9,248.2 L442.4,246.7 L443.0,245.2 L443.5,243.7 L444.0,242.2 L444.6,240.7 L445.1,239.2 L445.5,237.7 L446.0,236.2 L446.5,234.7 L446.9,233.2 L447.3,231.7 L447.8,230.2 L448.1,228.7 L448.5,227.2 L448.8,225.7 L449.1,224.2 L449.4,222.7 L449.7,221.2 L449.9,219.7 L450.1,218.2 L450.3,216.7 L450.5,215.2 L450.6,213.7 L450.8,212.2 L450.9,210.7 L451.1,209.2 L451.3,207.7 L451.4,206.2 L451.5,204.7 L451.6,203.2 L451.7,201.7 L451.7,200.2 L451.7,198.7 L451.6,197.2 L451.5,195.7 L451.4,194.2 L451.3,192.7 L451.1,191.2 L451.0,189.7 L450.8,188.2 L450.6,186.7 L450.3,185.2 L450.1,183.7 L449.8,182.2 L449.5,180.7 L449.2,179.2 L448.9,177.7 L448.6,176.2 L448.3,174.7 L448.0,173.2 L447.7,171.7 L447.4,170.2 L447.0,168.7 L446.6,167.2 L446.2,165.7 L445.7,164.2 L445.3,162.7 L445.0,161.2 L445.0,159.7 L445.0,158.2 L445.0,156.7 L445.0,155.2 L445.0,153.7 L445.0,152.2 L445.0,150.7"/><path d="M437.7,273.3 L438.4,271.8 L439.0,270.3 L439.6,268.8 L440.2,267.3 L440.8,265.8 L441.4,264.3 L442.0,262.8 L442.6,261.3 L443.2,259.8 L443.7,258.3 L444.3,256.8 L444.8,255.3 L445.3,253.8 L445.8,252.3 L446.4,250.8 L446.9,249.3 L447.3,247.8 L447.8,246.3 L448.2,244.8 L448.6,243.3 L449.0,241.8 L449.4,240.3 L449.8,238.8 L450.1,237.3 L450.5,235.8 L450.8,234.3 L451.2,232.8 L451.5,231.3 L451.8,229.8 L452.0,228.3 L452.3,226.8 L452.5,225.3 L452.7,223.8 L452.9,222.3 L453.0,220.8 L453.2,219.3 L453.3,217.8 L453.4,216.3 L453.5,214.8 L453.6,213.3 L453.7,211.8 L453.7,210.3 L453.8,208.8 L453.9,207.3 L453.9,205.8 L454.0,204.3 L454.0,202.8 L454.0,201.3 L454.0,199.8 L453.9,198.3 L453.8,196.8 L453.6,195.3 L453.5,193.8 L453.3,192.3 L453.1,190.8 L452.9,189.3 L452.6,187.8 L452.4,186.3 L452.1,184.8 L451.9,183.3 L451.6,181.8 L451.3,180.3 L450.9,178.8 L450.6,177.3 L450.3,175.8 L450.0,174.3 L449.7,172.8 L449.3,171.3 L449.0,169.8 L448.6,168.3 L448.1,166.8 L447.7,165.3 L447.2,163.8 L446.8,162.3 L446.6,160.8 L446.6,159.3 L446.6,157.8 L446.6,156.3 L446.6,154.8 L446.6,153.3 L446.6,151.8 L446.6,150.3"/><path d="M439.2,285.0 L439.7,283.5 L440.3,282.0 L440.9,280.5 L441.5,279.0 L442.0,277.5 L442.6,276.0 L443.1,274.5 L443.7,273.0 L444.2,271.5 L444.7,270.0 L445.2,268.5 L445.7,267.0 L446.2,265.5 L446.7,264.0 L447.3,262.5 L447.7,261.0 L448.2,259.5 L448.6,258.0 L449.0,256.5 L449.5,255.0 L449.9,253.5 L450.3,252.0 L450.7,250.5 L451.1,249.0 L451.5,247.5 L451.9,246.0 L452.2,244.5 L452.5,243.0 L452.8,241.5 L453.1,240.0 L453.3,238.5 L453.6,237.0 L453.9,235.5 L454.1,234.0 L454.4,232.5 L454.6,231.0 L454.8,229.5 L455.0,228.0 L455.1,226.5 L455.2,225.0 L455.4,223.5 L455.5,222.0 L455.5,220.5 L455.6,219.0 L455.7,217.5 L455.7,216.0 L455.7,214.5 L455.8,213.0 L455.8,211.5 L455.8,210.0 L455.8,208.5 L455.8,207.0 L455.8,205.5 L455.8,204.0 L455.8,202.5 L455.7,201.0 L455.6,199.5 L455.5,198.0 L455.3,196.5 L455.1,195.0 L454.9,193.5 L454.7,192.0 L454.5,190.5 L454.2,189.0 L454.0,187.5 L453.7,186.0 L453.4,184.5 L453.1,183.0 L452.8,181.5 L452.5,180.0 L452.2,178.5 L451.8,177.0 L451.5,175.5 L451.2,174.0 L450.8,172.5 L450.5,171.0 L450.1,169.5 L449.7,168.0 L449.2,166.5 L448.8,165.0 L448.3,163.5 L447.8,162.0 L447.7,160.5 L447.7,159.0 L447.7,157.5 L447.7,156.0 L447.7,154.5 L447.7,153.0 L447.7,151.5"/><path d="M440.2,297.5 L440.8,296.0 L441.3,294.5 L441.8,293.0 L442.4,291.5 L442.9,290.0 L443.4,288.5 L443.9,287.0 L444.4,285.5 L444.9,284.0 L445.4,282.5 L445.9,281.0 L446.4,279.5 L446.8,278.0 L447.3,276.5 L447.8,275.0 L448.2,273.5 L448.6,272.0 L449.1,270.5 L449.5,269.0 L449.9,267.5 L450.3,266.0 L450.8,264.5 L451.2,263.0 L451.6,261.5 L451.9,260.0 L452.3,258.5 L452.6,257.0 L452.9,255.5 L453.3,254.0 L453.6,252.5 L453.9,251.0 L454.3,249.5 L454.6,248.0 L454.8,246.5 L455.1,245.0 L455.3,243.5 L455.5,242.0 L455.7,240.5 L455.9,239.0 L456.1,237.5 L456.3,236.0 L456.4,234.5 L456.6,233.0 L456.8,231.5 L456.9,230.0 L457.0,228.5 L457.1,227.0 L457.1,225.5 L457.2,224.0 L457.2,222.5 L457.3,221.0 L457.3,219.5 L457.3,218.0 L457.3,216.5 L457.3,215.0 L457.2,213.5 L457.2,212.0 L457.1,210.5 L457.1,209.0 L457.1,207.5 L457.0,206.0 L456.9,204.5 L456.9,203.0 L456.8,201.5 L456.7,200.0 L456.5,198.5 L456.3,197.0 L456.1,195.5 L455.9,194.0 L455.6,192.5 L455.4,191.0 L455.1,189.5 L454.8,188.0 L454.5,186.5 L454.3,185.0 L453.9,183.5 L453.6,182.0 L453.3,180.5 L453.0,179.0 L452.6,177.5 L452.3,176.0 L452.0,174.5 L451.6,173.0 L451.3,171.5 L451.0,170.0 L450.5,168.5 L450.0,167.0 L449.5,165.5 L449.1,164.0 L448.6,162.5 L448.3,161.0 L448.3,159.5 L448.3,158.0 L448.3,156.5 L448.3,155.0 L448.3,153.5 L448.3,152.0 L448.3,150.5"/><path d="M440.8,309.2 L441.3,307.7 L441.8,306.2 L442.3,304.7 L442.9,303.2 L443.4,301.7 L443.8,300.2 L444.3,298.7 L444.8,297.2 L445.2,295.7 L445.7,294.2 L446.2,292.7 L446.6,291.2 L447.1,289.7 L447.6,288.2 L448.0,286.7 L448.4,285.2 L448.8,283.7 L449.3,282.2 L449.7,280.7 L450.1,279.2 L450.5,277.7 L450.9,276.2 L451.3,274.7 L451.7,273.2 L452.0,271.7 L452.4,270.2 L452.8,268.7 L453.1,267.2 L453.5,265.7 L453.8,264.2 L454.2,262.7 L454.5,261.2 L454.8,259.7 L455.1,258.2 L455.3,256.7 L455.6,255.2 L455.9,253.7 L456.1,252.2 L456.4,250.7 L456.6,249.2 L456.9,247.7 L457.1,246.2 L457.2,244.7 L457.4,243.2 L457.5,241.7 L457.7,240.2 L457.8,238.7 L458.0,237.2 L458.1,235.7 L458.2,234.2 L458.3,232.7 L458.4,231.2 L458.5,229.7 L458.5,228.2 L458.5,226.7 L458.6,225.2 L458.6,223.7 L458.5,222.2 L458.5,220.7 L458.5,219.2 L458.4,217.7 L458.4,216.2 L458.3,214.7 L458.2,213.2 L458.2,211.7 L458.1,210.2 L458.0,208.7 L457.9,207.2 L457.8,205.7 L457.7,204.2 L457.6,202.7 L457.5,201.2 L457.4,199.7 L457.2,198.2 L456.9,196.7 L456.7,195.2 L456.4,193.7 L456.2,192.2 L455.9,190.7 L455.6,189.2 L455.3,187.7 L455.0,186.2 L454.7,184.7 L454.4,183.2 L454.1,181.7 L453.7,180.2 L453.4,178.7 L453.0,177.2 L452.7,175.7 L452.4,174.2 L452.0,172.7 L451.7,171.2 L451.3,169.7 L450.9,168.2 L450.4,166.7 L449.9,165.2 L449.4,163.7 L448.9,162.2 L448.7,160.7 L448.7,159.2 L448.7,157.7 L448.7,156.2 L448.7,154.7 L448.7,153.2 L448.7,151.7 L448.7,150.2"/><path d="M438.3,320.0 L453.8,318.5 L458.1,317.0 L461.2,315.5 L463.7,314.0 L465.8,312.5 L467.7,311.0 L468.9,309.5 L469.0,308.0 L469.1,306.5 L469.2,305.0 L469.3,303.5 L469.4,302.0 L469.5,300.5 L469.6,299.0 L469.7,297.5 L469.8,296.0 L469.9,294.5 L470.0,293.0 L470.1,291.5 L470.2,290.0 L470.3,288.5 L470.4,287.0 L470.5,285.5 L470.6,284.0 L470.7,282.5 L470.7,281.0 L470.8,279.5 L470.8,278.0 L470.8,276.5 L470.8,275.0 L470.8,273.5 L470.8,272.0 L470.8,270.5 L470.8,269.0 L470.8,267.5 L470.8,266.0 L470.8,264.5 L470.8,263.0 L470.8,261.5 L470.7,260.0 L470.5,258.5 L470.4,257.0 L470.3,255.5 L470.2,254.0 L470.1,252.5 L470.0,251.0 L469.9,249.5 L469.8,248.0 L469.7,246.5 L469.5,245.0 L469.3,243.5 L469.1,242.0 L468.8,240.5 L468.6,239.0 L468.4,237.5 L468.2,236.0 L468.0,234.5 L467.8,233.0 L467.6,231.5 L467.4,230.0 L467.1,228.5 L466.8,227.0 L466.6,225.5 L466.3,224.0 L466.0,222.5 L465.7,221.0 L465.4,219.5 L465.1,218.0 L464.9,216.5 L464.6,215.0 L464.3,213.5 L464.0,212.0 L463.7,210.5 L463.4,209.0 L463.1,207.5 L462.8,206.0 L462.5,204.5 L462.2,203.0 L461.9,201.5 L461.6,200.0 L461.2,198.5 L460.8,197.0 L460.5,195.5 L460.1,194.0 L459.7,192.5 L459.3,191.0 L459.0,189.5 L458.6,188.0 L458.2,186.5 L457.8,185.0 L457.5,183.5 L457.1,182.0 L456.7,180.5 L456.3,179.0 L456.0,177.5 L455.6,176.0 L455.2,174.5 L454.8,173.0 L454.5,171.5 L454.1,170.0 L453.6,168.5 L453.0,167.0 L452.5,165.5 L452.0,164.0 L451.5,162.5 L451.1,161.0 L451.1,159.5 L451.1,158.0 L451.1,156.5 L451.1,155.0 L451.1,153.5 L451.1,152.0 L451.1,150.5"/><path d="M436.7,330.8 L451.2,329.3 L455.3,327.8 L458.2,326.3 L460.6,324.8 L462.6,323.3 L464.5,321.8 L466.1,320.3 L467.6,318.8 L468.6,317.3 L468.7,315.8 L468.8,314.3 L468.9,312.8 L469.0,311.3 L469.0,309.8 L469.1,308.3 L469.2,306.8 L469.3,305.3 L469.4,303.8 L469.5,302.3 L469.6,300.8 L469.7,299.3 L469.8,297.8 L469.9,296.3 L470.0,294.8 L470.1,293.3 L470.2,291.8 L470.3,290.3 L470.4,288.8 L470.5,287.3 L470.6,285.8 L470.7,284.3 L470.8,282.8 L470.9,281.3 L470.9,279.8 L470.9,278.3 L470.9,276.8 L470.9,275.3 L470.9,273.8 L470.9,272.3 L470.9,270.8 L470.9,269.3 L470.9,267.8 L470.9,266.3 L470.9,264.8 L470.9,263.3 L470.9,261.8 L470.8,260.3 L470.7,258.8 L470.6,257.3 L470.5,255.8 L470.4,254.3 L470.3,252.8 L470.2,251.3 L470.1,249.8 L469.9,248.3 L469.8,246.8 L469.6,245.3 L469.4,243.8 L469.2,242.3 L469.0,240.8 L468.8,239.3 L468.6,237.8 L468.4,236.3 L468.2,234.8 L468.0,233.3 L467.8,231.8 L467.6,230.3 L467.3,228.8 L467.0,227.3 L466.7,225.8 L466.5,224.3 L466.2,222.8 L465.9,221.3 L465.6,219.8 L465.3,218.3 L465.0,216.8 L464.8,215.3 L464.5,213.8 L464.2,212.3 L463.9,210.8 L463.6,209.3 L463.3,207.8 L463.0,206.3 L462.7,204.8 L462.4,203.3 L462.1,201.8 L461.8,200.3 L461.4,198.8 L461.1,197.3 L460.7,195.8 L460.3,194.3 L459.9,192.8 L459.5,191.3 L459.2,189.8 L458.8,188.3 L458.4,186.8 L458.0,185.3 L457.7,183.8 L457.3,182.3 L456.9,180.8 L456.5,179.3 L456.2,177.8 L455.8,176.3 L455.4,174.8 L455.0,173.3 L454.7,171.8 L454.3,170.3 L453.8,168.8 L453.3,167.3 L452.7,165.8 L452.2,164.3 L451.7,162.8 L451.2,161.3 L451.2,159.8 L451.2,158.3 L451.2,156.8 L451.2,155.3 L451.2,153.8 L451.2,152.3 L451.2,150.8"/><path d="M433.0,341.0 L447.1,339.5 L451.2,338.0 L454.1,336.5 L456.5,335.0 L458.6,333.5 L460.5,332.0 L462.2,330.5 L463.8,329.0 L465.2,327.5 L466.5,326.0 L467.8,324.5 L468.3,323.0 L468.4,321.5 L468.6,320.0 L468.6,318.5 L468.7,317.0 L468.8,315.5 L468.9,314.0 L469.0,312.5 L469.1,311.0 L469.2,309.5 L469.3,308.0 L469.4,306.5 L469.5,305.0 L469.6,303.5 L469.7,302.0 L469.8,300.5 L469.9,299.0 L470.0,297.5 L470.1,296.0 L470.2,294.5 L470.3,293.0 L470.4,291.5 L470.5,290.0 L470.6,288.5 L470.6,287.0 L470.7,285.5 L470.8,284.0 L470.9,282.5 L471.0,281.0 L471.1,279.5 L471.1,278.0 L471.1,276.5 L471.1,275.0 L471.1,273.5 L471.1,272.0 L471.1,270.5 L471.1,269.0 L471.1,267.5 L471.1,266.0 L471.1,264.5 L471.1,263.0 L471.0,261.5 L470.9,260.0 L470.8,258.5 L470.7,257.0 L470.6,255.5 L470.5,254.0 L470.4,252.5 L470.3,251.0 L470.2,249.5 L470.1,248.0 L469.9,246.5 L469.7,245.0 L469.5,243.5 L469.3,242.0 L469.1,240.5 L468.9,239.0 L468.7,237.5 L468.5,236.0 L468.3,234.5 L468.1,233.0 L467.9,231.5 L467.7,230.0 L467.4,228.5 L467.1,227.0 L466.8,225.5 L466.5,224.0 L466.3,222.5 L466.0,221.0 L465.7,219.5 L465.4,218.0 L465.1,216.5 L464.8,215.0 L464.5,213.5 L464.2,212.0 L463.9,210.5 L463.6,209.0 L463.3,207.5 L463.0,206.0 L462.7,204.5 L462.5,203.0 L462.2,201.5 L461.9,200.0 L461.5,198.5 L461.1,197.0 L460.7,195.5 L460.4,194.0 L460.0,192.5 L459.6,191.0 L459.2,189.5 L458.8,188.0 L458.5,186.5 L458.1,185.0 L457.7,183.5 L457.3,182.0 L457.0,180.5 L456.6,179.0 L456.2,177.5 L455.8,176.0 L455.5,174.5 L455.1,173.0 L454.7,171.5 L454.4,170.0 L453.8,168.5 L453.3,167.0 L452.8,165.5 L452.2,164.0 L451.7,162.5 L451.4,161.0 L451.4,159.5 L451.4,158.0 L451.4,156.5 L451.4,155.0 L451.4,153.5 L451.4,152.0 L451.4,150.5"/><path d="M430.8,352.2 L443.4,350.7 L447.2,349.2 L450.0,347.7 L452.4,346.2 L454.5,344.7 L456.2,343.2 L457.8,341.7 L459.3,340.2 L460.8,338.7 L462.1,337.2 L463.4,335.7 L464.6,334.2 L465.8,332.7 L467.0,331.2 L467.8,329.7 L468.0,328.2 L468.1,326.7 L468.2,325.2 L468.4,323.7 L468.5,322.2 L468.6,320.7 L468.7,319.2 L468.8,317.7 L468.9,316.2 L469.0,314.7 L469.1,313.2 L469.2,311.7 L469.3,310.2 L469.4,308.7 L469.5,307.2 L469.6,305.7 L469.7,304.2 L469.8,302.7 L469.9,301.2 L470.0,299.7 L470.1,298.2 L470.2,296.7 L470.3,295.2 L470.4,293.7 L470.5,292.2 L470.5,290.7 L470.6,289.2 L470.7,287.7 L470.8,286.2 L470.9,284.7 L471.0,283.2 L471.1,281.7 L471.2,280.2 L471.2,278.7 L471.2,277.2 L471.2,275.7 L471.2,274.2 L471.2,272.7 L471.2,271.2 L471.2,269.7 L471.2,268.2 L471.2,266.7 L471.2,265.2 L471.2,263.7 L471.2,262.2 L471.1,260.7 L471.0,259.2 L470.9,257.7 L470.8,256.2 L470.7,254.7 L470.6,253.2 L470.4,251.7 L470.3,250.2 L470.2,248.7 L470.1,247.2 L470.0,245.7 L469.7,244.2 L469.5,242.7 L469.3,241.2 L469.1,239.7 L468.9,238.2 L468.7,236.7 L468.5,235.2 L468.3,233.7 L468.1,232.2 L467.9,230.7 L467.6,229.2 L467.4,227.7 L467.1,226.2 L466.8,224.7 L466.5,223.2 L466.2,221.7 L465.9,220.2 L465.7,218.7 L465.4,217.2 L465.1,215.7 L464.8,214.2 L464.5,212.7 L464.2,211.2 L463.9,209.7 L463.6,208.2 L463.3,206.7 L463.0,205.2 L462.7,203.7 L462.4,202.2 L462.1,200.7 L461.8,199.2 L461.4,197.7 L461.0,196.2 L460.7,194.7 L460.3,193.2 L459.9,191.7 L459.5,190.2 L459.1,188.7 L458.8,187.2 L458.4,185.7 L458.0,184.2 L457.6,182.7 L457.3,181.2 L456.9,179.7 L456.5,178.2 L456.2,176.7 L455.8,175.2 L455.4,173.7 L455.0,172.2 L454.7,170.7 L454.2,169.2 L453.7,167.7 L453.1,166.2 L452.6,164.7 L452.1,163.2 L451.6,161.7 L451.5,160.2 L451.5,158.7 L451.5,157.2 L451.5,155.7 L451.5,154.2 L451.5,152.7 L451.5,151.2"/><path d="M421.5,368.5 L433.0,367.0 L436.6,365.5 L439.3,364.0 L441.7,362.5 L443.9,361.0 L446.0,359.5 L447.9,358.0 L449.6,356.5 L451.2,355.0 L452.7,353.5 L454.2,352.0 L455.7,350.5 L457.2,349.0 L458.6,347.5 L460.0,346.0 L461.3,344.5 L462.4,343.0 L463.4,341.5 L464.5,340.0 L465.5,338.5 L466.5,337.0 L467.0,335.5 L467.3,334.0 L467.5,332.5 L467.8,331.0 L468.0,329.5 L468.1,328.0 L468.2,326.5 L468.4,325.0 L468.5,323.5 L468.6,322.0 L468.8,320.5 L468.9,319.0 L469.0,317.5 L469.1,316.0 L469.1,314.5 L469.2,313.0 L469.3,311.5 L469.4,310.0 L469.5,308.5 L469.6,307.0 L469.7,305.5 L469.8,304.0 L469.9,302.5 L470.0,301.0 L470.1,299.5 L470.2,298.0 L470.3,296.5 L470.4,295.0 L470.5,293.5 L470.6,292.0 L470.7,290.5 L470.8,289.0 L470.9,287.5 L471.0,286.0 L471.1,284.5 L471.1,283.0 L471.2,281.5 L471.3,280.0 L471.3,278.5 L471.3,277.0 L471.3,275.5 L471.3,274.0 L471.3,272.5 L471.3,271.0 L471.3,269.5 L471.3,268.0 L471.3,266.5 L471.3,265.0 L471.3,263.5 L471.3,262.0 L471.2,260.5 L471.1,259.0 L471.0,257.5 L470.9,256.0 L470.8,254.5 L470.7,253.0 L470.6,251.5 L470.5,250.0 L470.3,248.5 L470.2,247.0 L470.1,245.5 L469.8,244.0 L469.6,242.5 L469.4,241.0 L469.2,239.5 L469.0,238.0 L468.8,236.5 L468.6,235.0 L468.4,233.5 L468.2,232.0 L468.0,230.5 L467.7,229.0 L467.5,227.5 L467.2,226.0 L466.9,224.5 L466.6,223.0 L466.3,221.5 L466.0,220.0 L465.8,218.5 L465.5,217.0 L465.2,215.5 L464.9,214.0 L464.6,212.5 L464.3,211.0 L464.0,209.5 L463.7,208.0 L463.4,206.5 L463.1,205.0 L462.8,203.5 L462.5,202.0 L462.2,200.5 L461.9,199.0 L461.5,197.5 L461.1,196.0 L460.7,194.5 L460.4,193.0 L460.0,191.5 L459.6,190.0 L459.2,188.5 L458.9,187.0 L458.5,185.5 L458.1,184.0 L457.7,182.5 L457.3,181.0 L457.0,179.5 L456.6,178.0 L456.2,176.5 L455.9,175.0 L455.5,173.5 L455.1,172.0 L454.7,170.5 L454.3,169.0 L453.7,167.5 L453.2,166.0 L452.7,164.5 L452.1,163.0 L451.6,161.5 L451.6,160.0 L451.6,158.5 L451.6,157.0 L451.6,155.5 L451.6,154.0 L451.6,152.5 L451.6,151.0"/><path d="M393.5,389.6 L406.5,388.1 L410.5,386.6 L413.6,385.1 L416.3,383.6 L418.9,382.1 L421.2,380.6 L423.6,379.1 L425.8,377.6 L428.0,376.1 L430.2,374.6 L432.3,373.1 L434.5,371.6 L436.5,370.1 L438.3,368.6 L440.1,367.1 L441.9,365.6 L443.7,364.1 L445.4,362.6 L447.2,361.1 L448.9,359.6 L450.6,358.1 L452.0,356.6 L453.4,355.1 L454.8,353.6 L456.2,352.1 L457.6,350.6 L459.0,349.1 L460.4,347.6 L461.7,346.1 L463.0,344.6 L464.1,343.1 L465.1,341.6 L466.1,340.1 L466.6,338.6 L466.9,337.1 L467.1,335.6 L467.4,334.1 L467.6,332.6 L467.9,331.1 L468.1,329.6 L468.2,328.1 L468.4,326.6 L468.5,325.1 L468.6,323.6 L468.8,322.1 L468.9,320.6 L469.0,319.1 L469.1,317.6 L469.2,316.1 L469.3,314.6 L469.4,313.1 L469.5,311.6 L469.5,310.1 L469.6,308.6 L469.7,307.1 L469.8,305.6 L469.9,304.1 L470.0,302.6 L470.1,301.1 L470.2,299.6 L470.3,298.1 L470.4,296.6 L470.5,295.1 L470.6,293.6 L470.7,292.1 L470.8,290.6 L470.9,289.1 L471.0,287.6 L471.1,286.1 L471.2,284.6 L471.3,283.1 L471.4,281.6 L471.4,280.1 L471.4,278.6 L471.4,277.1 L471.4,275.6 L471.4,274.1 L471.4,272.6 L471.4,271.1 L471.4,269.6 L471.4,268.1 L471.4,266.6 L471.4,265.1 L471.4,263.6 L471.4,262.1 L471.3,260.6 L471.2,259.1 L471.1,257.6 L471.0,256.1 L470.9,254.6 L470.8,253.1 L470.7,251.6 L470.6,250.1 L470.5,248.6 L470.4,247.1 L470.2,245.6 L470.0,244.1 L469.8,242.6 L469.6,241.1 L469.4,239.6 L469.2,238.1 L469.0,236.6 L468.8,235.1 L468.5,233.6 L468.3,232.1 L468.1,230.6 L467.9,229.1 L467.6,227.6 L467.3,226.1 L467.0,224.6 L466.8,223.1 L466.5,221.6 L466.2,220.1 L465.9,218.6 L465.6,217.1 L465.3,215.6 L465.0,214.1 L464.7,212.6 L464.4,211.1 L464.1,209.6 L463.9,208.1 L463.6,206.6 L463.3,205.1 L463.0,203.6 L462.7,202.1 L462.4,200.6 L462.0,199.1 L461.6,197.6 L461.3,196.1 L460.9,194.6 L460.5,193.1 L460.1,191.6 L459.8,190.1 L459.4,188.6 L459.0,187.1 L458.6,185.6 L458.3,184.1 L457.9,182.6 L457.5,181.1 L457.1,179.6 L456.8,178.1 L456.4,176.6 L456.0,175.1 L455.6,173.6 L455.3,172.1 L454.9,170.6 L454.4,169.1 L453.9,167.6 L453.4,166.1 L452.8,164.6 L452.3,163.1 L451.8,161.6 L451.8,160.1 L451.8,158.6 L451.8,157.1 L451.8,155.6 L451.8,154.1 L451.8,152.6 L451.8,151.1"/></g><g clip-path="url(#cp)" fill="none" stroke="#22062e" stroke-width="1.4"><path d="M165.0,266.4 L175.0,269.5 L180.0,271.0 L185.0,272.6 L190.0,274.1 L195.0,275.7 L200.0,277.2 L205.0,278.7 L210.0,280.2 L215.0,281.7 L220.0,283.2 L225.0,284.7 L230.0,286.2 L235.0,287.7 L240.0,289.1 L245.0,290.6 L250.0,292.1 L255.0,293.5 L260.0,295.0 L265.0,296.4 L270.0,297.9 L275.0,299.3 L280.0,300.7 L285.0,302.1 L290.0,303.6 L295.0,305.0 L300.0,306.4 L305.0,307.8 L310.0,309.2 L315.0,310.5 L320.0,311.9 L325.0,313.3 L330.0,314.7 L335.0,316.0 L340.0,317.4 L345.0,318.7 L350.0,320.1 L355.0,321.4 L360.0,322.7 L365.0,324.1 L370.0,325.4 L375.0,326.7 L380.0,328.0 L385.0,329.3 L390.0,330.6 L395.0,331.9 L400.0,333.2 L405.0,334.5 L410.0,335.7 L415.0,337.0 L420.0,338.2 L425.0,339.5 L430.0,340.7 L435.0,342.0 L440.0,343.2 L445.0,344.5 L450.0,345.7 L455.0,346.9 L460.0,348.1 L465.0,349.3"/><path d="M155.0,273.9 L165.0,277.0 L170.0,278.5 L175.0,280.1 L180.0,281.6 L185.0,283.2 L190.0,284.7 L195.0,286.2 L200.0,287.7 L205.0,289.2 L210.0,290.7 L215.0,292.2 L220.0,293.7 L225.0,295.2 L230.0,296.6 L235.0,298.1 L240.0,299.6 L245.0,301.0 L250.0,302.5 L255.0,303.9 L260.0,305.4 L265.0,306.8 L270.0,308.2 L275.0,309.6 L280.0,311.1 L285.0,312.5 L290.0,313.9 L295.0,315.3 L300.0,316.7 L305.0,318.0 L310.0,319.4 L315.0,320.8 L320.0,322.2 L325.0,323.5 L330.0,324.9 L335.0,326.2 L340.0,327.6 L345.0,328.9 L350.0,330.2 L355.0,331.6 L360.0,332.9 L365.0,334.2 L370.0,335.5 L375.0,336.8 L380.0,338.1 L385.0,339.4 L390.0,340.7 L395.0,342.0 L400.0,343.2 L405.0,344.5 L410.0,345.7 L415.0,347.0 L420.0,348.2 L425.0,349.5 L430.0,350.7 L435.0,352.0 L440.0,353.2 L445.0,354.4 L450.0,355.6 L455.0,356.8 L460.0,358.0 L465.0,359.2"/><path d="M150.0,282.2 L160.0,285.5 L165.0,287.1 L170.0,288.8 L175.0,290.4 L180.0,292.1 L185.0,293.7 L190.0,295.3 L195.0,296.9 L200.0,298.5 L205.0,300.1 L210.0,301.7 L215.0,303.3 L220.0,304.9 L225.0,306.4 L230.0,308.0 L235.0,309.6 L240.0,311.1 L245.0,312.7 L250.0,314.2 L255.0,315.8 L260.0,317.3 L265.0,318.8 L270.0,320.3 L275.0,321.9 L280.0,323.4 L285.0,324.9 L290.0,326.4 L295.0,327.9 L300.0,329.3 L305.0,330.8 L310.0,332.3 L315.0,333.8 L320.0,335.2 L325.0,336.7 L330.0,338.1 L335.0,339.6 L340.0,341.0 L345.0,342.4 L350.0,343.9 L355.0,345.3 L360.0,346.7 L365.0,348.1 L370.0,349.5 L375.0,350.9 L380.0,352.3 L385.0,353.7 L390.0,355.1 L395.0,356.4 L400.0,357.8 L405.0,359.1 L410.0,360.5 L415.0,361.8 L420.0,363.2 L425.0,364.5 L430.0,365.9 L435.0,367.2 L440.0,368.5 L445.0,369.8 L450.0,371.1 L455.0,372.4 L460.0,373.7 L465.0,375.0"/><path d="M145.0,294.2 L155.0,297.5 L160.0,299.1 L165.0,300.8 L170.0,302.4 L175.0,304.1 L180.0,305.7 L185.0,307.3 L190.0,308.9 L195.0,310.5 L200.0,312.1 L205.0,313.7 L210.0,315.3 L215.0,316.9 L220.0,318.4 L225.0,320.0 L230.0,321.6 L235.0,323.1 L240.0,324.7 L245.0,326.2 L250.0,327.8 L255.0,329.3 L260.0,330.8 L265.0,332.3 L270.0,333.9 L275.0,335.4 L280.0,336.9 L285.0,338.4 L290.0,339.9 L295.0,341.3 L300.0,342.8 L305.0,344.3 L310.0,345.8 L315.0,347.2 L320.0,348.7 L325.0,350.1 L330.0,351.6 L335.0,353.0 L340.0,354.4 L345.0,355.9 L350.0,357.3 L355.0,358.7 L360.0,360.1 L365.0,361.5 L370.0,362.9 L375.0,364.3 L380.0,365.7 L385.0,367.1 L390.0,368.4 L395.0,369.8 L400.0,371.1 L405.0,372.5 L410.0,373.8 L415.0,375.2 L420.0,376.5 L425.0,377.9 L430.0,379.2 L435.0,380.5 L440.0,381.8 L445.0,383.1 L450.0,384.4 L455.0,385.7 L460.0,387.0 L465.0,388.3"/><path d="M140.0,307.3 L150.0,310.5 L155.0,312.1 L160.0,313.7 L165.0,315.3 L170.0,316.9 L175.0,318.4 L180.0,320.0 L185.0,321.6 L190.0,323.1 L195.0,324.7 L200.0,326.2 L205.0,327.7 L210.0,329.3 L215.0,330.8 L220.0,332.3 L225.0,333.8 L230.0,335.3 L235.0,336.8 L240.0,338.3 L245.0,339.8 L250.0,341.3 L255.0,342.8 L260.0,344.2 L265.0,345.7 L270.0,347.2 L275.0,348.6 L280.0,350.1 L285.0,351.5 L290.0,352.9 L295.0,354.4 L300.0,355.8 L305.0,357.2 L310.0,358.6 L315.0,360.0 L320.0,361.4 L325.0,362.8 L330.0,364.2 L335.0,365.6 L340.0,367.0 L345.0,368.3 L350.0,369.7 L355.0,371.1 L360.0,372.4 L365.0,373.8 L370.0,375.1 L375.0,376.4 L380.0,377.8 L385.0,379.1 L390.0,380.4 L395.0,381.7 L400.0,383.0 L405.0,384.3 L410.0,385.6 L415.0,386.9 L420.0,388.2 L425.0,389.4 L430.0,390.7 L435.0,392.0 L440.0,393.2 L445.0,394.5 L450.0,395.7 L455.0,396.9 L460.0,398.2 L465.0,399.4"/><path d="M145.0,330.5 L155.0,333.5 L160.0,335.0 L165.0,336.5 L170.0,338.0 L175.0,339.5 L180.0,340.9 L185.0,342.4 L190.0,343.9 L195.0,345.3 L200.0,346.8 L205.0,348.2 L210.0,349.6 L215.0,351.1 L220.0,352.5 L225.0,353.9 L230.0,355.3 L235.0,356.7 L240.0,358.1 L245.0,359.5 L250.0,360.9 L255.0,362.3 L260.0,363.7 L265.0,365.0 L270.0,366.4 L275.0,367.8 L280.0,369.1 L285.0,370.5 L290.0,371.8 L295.0,373.1 L300.0,374.5 L305.0,375.8 L310.0,377.1 L315.0,378.4 L320.0,379.7 L325.0,381.0 L330.0,382.3 L335.0,383.6 L340.0,384.9 L345.0,386.2 L350.0,387.4 L355.0,388.7 L360.0,390.0 L365.0,391.2 L370.0,392.5 L375.0,393.7 L380.0,394.9 L385.0,396.2 L390.0,397.4 L395.0,398.6 L400.0,399.8 L405.0,401.0 L410.0,402.2 L415.0,403.4 L420.0,404.6 L425.0,405.8 L430.0,406.9 L435.0,408.1 L440.0,409.3 L445.0,410.4 L450.0,411.6 L455.0,412.7 L460.0,413.8 L465.0,415.0"/><path d="M160.0,364.3 L170.0,367.0 L175.0,368.3 L180.0,369.7 L185.0,371.0 L190.0,372.4 L195.0,373.7 L200.0,375.0 L205.0,376.3 L210.0,377.6 L215.0,378.9 L220.0,380.2 L225.0,381.5 L230.0,382.8 L235.0,384.0 L240.0,385.3 L245.0,386.6 L250.0,387.8 L255.0,389.1 L260.0,390.3 L265.0,391.6 L270.0,392.8 L275.0,394.0 L280.0,395.2 L285.0,396.5 L290.0,397.7 L295.0,398.9 L300.0,400.1 L305.0,401.3 L310.0,402.4 L315.0,403.6 L320.0,404.8 L325.0,406.0 L330.0,407.1 L335.0,408.3 L340.0,409.4 L345.0,410.6 L350.0,411.7 L355.0,412.8 L360.0,414.0 L365.0,415.1 L370.0,416.2 L375.0,417.3 L380.0,418.4 L385.0,419.5 L390.0,420.6 L395.0,421.7 L400.0,422.8 L405.0,423.8 L410.0,424.9 L415.0,425.9 L420.0,427.0 L425.0,428.0 L430.0,429.1 L435.0,430.1 L440.0,431.2 L445.0,432.2 L450.0,433.2 L455.0,434.2 L460.0,435.2 L465.0,436.2"/></g><polygon points="356.5,462.5 362,458.5 364.5,461 360,464.5" fill="#e8603c" opacity="0.85"/><path d="M467.6,334.0 C467.3,335.8 466.9,340.9 465.8,345.0 C464.7,349.1 462.9,354.1 460.8,358.3 C458.7,362.6 456.2,366.6 453.3,370.5 C450.4,374.4 446.6,377.9 443.5,381.5 C440.4,385.1 437.8,388.4 434.7,392.0 C431.6,395.6 428.2,399.3 425.0,402.9 C421.8,406.4 418.7,410.2 415.6,413.3 C412.5,416.4 409.7,418.7 406.2,421.7 C402.8,424.7 398.9,428.2 395.0,431.5 C391.1,434.8 387.0,438.1 383.0,441.5 C379.0,444.9 374.7,448.6 371.0,452.0 C367.3,455.4 362.7,460.3 361.0,462.0 L357.9,460.5 C359.5,458.8 364.1,453.9 367.8,450.5 C371.4,447.1 375.7,443.4 379.7,440.0 C383.6,436.6 387.7,433.3 391.5,430.0 C395.4,426.7 399.3,423.2 402.7,420.2 C406.1,417.2 408.8,414.9 411.9,411.8 C415.0,408.7 418.0,404.9 421.2,401.4 C424.3,397.8 427.7,394.1 430.8,390.5 C433.8,386.9 436.4,383.6 439.5,380.0 C442.5,376.4 446.3,372.9 449.1,369.0 C452.0,365.1 454.5,361.1 456.5,356.8 C458.6,352.6 460.3,347.6 461.4,343.5 C462.5,339.4 462.8,334.3 463.1,332.5 Z" fill="#b040d0" opacity="0.35"/><path d="M290.0,55.5 C286.3,57.0 275.9,61.4 267.6,64.8 C259.3,68.2 247.7,72.9 240.0,76.0 C232.3,79.1 228.4,80.5 221.7,83.5 C215.0,86.5 206.1,90.9 200.0,94.0 C193.9,97.1 189.8,99.1 185.0,102.0 C180.2,104.9 174.8,108.6 171.0,111.5 C167.2,114.4 164.7,116.8 162.0,119.5 C159.3,122.2 157.0,124.5 155.0,127.5 C153.0,130.5 151.4,133.8 150.0,137.5 C148.6,141.2 147.2,145.4 146.5,150.0 C145.8,154.6 145.4,159.8 145.5,165.0 C145.6,170.2 146.1,175.7 147.0,181.0 C147.9,186.3 149.5,191.8 151.0,197.0 C152.5,202.2 154.2,207.0 156.0,212.0 C157.8,217.0 160.0,222.0 162.0,227.0 C164.0,232.0 165.8,237.7 168.0,242.0 C170.2,246.3 173.8,251.2 175.0,253.0" fill="none" stroke="#6a6a6a" stroke-width="0.7" opacity="0.55"/><line x1="77" y1="311" x2="359" y2="464" stroke="#222" stroke-width="1.0" opacity="1"/><line x1="359" y1="464" x2="592" y2="292" stroke="#222" stroke-width="1.0" opacity="1"/><line x1="57.5" y1="143" x2="77" y2="311" stroke="#222" stroke-width="1.0" opacity="1"/><polygon points="49.2,143.3 55.8,143.3 74.2,310.3 67.8,310.3" fill="url(#cbg)"/><text transform="translate(54.5,36) scale(0.96,1)" font-size="18.4" fill="#1a1a1a" stroke="#1a1a1a" stroke-width="0.12" >Contours of the optimization</text><text transform="translate(82.5,57) scale(0.96,1)" font-size="18.4" fill="#1a1a1a" stroke="#1a1a1a" stroke-width="0.12" >constraint function</text><text transform="translate(229.2,57.6) scale(1.0,1)" font-size="18" font-family="Liberation Serif" font-style="italic" fill="#1a1a1a" stroke="#1a1a1a" stroke-width="0.45">ϒ</text><text transform="translate(237,61.2) scale(0.96,1)" font-size="13.5" fill="#1a1a1a" stroke="#1a1a1a" stroke-width="0.12" >e</text><text transform="translate(295.3,15) scale(0.96,1)" font-size="18.4" fill="#1a1a1a" stroke="#1a1a1a" stroke-width="0.12" >Absorption into electrons <tspan font-style="italic">f</tspan><tspan font-size="12.5" dy="5">e</tspan></text><text transform="translate(484.5,55) scale(0.96,1)" font-size="18.4" fill="#1a1a1a" stroke="#1a1a1a" stroke-width="0.12" >Absorption into ions <tspan font-style="italic">f</tspan><tspan font-size="12.5" dy="4">i</tspan></text><text transform="translate(433.8,127.2) scale(1.08,1)" font-size="18" font-family="Liberation Serif" font-style="italic" fill="#1a1a1a" stroke="#1a1a1a" stroke-width="0.45">ϒ</text><text transform="translate(444,131.3) scale(0.96,1)" font-size="13.5" fill="#1a1a1a" stroke="#1a1a1a" stroke-width="0.12" >e</text><text transform="translate(451,127) scale(0.96,1)" font-size="18.4" fill="#1a1a1a" stroke="#1a1a1a" stroke-width="0.12" >=1</text><text transform="translate(406.2,149.3) scale(1.05,1)" font-size="18" font-family="Liberation Serif" font-style="italic" fill="#1a1a1a" stroke="#1a1a1a" stroke-width="0.45">ϒ</text><text transform="translate(416.5,154.3) scale(0.96,1)" font-size="13.5" fill="#1a1a1a" stroke="#1a1a1a" stroke-width="0.12" >e</text><text transform="translate(427.2,149) scale(0.96,1)" font-size="18.4" fill="#1a1a1a" stroke="#1a1a1a" stroke-width="0.12" >&gt;1</text><text transform="translate(478.5,223.6) scale(0.96,1)" font-size="18.4" fill="#4a78bc" stroke="#4a78bc" stroke-width="0.12" >Lower bound <tspan font-style="italic">f</tspan><tspan font-size="9" dy="2">*</tspan></text><text transform="translate(31.5,379.6) scale(0.96,1)" font-size="18.4" fill="#e4533a" stroke="#e4533a" stroke-width="0.12" >Upper bound <tspan font-style="italic">f</tspan><tspan dx="1.5">*</tspan></text><text transform="translate(92,433) scale(0.975,1)" font-size="18.4" fill="#1a1a1a" stroke="#1a1a1a" stroke-width="0.12" >Total absorption</text><text transform="translate(525.5,403.9) scale(0.965,1)" font-size="18.4" fill="#1a1a1a" stroke="#1a1a1a" stroke-width="0.12" >Log [<tspan font-style="italic">I</tspan><tspan font-size="12.5" dy="3" dx="0.8">l</tspan><tspan font-style="italic" dy="-3" dx="1">λ</tspan><tspan font-size="12.5" dy="3" dx="0.5">l</tspan><tspan font-size="12.5" dy="-10" dx="0.5">2</tspan><tspan dy="7" dx="0.5">/</tspan><tspan font-style="italic">n</tspan><tspan font-size="12.5" dy="3">0</tspan><tspan dy="-3">] x const.</tspan></text><text transform="translate(20.8,153) scale(0.96,1)" font-size="18.4" fill="#1a1a1a" stroke="#1a1a1a" stroke-width="0.12" >1.0</text><text transform="translate(30,237.6) scale(0.96,1)" font-size="18.4" fill="#1a1a1a" stroke="#1a1a1a" stroke-width="0.12" >0.5</text><text transform="translate(55.5,319.6) scale(0.96,1)" font-size="18.4" fill="#1a1a1a" stroke="#1a1a1a" stroke-width="0.12" >0</text><text transform="translate(59,334) scale(0.96,1)" font-size="18.4" fill="#1a1a1a" stroke="#1a1a1a" stroke-width="0.12" >1.0</text><text transform="translate(178.5,400.6) scale(0.96,1)" font-size="18.4" fill="#1a1a1a" stroke="#1a1a1a" stroke-width="0.12" >0.5</text><text transform="translate(330.5,476) scale(0.96,1)" font-size="18.4" fill="#1a1a1a" stroke="#1a1a1a" stroke-width="0.12" >0.0</text><text transform="translate(400.5,447) scale(0.96,1)" font-size="18.4" fill="#1a1a1a" stroke="#1a1a1a" stroke-width="0.12" >−2.0</text><text transform="translate(458.5,404) scale(0.96,1)" font-size="18.4" fill="#1a1a1a" stroke="#1a1a1a" stroke-width="0.12" >−1.5</text><text transform="translate(518,361.1) scale(0.96,1)" font-size="18.4" fill="#1a1a1a" stroke="#1a1a1a" stroke-width="0.12" >−1.0</text><text transform="translate(577,318) scale(0.96,1)" font-size="18.4" fill="#1a1a1a" stroke="#1a1a1a" stroke-width="0.12" >−0.5</text><text transform="translate(19.5,260) rotate(-90)" font-size="18.4" fill="#1a1a1a"><tspan font-style="italic">f</tspan><tspan font-size="12.5" dy="4">e</tspan><tspan dy="-4">, </tspan><tspan font-style="italic">f</tspan><tspan font-size="12.5" dy="4">i</tspan></text><line x1="169" y1="70" x2="201.5" y2="89.3" stroke="#555" stroke-width="1.0" opacity="1"/><line x1="400.9" y1="23.8" x2="360.2" y2="63.4" stroke="#808080" stroke-width="1.2"/><polyline points="361.4,57.4 358.8,64.8 366.3,62.4" fill="none" stroke="#808080" stroke-width="1.2"/><line x1="567.6" y1="64.5" x2="465.8" y2="164.9" stroke="#808080" stroke-width="1.2"/><polyline points="466.9,158.9 464.4,166.3 471.8,163.9" fill="none" stroke="#808080" stroke-width="1.2"/><line x1="541.6" y1="234.9" x2="483.0" y2="294.2" stroke="#7090c8" stroke-width="1.4"/><polyline points="484.0,288.2 481.6,295.6 489.0,293.1" fill="none" stroke="#7090c8" stroke-width="1.4"/><line x1="101.6" y1="356.8" x2="147.3" y2="326.4" stroke="#e8553a" stroke-width="1.4"/><polyline points="145.1,332.1 149,325.3 141.2,326.3" fill="none" stroke="#e8553a" stroke-width="1.4"/><line x1="427.5" y1="155" x2="427.5" y2="167.7" stroke="#777" stroke-width="1.0" opacity="1"/><line x1="451.5" y1="139.6" x2="451.5" y2="151" stroke="#777" stroke-width="1.0" opacity="1"/>
</svg></body></html>
